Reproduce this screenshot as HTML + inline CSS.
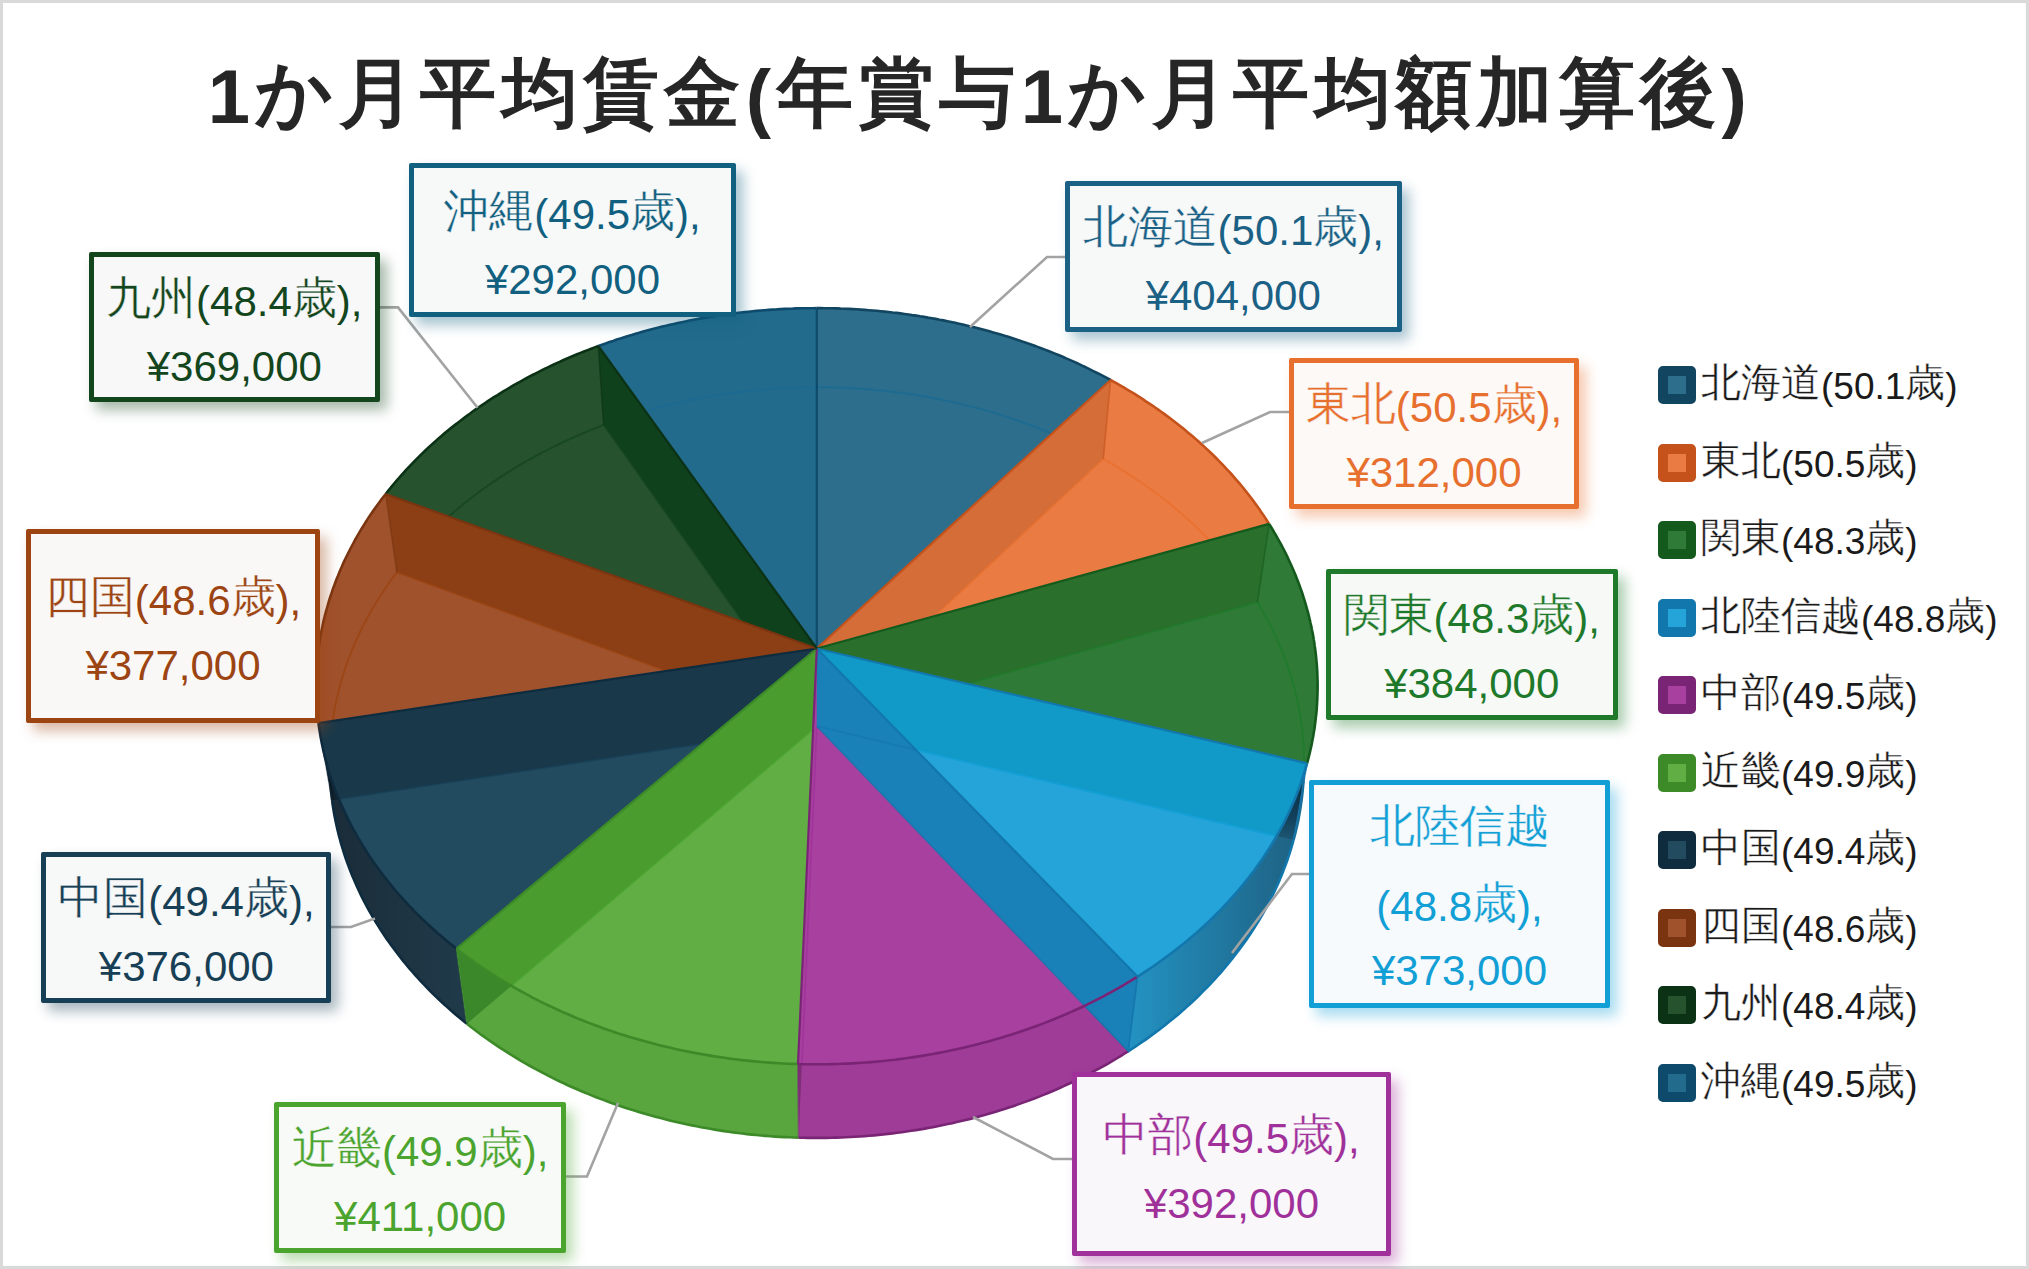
<!DOCTYPE html>
<html><head><meta charset="utf-8"><style>
html,body{margin:0;padding:0;}
body{width:2029px;height:1269px;background:#d9d9d9;position:relative;overflow:hidden;font-family:"Liberation Sans",sans-serif;}
#w{position:absolute;left:3px;top:3px;width:2023px;height:1263px;background:#fff;}
#title{position:absolute;left:0;top:52px;width:1960px;text-align:center;font-size:76px;font-weight:bold;color:#262626;line-height:90px;white-space:nowrap;letter-spacing:5.4px;}
#title .j{font-size:76px;position:relative;top:-4px;}
svg{position:absolute;left:0;top:0;}
.lb{position:absolute;box-sizing:border-box;border:5px solid;background:#f6f7f7;text-align:center;font-size:42px;white-space:nowrap;border-radius:2px;}
.ln{position:absolute;left:0;right:0;height:50px;line-height:50px;}
.lb .j{font-size:45px;position:relative;top:-3px;-webkit-text-stroke:0.4px #f8f8f8;}
.lg{position:absolute;left:1658px;height:38px;white-space:nowrap;}
.mk{position:absolute;left:0;top:0;width:38px;height:38px;box-sizing:border-box;border:10px solid;border-radius:5px;}
.lt{position:absolute;left:43px;top:-6px;font-size:37px;line-height:50px;color:#1a1a1a;}
.lt .j{font-size:40px;position:relative;top:-3px;-webkit-text-stroke:0.4px #fff;}
</style></head><body>
<div id="w"></div>
<div id="title">1<span class="j">か月平均賃金</span>(<span class="j">年賞与</span>1<span class="j">か月平均額加算後</span>)</div>
<svg width="2029" height="1269" viewBox="0 0 2029 1269">
<defs><clipPath id="ts0"><path d="M816.8,648.5 L816.8,308.1 L820.8,308.1 L824.8,308.2 L828.8,308.2 L832.8,308.3 L836.8,308.4 L840.8,308.6 L844.8,308.7 L848.8,308.9 L852.8,309.1 L856.8,309.3 L860.7,309.6 L864.7,309.9 L868.7,310.2 L872.7,310.5 L876.7,310.8 L880.6,311.2 L884.6,311.6 L888.6,312.0 L892.5,312.5 L896.5,312.9 L900.4,313.4 L904.4,314.0 L908.3,314.5 L912.2,315.1 L916.2,315.6 L920.1,316.3 L924.0,316.9 L927.9,317.6 L931.8,318.2 L935.7,318.9 L939.6,319.7 L943.5,320.4 L947.4,321.2 L951.2,322.0 L955.1,322.8 L958.9,323.7 L962.8,324.6 L966.6,325.4 L970.5,326.4 L974.3,327.3 L978.1,328.3 L981.9,329.3 L985.7,330.3 L989.5,331.3 L993.2,332.4 L997.0,333.5 L1000.7,334.6 L1004.5,335.7 L1008.2,336.8 L1011.9,338.0 L1015.6,339.2 L1019.3,340.4 L1023.0,341.7 L1026.7,342.9 L1030.3,344.2 L1034.0,345.5 L1037.6,346.9 L1041.2,348.2 L1044.9,349.6 L1048.4,351.0 L1052.0,352.4 L1055.6,353.9 L1059.1,355.3 L1062.7,356.8 L1066.2,358.4 L1069.7,359.9 L1073.2,361.4 L1076.7,363.0 L1080.2,364.6 L1083.6,366.3 L1087.0,367.9 L1090.4,369.6 L1093.8,371.3 L1097.2,373.0 L1100.6,374.7 L1103.9,376.4 L1107.3,378.2 L1110.6,380.0 Z"/></clipPath>
<clipPath id="ow0"><path d="M816.8,308.1 L820.8,308.1 L824.8,308.2 L828.8,308.2 L832.8,308.3 L836.8,308.4 L840.8,308.6 L844.8,308.7 L848.8,308.9 L852.8,309.1 L856.8,309.3 L860.7,309.6 L864.7,309.9 L868.7,310.2 L872.7,310.5 L876.7,310.8 L880.6,311.2 L884.6,311.6 L888.6,312.0 L892.5,312.5 L896.5,312.9 L900.4,313.4 L904.4,314.0 L908.3,314.5 L912.2,315.1 L916.2,315.6 L920.1,316.3 L924.0,316.9 L927.9,317.6 L931.8,318.2 L935.7,318.9 L939.6,319.7 L943.5,320.4 L947.4,321.2 L951.2,322.0 L955.1,322.8 L958.9,323.7 L962.8,324.6 L966.6,325.4 L970.5,326.4 L974.3,327.3 L978.1,328.3 L981.9,329.3 L985.7,330.3 L989.5,331.3 L993.2,332.4 L997.0,333.5 L1000.7,334.6 L1004.5,335.7 L1008.2,336.8 L1011.9,338.0 L1015.6,339.2 L1019.3,340.4 L1023.0,341.7 L1026.7,342.9 L1030.3,344.2 L1034.0,345.5 L1037.6,346.9 L1041.2,348.2 L1044.9,349.6 L1048.4,351.0 L1052.0,352.4 L1055.6,353.9 L1059.1,355.3 L1062.7,356.8 L1066.2,358.4 L1069.7,359.9 L1073.2,361.4 L1076.7,363.0 L1080.2,364.6 L1083.6,366.3 L1087.0,367.9 L1090.4,369.6 L1093.8,371.3 L1097.2,373.0 L1100.6,374.7 L1103.9,376.4 L1107.3,378.2 L1110.6,380.0 L1103.3,458.9 L1100.0,457.1 L1096.8,455.4 L1093.5,453.6 L1090.3,451.9 L1087.0,450.2 L1083.7,448.5 L1080.3,446.8 L1077.0,445.2 L1073.6,443.6 L1070.2,442.0 L1066.9,440.4 L1063.5,438.8 L1060.0,437.3 L1056.6,435.8 L1053.2,434.3 L1049.7,432.9 L1046.2,431.4 L1042.7,430.0 L1039.2,428.6 L1035.7,427.2 L1032.2,425.9 L1028.6,424.5 L1025.1,423.2 L1021.5,421.9 L1017.9,420.7 L1014.3,419.4 L1010.7,418.2 L1007.1,417.0 L1003.5,415.8 L999.9,414.7 L996.2,413.6 L992.6,412.5 L988.9,411.4 L985.2,410.3 L981.5,409.3 L977.8,408.3 L974.1,407.3 L970.4,406.3 L966.7,405.4 L962.9,404.5 L959.2,403.6 L955.5,402.7 L951.7,401.9 L947.9,401.1 L944.2,400.3 L940.4,399.5 L936.6,398.7 L932.8,398.0 L929.0,397.3 L925.2,396.6 L921.4,395.9 L917.6,395.3 L913.7,394.7 L909.9,394.1 L906.1,393.6 L902.2,393.0 L898.4,392.5 L894.5,392.0 L890.7,391.5 L886.8,391.1 L882.9,390.7 L879.1,390.3 L875.2,389.9 L871.3,389.6 L867.4,389.2 L863.6,388.9 L859.7,388.7 L855.8,388.4 L851.9,388.2 L848.0,388.0 L844.1,387.8 L840.2,387.6 L836.3,387.5 L832.4,387.4 L828.5,387.3 L824.6,387.3 L820.7,387.2 L816.8,387.2 Z"/></clipPath>
<clipPath id="ts1"><path d="M816.8,648.5 L1110.6,380.0 L1113.9,381.8 L1117.2,383.7 L1120.5,385.6 L1123.7,387.4 L1126.9,389.4 L1130.2,391.3 L1133.4,393.2 L1136.5,395.2 L1139.7,397.2 L1142.8,399.2 L1145.9,401.3 L1149.0,403.3 L1152.1,405.4 L1155.2,407.5 L1158.2,409.6 L1161.2,411.7 L1164.2,413.9 L1167.2,416.1 L1170.1,418.3 L1173.0,420.5 L1175.9,422.7 L1178.8,425.0 L1181.7,427.2 L1184.5,429.5 L1187.3,431.9 L1190.1,434.2 L1192.9,436.5 L1195.6,438.9 L1198.3,441.3 L1201.0,443.7 L1203.7,446.1 L1206.3,448.6 L1208.9,451.0 L1211.5,453.5 L1214.1,456.0 L1216.6,458.5 L1219.1,461.1 L1221.6,463.6 L1224.0,466.2 L1226.5,468.8 L1228.9,471.4 L1231.3,474.0 L1233.6,476.6 L1235.9,479.3 L1238.2,481.9 L1240.5,484.6 L1242.7,487.3 L1244.9,490.1 L1247.1,492.8 L1249.2,495.5 L1251.4,498.3 L1253.5,501.1 L1255.5,503.9 L1257.6,506.7 L1259.6,509.5 L1261.5,512.4 L1263.5,515.2 L1265.4,518.1 L1267.2,521.0 L1269.1,523.9 Z"/></clipPath>
<clipPath id="ow1"><path d="M1110.6,380.0 L1113.9,381.8 L1117.2,383.7 L1120.5,385.6 L1123.7,387.4 L1126.9,389.4 L1130.2,391.3 L1133.4,393.2 L1136.5,395.2 L1139.7,397.2 L1142.8,399.2 L1145.9,401.3 L1149.0,403.3 L1152.1,405.4 L1155.2,407.5 L1158.2,409.6 L1161.2,411.7 L1164.2,413.9 L1167.2,416.1 L1170.1,418.3 L1173.0,420.5 L1175.9,422.7 L1178.8,425.0 L1181.7,427.2 L1184.5,429.5 L1187.3,431.9 L1190.1,434.2 L1192.9,436.5 L1195.6,438.9 L1198.3,441.3 L1201.0,443.7 L1203.7,446.1 L1206.3,448.6 L1208.9,451.0 L1211.5,453.5 L1214.1,456.0 L1216.6,458.5 L1219.1,461.1 L1221.6,463.6 L1224.0,466.2 L1226.5,468.8 L1228.9,471.4 L1231.3,474.0 L1233.6,476.6 L1235.9,479.3 L1238.2,481.9 L1240.5,484.6 L1242.7,487.3 L1244.9,490.1 L1247.1,492.8 L1249.2,495.5 L1251.4,498.3 L1253.5,501.1 L1255.5,503.9 L1257.6,506.7 L1259.6,509.5 L1261.5,512.4 L1263.5,515.2 L1265.4,518.1 L1267.2,521.0 L1269.1,523.9 L1257.4,602.2 L1255.6,599.4 L1253.8,596.5 L1251.9,593.6 L1250.0,590.8 L1248.1,587.9 L1246.2,585.1 L1244.2,582.3 L1242.2,579.5 L1240.2,576.8 L1238.1,574.0 L1236.0,571.3 L1233.9,568.6 L1231.8,565.8 L1229.6,563.2 L1227.4,560.5 L1225.2,557.8 L1222.9,555.2 L1220.7,552.6 L1218.4,549.9 L1216.0,547.4 L1213.7,544.8 L1211.3,542.2 L1208.9,539.7 L1206.4,537.2 L1204.0,534.7 L1201.5,532.2 L1199.0,529.7 L1196.4,527.2 L1193.9,524.8 L1191.3,522.4 L1188.6,520.0 L1186.0,517.6 L1183.3,515.3 L1180.7,512.9 L1178.0,510.6 L1175.2,508.3 L1172.5,506.0 L1169.7,503.7 L1166.9,501.5 L1164.1,499.3 L1161.2,497.0 L1158.4,494.9 L1155.5,492.7 L1152.6,490.5 L1149.6,488.4 L1146.7,486.3 L1143.7,484.2 L1140.7,482.1 L1137.7,480.1 L1134.7,478.1 L1131.6,476.1 L1128.5,474.1 L1125.4,472.1 L1122.3,470.2 L1119.2,468.2 L1116.0,466.3 L1112.9,464.4 L1109.7,462.6 L1106.5,460.7 L1103.3,458.9 Z"/></clipPath>
<clipPath id="ts2"><path d="M816.8,648.5 L1269.1,523.9 L1270.9,526.8 L1272.7,529.7 L1274.4,532.7 L1276.2,535.6 L1277.8,538.6 L1279.5,541.6 L1281.1,544.5 L1282.7,547.5 L1284.3,550.6 L1285.8,553.6 L1287.3,556.6 L1288.7,559.7 L1290.1,562.7 L1291.5,565.8 L1292.9,568.9 L1294.2,572.0 L1295.5,575.1 L1296.7,578.2 L1298.0,581.4 L1299.1,584.5 L1300.3,587.7 L1301.4,590.8 L1302.5,594.0 L1303.5,597.2 L1304.5,600.4 L1305.5,603.6 L1306.4,606.8 L1307.3,610.0 L1308.2,613.2 L1309.0,616.5 L1309.8,619.7 L1310.5,623.0 L1311.3,626.2 L1311.9,629.5 L1312.6,632.8 L1313.2,636.0 L1313.7,639.3 L1314.3,642.6 L1314.7,645.9 L1315.2,649.2 L1315.6,652.5 L1316.0,655.8 L1316.3,659.2 L1316.6,662.5 L1316.9,665.8 L1317.1,669.2 L1317.3,672.5 L1317.4,675.9 L1317.5,679.2 L1317.6,682.6 L1317.6,685.9 L1317.6,689.3 L1317.5,692.6 L1317.4,696.0 L1317.3,699.4 L1317.1,702.7 L1316.9,706.1 L1316.7,709.5 L1316.4,712.8 L1316.0,716.2 L1315.6,719.6 L1315.2,723.0 L1314.8,726.3 L1314.3,729.7 L1313.7,733.1 L1313.2,736.5 L1312.5,739.8 L1311.9,743.2 L1311.2,746.6 L1310.4,749.9 L1309.7,753.3 L1308.8,756.7 L1308.0,760.0 L1307.1,763.4 Z"/></clipPath>
<clipPath id="ow2"><path d="M1269.1,523.9 L1270.9,526.8 L1272.7,529.7 L1274.4,532.7 L1276.2,535.6 L1277.8,538.6 L1279.5,541.6 L1281.1,544.5 L1282.7,547.5 L1284.3,550.6 L1285.8,553.6 L1287.3,556.6 L1288.7,559.7 L1290.1,562.7 L1291.5,565.8 L1292.9,568.9 L1294.2,572.0 L1295.5,575.1 L1296.7,578.2 L1298.0,581.4 L1299.1,584.5 L1300.3,587.7 L1301.4,590.8 L1302.5,594.0 L1303.5,597.2 L1304.5,600.4 L1305.5,603.6 L1306.4,606.8 L1307.3,610.0 L1308.2,613.2 L1309.0,616.5 L1309.8,619.7 L1310.5,623.0 L1311.3,626.2 L1311.9,629.5 L1312.6,632.8 L1313.2,636.0 L1313.7,639.3 L1314.3,642.6 L1314.7,645.9 L1315.2,649.2 L1315.6,652.5 L1316.0,655.8 L1316.3,659.2 L1316.6,662.5 L1316.9,665.8 L1317.1,669.2 L1317.3,672.5 L1317.4,675.9 L1317.5,679.2 L1317.6,682.6 L1317.6,685.9 L1317.6,689.3 L1317.5,692.6 L1317.4,696.0 L1317.3,699.4 L1317.1,702.7 L1316.9,706.1 L1316.7,709.5 L1316.4,712.8 L1316.0,716.2 L1315.6,719.6 L1315.2,723.0 L1314.8,726.3 L1314.3,729.7 L1313.7,733.1 L1313.2,736.5 L1312.5,739.8 L1311.9,743.2 L1311.2,746.6 L1310.4,749.9 L1309.7,753.3 L1308.8,756.7 L1308.0,760.0 L1307.1,763.4 L1293.5,840.1 L1294.4,836.8 L1295.3,833.5 L1296.1,830.1 L1296.9,826.8 L1297.6,823.5 L1298.3,820.1 L1299.0,816.8 L1299.6,813.4 L1300.1,810.1 L1300.7,806.7 L1301.2,803.4 L1301.6,800.1 L1302.0,796.7 L1302.4,793.4 L1302.8,790.0 L1303.1,786.7 L1303.3,783.3 L1303.5,780.0 L1303.7,776.6 L1303.9,773.3 L1304.0,769.9 L1304.0,766.6 L1304.1,763.3 L1304.0,759.9 L1304.0,756.6 L1303.9,753.3 L1303.8,750.0 L1303.6,746.7 L1303.4,743.3 L1303.2,740.0 L1302.9,736.7 L1302.6,733.4 L1302.2,730.1 L1301.8,726.8 L1301.4,723.6 L1301.0,720.3 L1300.5,717.0 L1299.9,713.7 L1299.3,710.5 L1298.7,707.2 L1298.1,704.0 L1297.4,700.7 L1296.7,697.5 L1295.9,694.3 L1295.1,691.1 L1294.3,687.9 L1293.5,684.7 L1292.6,681.5 L1291.6,678.3 L1290.7,675.1 L1289.7,672.0 L1288.6,668.8 L1287.5,665.7 L1286.4,662.5 L1285.3,659.4 L1284.1,656.3 L1282.9,653.2 L1281.7,650.1 L1280.4,647.0 L1279.1,644.0 L1277.8,640.9 L1276.4,637.8 L1275.0,634.8 L1273.5,631.8 L1272.1,628.8 L1270.6,625.8 L1269.0,622.8 L1267.4,619.8 L1265.8,616.8 L1264.2,613.9 L1262.6,611.0 L1260.9,608.0 L1259.1,605.1 L1257.4,602.2 Z"/></clipPath>
<clipPath id="ts3"><path d="M816.8,648.5 L1307.1,763.4 L1306.1,766.7 L1305.1,770.1 L1304.1,773.4 L1303.0,776.7 L1301.9,780.1 L1300.8,783.4 L1299.6,786.7 L1298.4,790.0 L1297.1,793.3 L1295.8,796.6 L1294.4,799.9 L1293.0,803.2 L1291.6,806.5 L1290.1,809.8 L1288.6,813.0 L1287.0,816.3 L1285.4,819.5 L1283.8,822.8 L1282.1,826.0 L1280.4,829.2 L1278.6,832.5 L1276.8,835.7 L1275.0,838.9 L1273.1,842.0 L1271.2,845.2 L1269.2,848.4 L1267.2,851.5 L1265.1,854.7 L1263.1,857.8 L1260.9,860.9 L1258.8,864.0 L1256.6,867.1 L1254.3,870.2 L1252.0,873.3 L1249.7,876.3 L1247.3,879.3 L1244.9,882.4 L1242.5,885.4 L1240.0,888.4 L1237.5,891.3 L1234.9,894.3 L1232.3,897.2 L1229.7,900.2 L1227.0,903.1 L1224.3,906.0 L1221.6,908.8 L1218.8,911.7 L1216.0,914.5 L1213.1,917.4 L1210.2,920.2 L1207.3,923.0 L1204.3,925.7 L1201.3,928.5 L1198.3,931.2 L1195.2,933.9 L1192.1,936.6 L1188.9,939.3 L1185.7,941.9 L1182.5,944.5 L1179.2,947.1 L1175.9,949.7 L1172.6,952.3 L1169.3,954.8 L1165.9,957.3 L1162.4,959.8 L1159.0,962.3 L1155.5,964.7 L1152.0,967.2 L1148.4,969.6 L1144.8,971.9 L1141.2,974.3 L1137.5,976.6 Z"/></clipPath>
<clipPath id="ow3"><path d="M1307.1,763.4 L1306.1,766.7 L1305.1,770.1 L1304.1,773.4 L1303.0,776.7 L1301.9,780.1 L1300.8,783.4 L1299.6,786.7 L1298.4,790.0 L1297.1,793.3 L1295.8,796.6 L1294.4,799.9 L1293.0,803.2 L1291.6,806.5 L1290.1,809.8 L1288.6,813.0 L1287.0,816.3 L1285.4,819.5 L1283.8,822.8 L1282.1,826.0 L1280.4,829.2 L1278.6,832.5 L1276.8,835.7 L1275.0,838.9 L1273.1,842.0 L1271.2,845.2 L1269.2,848.4 L1267.2,851.5 L1265.1,854.7 L1263.1,857.8 L1260.9,860.9 L1258.8,864.0 L1256.6,867.1 L1254.3,870.2 L1252.0,873.3 L1249.7,876.3 L1247.3,879.3 L1244.9,882.4 L1242.5,885.4 L1240.0,888.4 L1237.5,891.3 L1234.9,894.3 L1232.3,897.2 L1229.7,900.2 L1227.0,903.1 L1224.3,906.0 L1221.6,908.8 L1218.8,911.7 L1216.0,914.5 L1213.1,917.4 L1210.2,920.2 L1207.3,923.0 L1204.3,925.7 L1201.3,928.5 L1198.3,931.2 L1195.2,933.9 L1192.1,936.6 L1188.9,939.3 L1185.7,941.9 L1182.5,944.5 L1179.2,947.1 L1175.9,949.7 L1172.6,952.3 L1169.3,954.8 L1165.9,957.3 L1162.4,959.8 L1159.0,962.3 L1155.5,964.7 L1152.0,967.2 L1148.4,969.6 L1144.8,971.9 L1141.2,974.3 L1137.5,976.6 L1128.2,1051.3 L1131.8,1049.0 L1135.3,1046.7 L1138.8,1044.3 L1142.2,1041.9 L1145.7,1039.6 L1149.1,1037.1 L1152.4,1034.7 L1155.8,1032.2 L1159.1,1029.7 L1162.3,1027.2 L1165.6,1024.7 L1168.8,1022.1 L1172.0,1019.6 L1175.1,1017.0 L1178.2,1014.4 L1181.3,1011.7 L1184.3,1009.1 L1187.3,1006.4 L1190.3,1003.7 L1193.2,1001.0 L1196.1,998.2 L1198.9,995.5 L1201.8,992.7 L1204.5,989.9 L1207.3,987.1 L1210.0,984.3 L1212.7,981.4 L1215.3,978.5 L1217.9,975.7 L1220.5,972.8 L1223.0,969.9 L1225.5,966.9 L1228.0,964.0 L1230.4,961.0 L1232.8,958.0 L1235.1,955.0 L1237.4,952.0 L1239.7,949.0 L1241.9,946.0 L1244.1,942.9 L1246.3,939.9 L1248.4,936.8 L1250.5,933.7 L1252.5,930.6 L1254.5,927.5 L1256.5,924.4 L1258.4,921.3 L1260.3,918.1 L1262.1,915.0 L1263.9,911.8 L1265.7,908.6 L1267.4,905.4 L1269.1,902.2 L1270.7,899.0 L1272.3,895.8 L1273.9,892.6 L1275.4,889.4 L1276.9,886.1 L1278.4,882.9 L1279.8,879.6 L1281.1,876.4 L1282.5,873.1 L1283.7,869.8 L1285.0,866.6 L1286.2,863.3 L1287.4,860.0 L1288.5,856.7 L1289.6,853.4 L1290.6,850.1 L1291.6,846.8 L1292.6,843.5 L1293.5,840.1 Z"/></clipPath>
<clipPath id="ts4"><path d="M816.8,648.5 L1137.5,976.6 L1133.9,978.9 L1130.2,981.2 L1126.4,983.4 L1122.7,985.6 L1118.9,987.8 L1115.1,989.9 L1111.2,992.1 L1107.3,994.2 L1103.4,996.3 L1099.5,998.3 L1095.5,1000.3 L1091.5,1002.3 L1087.5,1004.3 L1083.5,1006.3 L1079.4,1008.2 L1075.3,1010.0 L1071.2,1011.9 L1067.0,1013.7 L1062.9,1015.5 L1058.7,1017.3 L1054.5,1019.0 L1050.2,1020.7 L1045.9,1022.4 L1041.6,1024.1 L1037.3,1025.7 L1033.0,1027.3 L1028.6,1028.8 L1024.3,1030.3 L1019.9,1031.8 L1015.5,1033.3 L1011.0,1034.7 L1006.6,1036.1 L1002.1,1037.5 L997.6,1038.8 L993.1,1040.1 L988.5,1041.4 L984.0,1042.6 L979.4,1043.8 L974.8,1045.0 L970.2,1046.1 L965.6,1047.2 L961.0,1048.3 L956.4,1049.3 L951.7,1050.3 L947.0,1051.3 L942.3,1052.2 L937.6,1053.1 L932.9,1054.0 L928.2,1054.8 L923.5,1055.6 L918.7,1056.4 L914.0,1057.1 L909.2,1057.8 L904.4,1058.5 L899.6,1059.1 L894.9,1059.7 L890.1,1060.2 L885.3,1060.8 L880.4,1061.2 L875.6,1061.7 L870.8,1062.1 L866.0,1062.5 L861.1,1062.8 L856.3,1063.1 L851.4,1063.4 L846.6,1063.6 L841.7,1063.8 L836.9,1064.0 L832.0,1064.1 L827.2,1064.2 L822.3,1064.3 L817.4,1064.3 L812.6,1064.3 L807.7,1064.2 L802.9,1064.2 L798.0,1064.0 Z"/></clipPath>
<clipPath id="ow4"><path d="M1137.5,976.6 L1133.9,978.9 L1130.2,981.2 L1126.4,983.4 L1122.7,985.6 L1118.9,987.8 L1115.1,989.9 L1111.2,992.1 L1107.3,994.2 L1103.4,996.3 L1099.5,998.3 L1095.5,1000.3 L1091.5,1002.3 L1087.5,1004.3 L1083.5,1006.3 L1079.4,1008.2 L1075.3,1010.0 L1071.2,1011.9 L1067.0,1013.7 L1062.9,1015.5 L1058.7,1017.3 L1054.5,1019.0 L1050.2,1020.7 L1045.9,1022.4 L1041.6,1024.1 L1037.3,1025.7 L1033.0,1027.3 L1028.6,1028.8 L1024.3,1030.3 L1019.9,1031.8 L1015.5,1033.3 L1011.0,1034.7 L1006.6,1036.1 L1002.1,1037.5 L997.6,1038.8 L993.1,1040.1 L988.5,1041.4 L984.0,1042.6 L979.4,1043.8 L974.8,1045.0 L970.2,1046.1 L965.6,1047.2 L961.0,1048.3 L956.4,1049.3 L951.7,1050.3 L947.0,1051.3 L942.3,1052.2 L937.6,1053.1 L932.9,1054.0 L928.2,1054.8 L923.5,1055.6 L918.7,1056.4 L914.0,1057.1 L909.2,1057.8 L904.4,1058.5 L899.6,1059.1 L894.9,1059.7 L890.1,1060.2 L885.3,1060.8 L880.4,1061.2 L875.6,1061.7 L870.8,1062.1 L866.0,1062.5 L861.1,1062.8 L856.3,1063.1 L851.4,1063.4 L846.6,1063.6 L841.7,1063.8 L836.9,1064.0 L832.0,1064.1 L827.2,1064.2 L822.3,1064.3 L817.4,1064.3 L812.6,1064.3 L807.7,1064.2 L802.9,1064.2 L798.0,1064.0 L798.6,1137.7 L803.3,1137.8 L808.0,1137.9 L812.7,1137.9 L817.4,1137.9 L822.1,1137.9 L826.9,1137.9 L831.6,1137.8 L836.3,1137.6 L841.0,1137.5 L845.7,1137.3 L850.4,1137.0 L855.1,1136.8 L859.8,1136.5 L864.5,1136.1 L869.2,1135.8 L873.9,1135.4 L878.6,1134.9 L883.2,1134.4 L887.9,1133.9 L892.5,1133.4 L897.2,1132.8 L901.8,1132.2 L906.5,1131.5 L911.1,1130.8 L915.7,1130.1 L920.3,1129.4 L924.9,1128.6 L929.5,1127.8 L934.1,1126.9 L938.6,1126.0 L943.2,1125.1 L947.7,1124.1 L952.2,1123.2 L956.7,1122.1 L961.2,1121.1 L965.7,1120.0 L970.2,1118.9 L974.6,1117.7 L979.1,1116.5 L983.5,1115.3 L987.9,1114.1 L992.3,1112.8 L996.6,1111.5 L1001.0,1110.1 L1005.3,1108.7 L1009.6,1107.3 L1013.9,1105.9 L1018.2,1104.4 L1022.4,1102.9 L1026.6,1101.4 L1030.9,1099.8 L1035.0,1098.2 L1039.2,1096.6 L1043.4,1094.9 L1047.5,1093.2 L1051.6,1091.5 L1055.7,1089.8 L1059.7,1088.0 L1063.7,1086.2 L1067.7,1084.3 L1071.7,1082.5 L1075.7,1080.6 L1079.6,1078.7 L1083.5,1076.7 L1087.4,1074.8 L1091.2,1072.8 L1095.1,1070.7 L1098.9,1068.7 L1102.6,1066.6 L1106.4,1064.5 L1110.1,1062.3 L1113.8,1060.2 L1117.4,1058.0 L1121.0,1055.8 L1124.6,1053.5 L1128.2,1051.3 Z"/></clipPath>
<clipPath id="ts5"><path d="M816.8,648.5 L798.0,1064.0 L793.2,1063.9 L788.3,1063.7 L783.5,1063.5 L778.7,1063.2 L773.8,1062.9 L769.0,1062.6 L764.2,1062.2 L759.4,1061.8 L754.6,1061.4 L749.8,1060.9 L745.0,1060.4 L740.2,1059.9 L735.5,1059.3 L730.7,1058.7 L725.9,1058.0 L721.2,1057.3 L716.4,1056.6 L711.7,1055.9 L707.0,1055.1 L702.3,1054.3 L697.6,1053.4 L692.9,1052.5 L688.2,1051.6 L683.6,1050.7 L678.9,1049.7 L674.3,1048.7 L669.7,1047.6 L665.1,1046.5 L660.5,1045.4 L655.9,1044.3 L651.4,1043.1 L646.8,1041.8 L642.3,1040.6 L637.8,1039.3 L633.3,1038.0 L628.9,1036.7 L624.4,1035.3 L620.0,1033.9 L615.6,1032.4 L611.2,1030.9 L606.8,1029.4 L602.5,1027.9 L598.1,1026.3 L593.8,1024.7 L589.6,1023.1 L585.3,1021.5 L581.1,1019.8 L576.8,1018.1 L572.7,1016.3 L568.5,1014.5 L564.3,1012.7 L560.2,1010.9 L556.1,1009.0 L552.1,1007.1 L548.0,1005.2 L544.0,1003.3 L540.0,1001.3 L536.1,999.3 L532.1,997.3 L528.2,995.2 L524.4,993.1 L520.5,991.0 L516.7,988.9 L512.9,986.7 L509.1,984.5 L505.4,982.3 L501.7,980.0 L498.0,977.8 L494.4,975.5 L490.8,973.2 L487.2,970.8 L483.7,968.5 L480.1,966.1 L476.7,963.7 L473.2,961.2 L469.8,958.8 L466.4,956.3 L463.1,953.8 L459.7,951.3 L456.5,948.7 Z"/></clipPath>
<clipPath id="ow5"><path d="M798.0,1064.0 L793.2,1063.9 L788.3,1063.7 L783.5,1063.5 L778.7,1063.2 L773.8,1062.9 L769.0,1062.6 L764.2,1062.2 L759.4,1061.8 L754.6,1061.4 L749.8,1060.9 L745.0,1060.4 L740.2,1059.9 L735.5,1059.3 L730.7,1058.7 L725.9,1058.0 L721.2,1057.3 L716.4,1056.6 L711.7,1055.9 L707.0,1055.1 L702.3,1054.3 L697.6,1053.4 L692.9,1052.5 L688.2,1051.6 L683.6,1050.7 L678.9,1049.7 L674.3,1048.7 L669.7,1047.6 L665.1,1046.5 L660.5,1045.4 L655.9,1044.3 L651.4,1043.1 L646.8,1041.8 L642.3,1040.6 L637.8,1039.3 L633.3,1038.0 L628.9,1036.7 L624.4,1035.3 L620.0,1033.9 L615.6,1032.4 L611.2,1030.9 L606.8,1029.4 L602.5,1027.9 L598.1,1026.3 L593.8,1024.7 L589.6,1023.1 L585.3,1021.5 L581.1,1019.8 L576.8,1018.1 L572.7,1016.3 L568.5,1014.5 L564.3,1012.7 L560.2,1010.9 L556.1,1009.0 L552.1,1007.1 L548.0,1005.2 L544.0,1003.3 L540.0,1001.3 L536.1,999.3 L532.1,997.3 L528.2,995.2 L524.4,993.1 L520.5,991.0 L516.7,988.9 L512.9,986.7 L509.1,984.5 L505.4,982.3 L501.7,980.0 L498.0,977.8 L494.4,975.5 L490.8,973.2 L487.2,970.8 L483.7,968.5 L480.1,966.1 L476.7,963.7 L473.2,961.2 L469.8,958.8 L466.4,956.3 L463.1,953.8 L459.7,951.3 L456.5,948.7 L466.9,1023.7 L470.0,1026.2 L473.3,1028.7 L476.5,1031.2 L479.8,1033.7 L483.2,1036.1 L486.5,1038.5 L489.9,1040.9 L493.3,1043.2 L496.8,1045.6 L500.2,1047.9 L503.8,1050.2 L507.3,1052.4 L510.9,1054.7 L514.5,1056.9 L518.1,1059.1 L521.8,1061.3 L525.4,1063.4 L529.1,1065.5 L532.9,1067.6 L536.7,1069.7 L540.5,1071.7 L544.3,1073.7 L548.1,1075.7 L552.0,1077.6 L555.9,1079.6 L559.8,1081.5 L563.8,1083.3 L567.7,1085.2 L571.7,1087.0 L575.8,1088.8 L579.8,1090.5 L583.9,1092.3 L588.0,1093.9 L592.1,1095.6 L596.2,1097.3 L600.4,1098.9 L604.6,1100.4 L608.8,1102.0 L613.0,1103.5 L617.2,1105.0 L621.5,1106.4 L625.8,1107.9 L630.1,1109.3 L634.4,1110.6 L638.7,1112.0 L643.1,1113.3 L647.5,1114.5 L651.9,1115.8 L656.3,1117.0 L660.7,1118.1 L665.1,1119.3 L669.6,1120.4 L674.0,1121.5 L678.5,1122.5 L683.0,1123.5 L687.5,1124.5 L692.0,1125.4 L696.6,1126.3 L701.1,1127.2 L705.7,1128.0 L710.2,1128.8 L714.8,1129.6 L719.4,1130.4 L724.0,1131.1 L728.6,1131.7 L733.2,1132.4 L737.9,1133.0 L742.5,1133.5 L747.1,1134.1 L751.8,1134.6 L756.4,1135.0 L761.1,1135.5 L765.8,1135.9 L770.4,1136.2 L775.1,1136.6 L779.8,1136.9 L784.5,1137.1 L789.2,1137.3 L793.9,1137.5 L798.6,1137.7 Z"/></clipPath>
<clipPath id="ts6"><path d="M816.8,648.5 L456.5,948.7 L453.2,946.1 L450.0,943.6 L446.8,940.9 L443.6,938.3 L440.5,935.6 L437.4,933.0 L434.4,930.3 L431.4,927.5 L428.4,924.8 L425.4,922.0 L422.5,919.3 L419.7,916.5 L416.8,913.7 L414.0,910.8 L411.3,908.0 L408.5,905.1 L405.9,902.2 L403.2,899.3 L400.6,896.4 L398.0,893.5 L395.5,890.5 L393.0,887.6 L390.6,884.6 L388.1,881.6 L385.8,878.6 L383.4,875.6 L381.1,872.5 L378.9,869.5 L376.6,866.4 L374.4,863.4 L372.3,860.3 L370.2,857.2 L368.1,854.1 L366.1,850.9 L364.1,847.8 L362.2,844.6 L360.3,841.5 L358.4,838.3 L356.6,835.1 L354.8,832.0 L353.0,828.8 L351.3,825.6 L349.7,822.3 L348.0,819.1 L346.5,815.9 L344.9,812.6 L343.4,809.4 L341.9,806.1 L340.5,802.9 L339.1,799.6 L337.8,796.3 L336.5,793.0 L335.2,789.7 L334.0,786.4 L332.8,783.1 L331.7,779.8 L330.6,776.5 L329.5,773.2 L328.5,769.9 L327.5,766.6 L326.6,763.2 L325.7,759.9 L324.8,756.6 L324.0,753.2 L323.2,749.9 L322.5,746.6 L321.8,743.2 L321.2,739.9 L320.5,736.5 L320.0,733.2 L319.4,729.8 L318.9,726.5 L318.5,723.1 Z"/></clipPath>
<clipPath id="ow6"><path d="M456.5,948.7 L453.2,946.1 L450.0,943.6 L446.8,940.9 L443.6,938.3 L440.5,935.6 L437.4,933.0 L434.4,930.3 L431.4,927.5 L428.4,924.8 L425.4,922.0 L422.5,919.3 L419.7,916.5 L416.8,913.7 L414.0,910.8 L411.3,908.0 L408.5,905.1 L405.9,902.2 L403.2,899.3 L400.6,896.4 L398.0,893.5 L395.5,890.5 L393.0,887.6 L390.6,884.6 L388.1,881.6 L385.8,878.6 L383.4,875.6 L381.1,872.5 L378.9,869.5 L376.6,866.4 L374.4,863.4 L372.3,860.3 L370.2,857.2 L368.1,854.1 L366.1,850.9 L364.1,847.8 L362.2,844.6 L360.3,841.5 L358.4,838.3 L356.6,835.1 L354.8,832.0 L353.0,828.8 L351.3,825.6 L349.7,822.3 L348.0,819.1 L346.5,815.9 L344.9,812.6 L343.4,809.4 L341.9,806.1 L340.5,802.9 L339.1,799.6 L337.8,796.3 L336.5,793.0 L335.2,789.7 L334.0,786.4 L332.8,783.1 L331.7,779.8 L330.6,776.5 L329.5,773.2 L328.5,769.9 L327.5,766.6 L326.6,763.2 L325.7,759.9 L324.8,756.6 L324.0,753.2 L323.2,749.9 L322.5,746.6 L321.8,743.2 L321.2,739.9 L320.5,736.5 L320.0,733.2 L319.4,729.8 L318.9,726.5 L318.5,723.1 L332.1,800.2 L332.5,803.5 L333.0,806.9 L333.6,810.2 L334.1,813.5 L334.7,816.8 L335.4,820.2 L336.1,823.5 L336.8,826.8 L337.6,830.1 L338.4,833.4 L339.2,836.7 L340.1,840.0 L341.0,843.3 L342.0,846.6 L343.0,849.9 L344.0,853.2 L345.1,856.5 L346.2,859.7 L347.4,863.0 L348.6,866.3 L349.8,869.5 L351.1,872.8 L352.4,876.1 L353.8,879.3 L355.2,882.5 L356.6,885.8 L358.1,889.0 L359.6,892.2 L361.1,895.4 L362.7,898.6 L364.4,901.8 L366.0,905.0 L367.7,908.1 L369.5,911.3 L371.3,914.4 L373.1,917.6 L375.0,920.7 L376.9,923.8 L378.8,926.9 L380.8,930.0 L382.8,933.1 L384.9,936.2 L386.9,939.2 L389.1,942.3 L391.2,945.3 L393.5,948.3 L395.7,951.3 L398.0,954.3 L400.3,957.3 L402.7,960.3 L405.1,963.2 L407.5,966.1 L410.0,969.1 L412.5,972.0 L415.0,974.8 L417.6,977.7 L420.2,980.6 L422.9,983.4 L425.5,986.2 L428.3,989.0 L431.0,991.8 L433.8,994.6 L436.7,997.3 L439.5,1000.0 L442.4,1002.8 L445.4,1005.4 L448.3,1008.1 L451.3,1010.8 L454.4,1013.4 L457.4,1016.0 L460.5,1018.6 L463.7,1021.2 L466.9,1023.7 Z"/></clipPath>
<clipPath id="ts7"><path d="M816.8,648.5 L318.5,723.1 L318.1,719.8 L317.7,716.4 L317.3,713.1 L317.1,709.7 L316.8,706.4 L316.6,703.0 L316.4,699.6 L316.3,696.3 L316.2,693.0 L316.1,689.6 L316.1,686.3 L316.1,682.9 L316.2,679.6 L316.3,676.3 L316.4,672.9 L316.6,669.6 L316.8,666.3 L317.0,663.0 L317.3,659.6 L317.7,656.3 L318.0,653.0 L318.4,649.7 L318.9,646.4 L319.3,643.2 L319.9,639.9 L320.4,636.6 L321.0,633.3 L321.6,630.1 L322.3,626.8 L323.0,623.6 L323.7,620.4 L324.5,617.1 L325.3,613.9 L326.2,610.7 L327.1,607.5 L328.0,604.3 L328.9,601.1 L329.9,597.9 L331.0,594.8 L332.0,591.6 L333.1,588.4 L334.3,585.3 L335.4,582.2 L336.6,579.1 L337.9,576.0 L339.1,572.9 L340.4,569.8 L341.8,566.7 L343.1,563.6 L344.5,560.6 L346.0,557.5 L347.5,554.5 L349.0,551.5 L350.5,548.5 L352.1,545.5 L353.7,542.5 L355.3,539.5 L357.0,536.6 L358.7,533.6 L360.4,530.7 L362.2,527.8 L364.0,524.9 L365.8,522.0 L367.6,519.1 L369.5,516.3 L371.4,513.4 L373.4,510.6 L375.4,507.8 L377.4,505.0 L379.4,502.2 L381.5,499.4 L383.5,496.7 L385.7,494.0 Z"/></clipPath>
<clipPath id="ow7"><path d="M318.5,723.1 L318.1,719.8 L317.7,716.4 L317.3,713.1 L317.1,709.7 L316.8,706.4 L316.6,703.0 L316.4,699.6 L316.3,696.3 L316.2,693.0 L316.1,689.6 L316.1,686.3 L316.1,682.9 L316.2,679.6 L316.3,676.3 L316.4,672.9 L316.6,669.6 L316.8,666.3 L317.0,663.0 L317.3,659.6 L317.7,656.3 L318.0,653.0 L318.4,649.7 L318.9,646.4 L319.3,643.2 L319.9,639.9 L320.4,636.6 L321.0,633.3 L321.6,630.1 L322.3,626.8 L323.0,623.6 L323.7,620.4 L324.5,617.1 L325.3,613.9 L326.2,610.7 L327.1,607.5 L328.0,604.3 L328.9,601.1 L329.9,597.9 L331.0,594.8 L332.0,591.6 L333.1,588.4 L334.3,585.3 L335.4,582.2 L336.6,579.1 L337.9,576.0 L339.1,572.9 L340.4,569.8 L341.8,566.7 L343.1,563.6 L344.5,560.6 L346.0,557.5 L347.5,554.5 L349.0,551.5 L350.5,548.5 L352.1,545.5 L353.7,542.5 L355.3,539.5 L357.0,536.6 L358.7,533.6 L360.4,530.7 L362.2,527.8 L364.0,524.9 L365.8,522.0 L367.6,519.1 L369.5,516.3 L371.4,513.4 L373.4,510.6 L375.4,507.8 L377.4,505.0 L379.4,502.2 L381.5,499.4 L383.5,496.7 L385.7,494.0 L396.8,572.4 L394.7,575.2 L392.7,577.9 L390.7,580.7 L388.7,583.4 L386.7,586.2 L384.8,589.0 L382.9,591.8 L381.1,594.7 L379.3,597.5 L377.5,600.4 L375.7,603.2 L374.0,606.1 L372.2,609.0 L370.6,611.9 L368.9,614.9 L367.3,617.8 L365.7,620.8 L364.2,623.7 L362.7,626.7 L361.2,629.7 L359.7,632.7 L358.3,635.7 L356.9,638.7 L355.5,641.8 L354.2,644.8 L352.9,647.9 L351.7,650.9 L350.4,654.0 L349.2,657.1 L348.1,660.2 L347.0,663.3 L345.9,666.4 L344.8,669.6 L343.8,672.7 L342.8,675.9 L341.8,679.0 L340.9,682.2 L340.0,685.4 L339.2,688.6 L338.4,691.8 L337.6,695.0 L336.9,698.2 L336.1,701.4 L335.5,704.6 L334.8,707.8 L334.2,711.1 L333.7,714.3 L333.1,717.6 L332.6,720.8 L332.2,724.1 L331.8,727.4 L331.4,730.6 L331.0,733.9 L330.7,737.2 L330.5,740.5 L330.2,743.8 L330.0,747.1 L329.9,750.4 L329.8,753.7 L329.7,757.0 L329.6,760.3 L329.6,763.6 L329.7,766.9 L329.7,770.3 L329.8,773.6 L330.0,776.9 L330.2,780.2 L330.4,783.6 L330.6,786.9 L330.9,790.2 L331.3,793.6 L331.7,796.9 L332.1,800.2 Z"/></clipPath>
<clipPath id="ts8"><path d="M816.8,648.5 L385.7,494.0 L387.8,491.2 L390.0,488.6 L392.2,485.9 L394.4,483.2 L396.6,480.6 L398.9,478.0 L401.2,475.4 L403.5,472.8 L405.9,470.2 L408.3,467.6 L410.7,465.1 L413.1,462.6 L415.5,460.1 L418.0,457.6 L420.5,455.1 L423.1,452.6 L425.6,450.2 L428.2,447.8 L430.8,445.4 L433.5,443.0 L436.1,440.6 L438.8,438.3 L441.5,436.0 L444.2,433.6 L447.0,431.3 L449.7,429.1 L452.5,426.8 L455.4,424.6 L458.2,422.4 L461.1,420.2 L463.9,418.0 L466.9,415.8 L469.8,413.7 L472.7,411.5 L475.7,409.4 L478.7,407.4 L481.7,405.3 L484.7,403.3 L487.8,401.2 L490.9,399.2 L493.9,397.2 L497.1,395.3 L500.2,393.3 L503.3,391.4 L506.5,389.5 L509.7,387.6 L512.9,385.7 L516.1,383.9 L519.4,382.1 L522.6,380.3 L525.9,378.5 L529.2,376.7 L532.5,375.0 L535.8,373.3 L539.2,371.6 L542.5,369.9 L545.9,368.3 L549.3,366.6 L552.7,365.0 L556.1,363.4 L559.6,361.9 L563.0,360.3 L566.5,358.8 L570.0,357.3 L573.5,355.8 L577.0,354.3 L580.5,352.9 L584.0,351.5 L587.6,350.1 L591.2,348.7 L594.7,347.4 L598.3,346.0 Z"/></clipPath>
<clipPath id="ow8"><path d="M385.7,494.0 L387.8,491.2 L390.0,488.6 L392.2,485.9 L394.4,483.2 L396.6,480.6 L398.9,478.0 L401.2,475.4 L403.5,472.8 L405.9,470.2 L408.3,467.6 L410.7,465.1 L413.1,462.6 L415.5,460.1 L418.0,457.6 L420.5,455.1 L423.1,452.6 L425.6,450.2 L428.2,447.8 L430.8,445.4 L433.5,443.0 L436.1,440.6 L438.8,438.3 L441.5,436.0 L444.2,433.6 L447.0,431.3 L449.7,429.1 L452.5,426.8 L455.4,424.6 L458.2,422.4 L461.1,420.2 L463.9,418.0 L466.9,415.8 L469.8,413.7 L472.7,411.5 L475.7,409.4 L478.7,407.4 L481.7,405.3 L484.7,403.3 L487.8,401.2 L490.9,399.2 L493.9,397.2 L497.1,395.3 L500.2,393.3 L503.3,391.4 L506.5,389.5 L509.7,387.6 L512.9,385.7 L516.1,383.9 L519.4,382.1 L522.6,380.3 L525.9,378.5 L529.2,376.7 L532.5,375.0 L535.8,373.3 L539.2,371.6 L542.5,369.9 L545.9,368.3 L549.3,366.6 L552.7,365.0 L556.1,363.4 L559.6,361.9 L563.0,360.3 L566.5,358.8 L570.0,357.3 L573.5,355.8 L577.0,354.3 L580.5,352.9 L584.0,351.5 L587.6,350.1 L591.2,348.7 L594.7,347.4 L598.3,346.0 L603.7,425.0 L600.2,426.4 L596.7,427.7 L593.3,429.1 L589.8,430.5 L586.3,431.9 L582.9,433.3 L579.5,434.8 L576.1,436.2 L572.7,437.7 L569.3,439.3 L565.9,440.8 L562.6,442.4 L559.3,444.0 L555.9,445.6 L552.6,447.2 L549.3,448.8 L546.1,450.5 L542.8,452.2 L539.6,453.9 L536.3,455.7 L533.1,457.4 L529.9,459.2 L526.8,461.0 L523.6,462.8 L520.5,464.6 L517.4,466.5 L514.3,468.4 L511.2,470.3 L508.1,472.2 L505.1,474.1 L502.0,476.1 L499.0,478.1 L496.0,480.1 L493.1,482.1 L490.1,484.1 L487.2,486.2 L484.3,488.3 L481.4,490.4 L478.5,492.5 L475.7,494.6 L472.8,496.8 L470.0,498.9 L467.2,501.1 L464.5,503.3 L461.7,505.6 L459.0,507.8 L456.3,510.1 L453.6,512.4 L451.0,514.7 L448.4,517.0 L445.8,519.3 L443.2,521.7 L440.6,524.1 L438.1,526.5 L435.6,528.9 L433.1,531.3 L430.6,533.8 L428.2,536.2 L425.8,538.7 L423.4,541.2 L421.0,543.7 L418.7,546.2 L416.4,548.8 L414.1,551.3 L411.8,553.9 L409.6,556.5 L407.4,559.1 L405.2,561.8 L403.0,564.4 L400.9,567.1 L398.8,569.7 L396.8,572.4 Z"/></clipPath>
<clipPath id="ts9"><path d="M816.8,648.5 L598.3,346.0 L602.0,344.7 L605.7,343.4 L609.4,342.1 L613.1,340.9 L616.8,339.6 L620.5,338.4 L624.2,337.2 L628.0,336.1 L631.8,334.9 L635.5,333.8 L639.3,332.7 L643.1,331.6 L646.9,330.6 L650.7,329.5 L654.6,328.5 L658.4,327.6 L662.2,326.6 L666.1,325.7 L669.9,324.8 L673.8,323.9 L677.7,323.0 L681.6,322.2 L685.5,321.4 L689.4,320.6 L693.3,319.8 L697.2,319.1 L701.1,318.4 L705.0,317.7 L709.0,317.0 L712.9,316.4 L716.9,315.7 L720.8,315.2 L724.8,314.6 L728.7,314.0 L732.7,313.5 L736.7,313.0 L740.7,312.5 L744.7,312.1 L748.6,311.7 L752.6,311.3 L756.6,310.9 L760.6,310.5 L764.6,310.2 L768.6,309.9 L772.6,309.6 L776.7,309.4 L780.7,309.1 L784.7,308.9 L788.7,308.7 L792.7,308.6 L796.7,308.4 L800.8,308.3 L804.8,308.2 L808.8,308.2 L812.8,308.2 L816.8,308.1 Z"/></clipPath>
<clipPath id="ow9"><path d="M598.3,346.0 L602.0,344.7 L605.7,343.4 L609.4,342.1 L613.1,340.9 L616.8,339.6 L620.5,338.4 L624.2,337.2 L628.0,336.1 L631.8,334.9 L635.5,333.8 L639.3,332.7 L643.1,331.6 L646.9,330.6 L650.7,329.5 L654.6,328.5 L658.4,327.6 L662.2,326.6 L666.1,325.7 L669.9,324.8 L673.8,323.9 L677.7,323.0 L681.6,322.2 L685.5,321.4 L689.4,320.6 L693.3,319.8 L697.2,319.1 L701.1,318.4 L705.0,317.7 L709.0,317.0 L712.9,316.4 L716.9,315.7 L720.8,315.2 L724.8,314.6 L728.7,314.0 L732.7,313.5 L736.7,313.0 L740.7,312.5 L744.7,312.1 L748.6,311.7 L752.6,311.3 L756.6,310.9 L760.6,310.5 L764.6,310.2 L768.6,309.9 L772.6,309.6 L776.7,309.4 L780.7,309.1 L784.7,308.9 L788.7,308.7 L792.7,308.6 L796.7,308.4 L800.8,308.3 L804.8,308.2 L808.8,308.2 L812.8,308.2 L816.8,308.1 L816.8,387.2 L812.9,387.2 L809.0,387.3 L805.1,387.3 L801.1,387.4 L797.2,387.5 L793.3,387.6 L789.4,387.8 L785.5,388.0 L781.5,388.2 L777.6,388.4 L773.7,388.7 L769.8,389.0 L765.9,389.3 L762.0,389.6 L758.1,389.9 L754.2,390.3 L750.3,390.7 L746.4,391.2 L742.5,391.6 L738.6,392.1 L734.8,392.6 L730.9,393.1 L727.0,393.6 L723.2,394.2 L719.3,394.8 L715.5,395.4 L711.6,396.1 L707.8,396.7 L703.9,397.4 L700.1,398.1 L696.3,398.9 L692.5,399.6 L688.7,400.4 L684.9,401.2 L681.1,402.1 L677.3,402.9 L673.5,403.8 L669.8,404.7 L666.0,405.6 L662.3,406.6 L658.5,407.6 L654.8,408.6 L651.1,409.6 L647.4,410.6 L643.7,411.7 L640.0,412.8 L636.3,413.9 L632.6,415.1 L629.0,416.2 L625.3,417.4 L621.7,418.6 L618.1,419.9 L614.5,421.1 L610.9,422.4 L607.3,423.7 L603.7,425.0 Z"/></clipPath>
<linearGradient id="w2g" gradientUnits="userSpaceOnUse" x1="0" y1="775" x2="0" y2="845"><stop offset="0" stop-color="#0b2a3a"/><stop offset="0.6" stop-color="#12405a"/><stop offset="1" stop-color="#1f5c7a"/></linearGradient>
<linearGradient id="g3" gradientUnits="userSpaceOnUse" x1="1130" y1="0" x2="1310" y2="0"><stop offset="0" stop-color="#2392c2"/><stop offset="1" stop-color="#1e5e7e"/></linearGradient>
<linearGradient id="g6" gradientUnits="userSpaceOnUse" x1="330" y1="0" x2="460" y2="0"><stop offset="0" stop-color="#1a2c38"/><stop offset="1" stop-color="#203a4a"/></linearGradient></defs>
<path d="M816.8,308.1 L820.8,308.1 L824.8,308.2 L828.8,308.2 L832.8,308.3 L836.8,308.4 L840.8,308.6 L844.8,308.7 L848.8,308.9 L852.8,309.1 L856.8,309.3 L860.7,309.6 L864.7,309.9 L868.7,310.2 L872.7,310.5 L876.7,310.8 L880.6,311.2 L884.6,311.6 L888.6,312.0 L892.5,312.5 L896.5,312.9 L900.4,313.4 L904.4,314.0 L908.3,314.5 L912.2,315.1 L916.2,315.6 L920.1,316.3 L924.0,316.9 L927.9,317.6 L931.8,318.2 L935.7,318.9 L939.6,319.7 L943.5,320.4 L947.4,321.2 L951.2,322.0 L955.1,322.8 L958.9,323.7 L962.8,324.6 L966.6,325.4 L970.5,326.4 L974.3,327.3 L978.1,328.3 L981.9,329.3 L985.7,330.3 L989.5,331.3 L993.2,332.4 L997.0,333.5 L1000.7,334.6 L1004.5,335.7 L1008.2,336.8 L1011.9,338.0 L1015.6,339.2 L1019.3,340.4 L1023.0,341.7 L1026.7,342.9 L1030.3,344.2 L1034.0,345.5 L1037.6,346.9 L1041.2,348.2 L1044.9,349.6 L1048.4,351.0 L1052.0,352.4 L1055.6,353.9 L1059.1,355.3 L1062.7,356.8 L1066.2,358.4 L1069.7,359.9 L1073.2,361.4 L1076.7,363.0 L1080.2,364.6 L1083.6,366.3 L1087.0,367.9 L1090.4,369.6 L1093.8,371.3 L1097.2,373.0 L1100.6,374.7 L1103.9,376.4 L1107.3,378.2 L1110.6,380.0 L1103.3,458.9 L1100.0,457.1 L1096.8,455.4 L1093.5,453.6 L1090.3,451.9 L1087.0,450.2 L1083.7,448.5 L1080.3,446.8 L1077.0,445.2 L1073.6,443.6 L1070.2,442.0 L1066.9,440.4 L1063.5,438.8 L1060.0,437.3 L1056.6,435.8 L1053.2,434.3 L1049.7,432.9 L1046.2,431.4 L1042.7,430.0 L1039.2,428.6 L1035.7,427.2 L1032.2,425.9 L1028.6,424.5 L1025.1,423.2 L1021.5,421.9 L1017.9,420.7 L1014.3,419.4 L1010.7,418.2 L1007.1,417.0 L1003.5,415.8 L999.9,414.7 L996.2,413.6 L992.6,412.5 L988.9,411.4 L985.2,410.3 L981.5,409.3 L977.8,408.3 L974.1,407.3 L970.4,406.3 L966.7,405.4 L962.9,404.5 L959.2,403.6 L955.5,402.7 L951.7,401.9 L947.9,401.1 L944.2,400.3 L940.4,399.5 L936.6,398.7 L932.8,398.0 L929.0,397.3 L925.2,396.6 L921.4,395.9 L917.6,395.3 L913.7,394.7 L909.9,394.1 L906.1,393.6 L902.2,393.0 L898.4,392.5 L894.5,392.0 L890.7,391.5 L886.8,391.1 L882.9,390.7 L879.1,390.3 L875.2,389.9 L871.3,389.6 L867.4,389.2 L863.6,388.9 L859.7,388.7 L855.8,388.4 L851.9,388.2 L848.0,388.0 L844.1,387.8 L840.2,387.6 L836.3,387.5 L832.4,387.4 L828.5,387.3 L824.6,387.3 L820.7,387.2 L816.8,387.2 Z" fill="#2a6a86"/>
<path d="M1110.6,380.0 L1113.9,381.8 L1117.2,383.7 L1120.5,385.6 L1123.7,387.4 L1126.9,389.4 L1130.2,391.3 L1133.4,393.2 L1136.5,395.2 L1139.7,397.2 L1142.8,399.2 L1145.9,401.3 L1149.0,403.3 L1152.1,405.4 L1155.2,407.5 L1158.2,409.6 L1161.2,411.7 L1164.2,413.9 L1167.2,416.1 L1170.1,418.3 L1173.0,420.5 L1175.9,422.7 L1178.8,425.0 L1181.7,427.2 L1184.5,429.5 L1187.3,431.9 L1190.1,434.2 L1192.9,436.5 L1195.6,438.9 L1198.3,441.3 L1201.0,443.7 L1203.7,446.1 L1206.3,448.6 L1208.9,451.0 L1211.5,453.5 L1214.1,456.0 L1216.6,458.5 L1219.1,461.1 L1221.6,463.6 L1224.0,466.2 L1226.5,468.8 L1228.9,471.4 L1231.3,474.0 L1233.6,476.6 L1235.9,479.3 L1238.2,481.9 L1240.5,484.6 L1242.7,487.3 L1244.9,490.1 L1247.1,492.8 L1249.2,495.5 L1251.4,498.3 L1253.5,501.1 L1255.5,503.9 L1257.6,506.7 L1259.6,509.5 L1261.5,512.4 L1263.5,515.2 L1265.4,518.1 L1267.2,521.0 L1269.1,523.9 L1257.4,602.2 L1255.6,599.4 L1253.8,596.5 L1251.9,593.6 L1250.0,590.8 L1248.1,587.9 L1246.2,585.1 L1244.2,582.3 L1242.2,579.5 L1240.2,576.8 L1238.1,574.0 L1236.0,571.3 L1233.9,568.6 L1231.8,565.8 L1229.6,563.2 L1227.4,560.5 L1225.2,557.8 L1222.9,555.2 L1220.7,552.6 L1218.4,549.9 L1216.0,547.4 L1213.7,544.8 L1211.3,542.2 L1208.9,539.7 L1206.4,537.2 L1204.0,534.7 L1201.5,532.2 L1199.0,529.7 L1196.4,527.2 L1193.9,524.8 L1191.3,522.4 L1188.6,520.0 L1186.0,517.6 L1183.3,515.3 L1180.7,512.9 L1178.0,510.6 L1175.2,508.3 L1172.5,506.0 L1169.7,503.7 L1166.9,501.5 L1164.1,499.3 L1161.2,497.0 L1158.4,494.9 L1155.5,492.7 L1152.6,490.5 L1149.6,488.4 L1146.7,486.3 L1143.7,484.2 L1140.7,482.1 L1137.7,480.1 L1134.7,478.1 L1131.6,476.1 L1128.5,474.1 L1125.4,472.1 L1122.3,470.2 L1119.2,468.2 L1116.0,466.3 L1112.9,464.4 L1109.7,462.6 L1106.5,460.7 L1103.3,458.9 Z" fill="#d8703c"/>
<path d="M1269.1,523.9 L1270.9,526.8 L1272.7,529.7 L1274.4,532.7 L1276.2,535.6 L1277.8,538.6 L1279.5,541.6 L1281.1,544.5 L1282.7,547.5 L1284.3,550.6 L1285.8,553.6 L1287.3,556.6 L1288.7,559.7 L1290.1,562.7 L1291.5,565.8 L1292.9,568.9 L1294.2,572.0 L1295.5,575.1 L1296.7,578.2 L1298.0,581.4 L1299.1,584.5 L1300.3,587.7 L1301.4,590.8 L1302.5,594.0 L1303.5,597.2 L1304.5,600.4 L1305.5,603.6 L1306.4,606.8 L1307.3,610.0 L1308.2,613.2 L1309.0,616.5 L1309.8,619.7 L1310.5,623.0 L1311.3,626.2 L1311.9,629.5 L1312.6,632.8 L1313.2,636.0 L1313.7,639.3 L1314.3,642.6 L1314.7,645.9 L1315.2,649.2 L1315.6,652.5 L1316.0,655.8 L1316.3,659.2 L1316.6,662.5 L1316.9,665.8 L1317.1,669.2 L1317.3,672.5 L1317.4,675.9 L1317.5,679.2 L1317.6,682.6 L1317.6,685.9 L1317.6,689.3 L1317.5,692.6 L1317.4,696.0 L1317.3,699.4 L1317.1,702.7 L1316.9,706.1 L1316.7,709.5 L1316.4,712.8 L1316.0,716.2 L1315.6,719.6 L1315.2,723.0 L1314.8,726.3 L1314.3,729.7 L1313.7,733.1 L1313.2,736.5 L1312.5,739.8 L1311.9,743.2 L1311.2,746.6 L1310.4,749.9 L1309.7,753.3 L1308.8,756.7 L1308.0,760.0 L1307.1,763.4 L1293.5,840.1 L1294.4,836.8 L1295.3,833.5 L1296.1,830.1 L1296.9,826.8 L1297.6,823.5 L1298.3,820.1 L1299.0,816.8 L1299.6,813.4 L1300.1,810.1 L1300.7,806.7 L1301.2,803.4 L1301.6,800.1 L1302.0,796.7 L1302.4,793.4 L1302.8,790.0 L1303.1,786.7 L1303.3,783.3 L1303.5,780.0 L1303.7,776.6 L1303.9,773.3 L1304.0,769.9 L1304.0,766.6 L1304.1,763.3 L1304.0,759.9 L1304.0,756.6 L1303.9,753.3 L1303.8,750.0 L1303.6,746.7 L1303.4,743.3 L1303.2,740.0 L1302.9,736.7 L1302.6,733.4 L1302.2,730.1 L1301.8,726.8 L1301.4,723.6 L1301.0,720.3 L1300.5,717.0 L1299.9,713.7 L1299.3,710.5 L1298.7,707.2 L1298.1,704.0 L1297.4,700.7 L1296.7,697.5 L1295.9,694.3 L1295.1,691.1 L1294.3,687.9 L1293.5,684.7 L1292.6,681.5 L1291.6,678.3 L1290.7,675.1 L1289.7,672.0 L1288.6,668.8 L1287.5,665.7 L1286.4,662.5 L1285.3,659.4 L1284.1,656.3 L1282.9,653.2 L1281.7,650.1 L1280.4,647.0 L1279.1,644.0 L1277.8,640.9 L1276.4,637.8 L1275.0,634.8 L1273.5,631.8 L1272.1,628.8 L1270.6,625.8 L1269.0,622.8 L1267.4,619.8 L1265.8,616.8 L1264.2,613.9 L1262.6,611.0 L1260.9,608.0 L1259.1,605.1 L1257.4,602.2 Z" fill="#2b7234"/>
<path d="M1307.1,763.4 L1306.1,766.7 L1305.1,770.1 L1304.1,773.4 L1303.0,776.7 L1301.9,780.1 L1300.8,783.4 L1299.6,786.7 L1298.4,790.0 L1297.1,793.3 L1295.8,796.6 L1294.4,799.9 L1293.0,803.2 L1291.6,806.5 L1290.1,809.8 L1288.6,813.0 L1287.0,816.3 L1285.4,819.5 L1283.8,822.8 L1282.1,826.0 L1280.4,829.2 L1278.6,832.5 L1276.8,835.7 L1275.0,838.9 L1273.1,842.0 L1271.2,845.2 L1269.2,848.4 L1267.2,851.5 L1265.1,854.7 L1263.1,857.8 L1260.9,860.9 L1258.8,864.0 L1256.6,867.1 L1254.3,870.2 L1252.0,873.3 L1249.7,876.3 L1247.3,879.3 L1244.9,882.4 L1242.5,885.4 L1240.0,888.4 L1237.5,891.3 L1234.9,894.3 L1232.3,897.2 L1229.7,900.2 L1227.0,903.1 L1224.3,906.0 L1221.6,908.8 L1218.8,911.7 L1216.0,914.5 L1213.1,917.4 L1210.2,920.2 L1207.3,923.0 L1204.3,925.7 L1201.3,928.5 L1198.3,931.2 L1195.2,933.9 L1192.1,936.6 L1188.9,939.3 L1185.7,941.9 L1182.5,944.5 L1179.2,947.1 L1175.9,949.7 L1172.6,952.3 L1169.3,954.8 L1165.9,957.3 L1162.4,959.8 L1159.0,962.3 L1155.5,964.7 L1152.0,967.2 L1148.4,969.6 L1144.8,971.9 L1141.2,974.3 L1137.5,976.6 L1128.2,1051.3 L1131.8,1049.0 L1135.3,1046.7 L1138.8,1044.3 L1142.2,1041.9 L1145.7,1039.6 L1149.1,1037.1 L1152.4,1034.7 L1155.8,1032.2 L1159.1,1029.7 L1162.3,1027.2 L1165.6,1024.7 L1168.8,1022.1 L1172.0,1019.6 L1175.1,1017.0 L1178.2,1014.4 L1181.3,1011.7 L1184.3,1009.1 L1187.3,1006.4 L1190.3,1003.7 L1193.2,1001.0 L1196.1,998.2 L1198.9,995.5 L1201.8,992.7 L1204.5,989.9 L1207.3,987.1 L1210.0,984.3 L1212.7,981.4 L1215.3,978.5 L1217.9,975.7 L1220.5,972.8 L1223.0,969.9 L1225.5,966.9 L1228.0,964.0 L1230.4,961.0 L1232.8,958.0 L1235.1,955.0 L1237.4,952.0 L1239.7,949.0 L1241.9,946.0 L1244.1,942.9 L1246.3,939.9 L1248.4,936.8 L1250.5,933.7 L1252.5,930.6 L1254.5,927.5 L1256.5,924.4 L1258.4,921.3 L1260.3,918.1 L1262.1,915.0 L1263.9,911.8 L1265.7,908.6 L1267.4,905.4 L1269.1,902.2 L1270.7,899.0 L1272.3,895.8 L1273.9,892.6 L1275.4,889.4 L1276.9,886.1 L1278.4,882.9 L1279.8,879.6 L1281.1,876.4 L1282.5,873.1 L1283.7,869.8 L1285.0,866.6 L1286.2,863.3 L1287.4,860.0 L1288.5,856.7 L1289.6,853.4 L1290.6,850.1 L1291.6,846.8 L1292.6,843.5 L1293.5,840.1 Z" fill="url(#g3)"/>
<path d="M1137.5,976.6 L1133.9,978.9 L1130.2,981.2 L1126.4,983.4 L1122.7,985.6 L1118.9,987.8 L1115.1,989.9 L1111.2,992.1 L1107.3,994.2 L1103.4,996.3 L1099.5,998.3 L1095.5,1000.3 L1091.5,1002.3 L1087.5,1004.3 L1083.5,1006.3 L1079.4,1008.2 L1075.3,1010.0 L1071.2,1011.9 L1067.0,1013.7 L1062.9,1015.5 L1058.7,1017.3 L1054.5,1019.0 L1050.2,1020.7 L1045.9,1022.4 L1041.6,1024.1 L1037.3,1025.7 L1033.0,1027.3 L1028.6,1028.8 L1024.3,1030.3 L1019.9,1031.8 L1015.5,1033.3 L1011.0,1034.7 L1006.6,1036.1 L1002.1,1037.5 L997.6,1038.8 L993.1,1040.1 L988.5,1041.4 L984.0,1042.6 L979.4,1043.8 L974.8,1045.0 L970.2,1046.1 L965.6,1047.2 L961.0,1048.3 L956.4,1049.3 L951.7,1050.3 L947.0,1051.3 L942.3,1052.2 L937.6,1053.1 L932.9,1054.0 L928.2,1054.8 L923.5,1055.6 L918.7,1056.4 L914.0,1057.1 L909.2,1057.8 L904.4,1058.5 L899.6,1059.1 L894.9,1059.7 L890.1,1060.2 L885.3,1060.8 L880.4,1061.2 L875.6,1061.7 L870.8,1062.1 L866.0,1062.5 L861.1,1062.8 L856.3,1063.1 L851.4,1063.4 L846.6,1063.6 L841.7,1063.8 L836.9,1064.0 L832.0,1064.1 L827.2,1064.2 L822.3,1064.3 L817.4,1064.3 L812.6,1064.3 L807.7,1064.2 L802.9,1064.2 L798.0,1064.0 L798.6,1137.7 L803.3,1137.8 L808.0,1137.9 L812.7,1137.9 L817.4,1137.9 L822.1,1137.9 L826.9,1137.9 L831.6,1137.8 L836.3,1137.6 L841.0,1137.5 L845.7,1137.3 L850.4,1137.0 L855.1,1136.8 L859.8,1136.5 L864.5,1136.1 L869.2,1135.8 L873.9,1135.4 L878.6,1134.9 L883.2,1134.4 L887.9,1133.9 L892.5,1133.4 L897.2,1132.8 L901.8,1132.2 L906.5,1131.5 L911.1,1130.8 L915.7,1130.1 L920.3,1129.4 L924.9,1128.6 L929.5,1127.8 L934.1,1126.9 L938.6,1126.0 L943.2,1125.1 L947.7,1124.1 L952.2,1123.2 L956.7,1122.1 L961.2,1121.1 L965.7,1120.0 L970.2,1118.9 L974.6,1117.7 L979.1,1116.5 L983.5,1115.3 L987.9,1114.1 L992.3,1112.8 L996.6,1111.5 L1001.0,1110.1 L1005.3,1108.7 L1009.6,1107.3 L1013.9,1105.9 L1018.2,1104.4 L1022.4,1102.9 L1026.6,1101.4 L1030.9,1099.8 L1035.0,1098.2 L1039.2,1096.6 L1043.4,1094.9 L1047.5,1093.2 L1051.6,1091.5 L1055.7,1089.8 L1059.7,1088.0 L1063.7,1086.2 L1067.7,1084.3 L1071.7,1082.5 L1075.7,1080.6 L1079.6,1078.7 L1083.5,1076.7 L1087.4,1074.8 L1091.2,1072.8 L1095.1,1070.7 L1098.9,1068.7 L1102.6,1066.6 L1106.4,1064.5 L1110.1,1062.3 L1113.8,1060.2 L1117.4,1058.0 L1121.0,1055.8 L1124.6,1053.5 L1128.2,1051.3 Z" fill="#9f3c97"/>
<path d="M798.0,1064.0 L793.2,1063.9 L788.3,1063.7 L783.5,1063.5 L778.7,1063.2 L773.8,1062.9 L769.0,1062.6 L764.2,1062.2 L759.4,1061.8 L754.6,1061.4 L749.8,1060.9 L745.0,1060.4 L740.2,1059.9 L735.5,1059.3 L730.7,1058.7 L725.9,1058.0 L721.2,1057.3 L716.4,1056.6 L711.7,1055.9 L707.0,1055.1 L702.3,1054.3 L697.6,1053.4 L692.9,1052.5 L688.2,1051.6 L683.6,1050.7 L678.9,1049.7 L674.3,1048.7 L669.7,1047.6 L665.1,1046.5 L660.5,1045.4 L655.9,1044.3 L651.4,1043.1 L646.8,1041.8 L642.3,1040.6 L637.8,1039.3 L633.3,1038.0 L628.9,1036.7 L624.4,1035.3 L620.0,1033.9 L615.6,1032.4 L611.2,1030.9 L606.8,1029.4 L602.5,1027.9 L598.1,1026.3 L593.8,1024.7 L589.6,1023.1 L585.3,1021.5 L581.1,1019.8 L576.8,1018.1 L572.7,1016.3 L568.5,1014.5 L564.3,1012.7 L560.2,1010.9 L556.1,1009.0 L552.1,1007.1 L548.0,1005.2 L544.0,1003.3 L540.0,1001.3 L536.1,999.3 L532.1,997.3 L528.2,995.2 L524.4,993.1 L520.5,991.0 L516.7,988.9 L512.9,986.7 L509.1,984.5 L505.4,982.3 L501.7,980.0 L498.0,977.8 L494.4,975.5 L490.8,973.2 L487.2,970.8 L483.7,968.5 L480.1,966.1 L476.7,963.7 L473.2,961.2 L469.8,958.8 L466.4,956.3 L463.1,953.8 L459.7,951.3 L456.5,948.7 L466.9,1023.7 L470.0,1026.2 L473.3,1028.7 L476.5,1031.2 L479.8,1033.7 L483.2,1036.1 L486.5,1038.5 L489.9,1040.9 L493.3,1043.2 L496.8,1045.6 L500.2,1047.9 L503.8,1050.2 L507.3,1052.4 L510.9,1054.7 L514.5,1056.9 L518.1,1059.1 L521.8,1061.3 L525.4,1063.4 L529.1,1065.5 L532.9,1067.6 L536.7,1069.7 L540.5,1071.7 L544.3,1073.7 L548.1,1075.7 L552.0,1077.6 L555.9,1079.6 L559.8,1081.5 L563.8,1083.3 L567.7,1085.2 L571.7,1087.0 L575.8,1088.8 L579.8,1090.5 L583.9,1092.3 L588.0,1093.9 L592.1,1095.6 L596.2,1097.3 L600.4,1098.9 L604.6,1100.4 L608.8,1102.0 L613.0,1103.5 L617.2,1105.0 L621.5,1106.4 L625.8,1107.9 L630.1,1109.3 L634.4,1110.6 L638.7,1112.0 L643.1,1113.3 L647.5,1114.5 L651.9,1115.8 L656.3,1117.0 L660.7,1118.1 L665.1,1119.3 L669.6,1120.4 L674.0,1121.5 L678.5,1122.5 L683.0,1123.5 L687.5,1124.5 L692.0,1125.4 L696.6,1126.3 L701.1,1127.2 L705.7,1128.0 L710.2,1128.8 L714.8,1129.6 L719.4,1130.4 L724.0,1131.1 L728.6,1131.7 L733.2,1132.4 L737.9,1133.0 L742.5,1133.5 L747.1,1134.1 L751.8,1134.6 L756.4,1135.0 L761.1,1135.5 L765.8,1135.9 L770.4,1136.2 L775.1,1136.6 L779.8,1136.9 L784.5,1137.1 L789.2,1137.3 L793.9,1137.5 L798.6,1137.7 Z" fill="#59a53e"/>
<path d="M456.5,948.7 L453.2,946.1 L450.0,943.6 L446.8,940.9 L443.6,938.3 L440.5,935.6 L437.4,933.0 L434.4,930.3 L431.4,927.5 L428.4,924.8 L425.4,922.0 L422.5,919.3 L419.7,916.5 L416.8,913.7 L414.0,910.8 L411.3,908.0 L408.5,905.1 L405.9,902.2 L403.2,899.3 L400.6,896.4 L398.0,893.5 L395.5,890.5 L393.0,887.6 L390.6,884.6 L388.1,881.6 L385.8,878.6 L383.4,875.6 L381.1,872.5 L378.9,869.5 L376.6,866.4 L374.4,863.4 L372.3,860.3 L370.2,857.2 L368.1,854.1 L366.1,850.9 L364.1,847.8 L362.2,844.6 L360.3,841.5 L358.4,838.3 L356.6,835.1 L354.8,832.0 L353.0,828.8 L351.3,825.6 L349.7,822.3 L348.0,819.1 L346.5,815.9 L344.9,812.6 L343.4,809.4 L341.9,806.1 L340.5,802.9 L339.1,799.6 L337.8,796.3 L336.5,793.0 L335.2,789.7 L334.0,786.4 L332.8,783.1 L331.7,779.8 L330.6,776.5 L329.5,773.2 L328.5,769.9 L327.5,766.6 L326.6,763.2 L325.7,759.9 L324.8,756.6 L324.0,753.2 L323.2,749.9 L322.5,746.6 L321.8,743.2 L321.2,739.9 L320.5,736.5 L320.0,733.2 L319.4,729.8 L318.9,726.5 L318.5,723.1 L332.1,800.2 L332.5,803.5 L333.0,806.9 L333.6,810.2 L334.1,813.5 L334.7,816.8 L335.4,820.2 L336.1,823.5 L336.8,826.8 L337.6,830.1 L338.4,833.4 L339.2,836.7 L340.1,840.0 L341.0,843.3 L342.0,846.6 L343.0,849.9 L344.0,853.2 L345.1,856.5 L346.2,859.7 L347.4,863.0 L348.6,866.3 L349.8,869.5 L351.1,872.8 L352.4,876.1 L353.8,879.3 L355.2,882.5 L356.6,885.8 L358.1,889.0 L359.6,892.2 L361.1,895.4 L362.7,898.6 L364.4,901.8 L366.0,905.0 L367.7,908.1 L369.5,911.3 L371.3,914.4 L373.1,917.6 L375.0,920.7 L376.9,923.8 L378.8,926.9 L380.8,930.0 L382.8,933.1 L384.9,936.2 L386.9,939.2 L389.1,942.3 L391.2,945.3 L393.5,948.3 L395.7,951.3 L398.0,954.3 L400.3,957.3 L402.7,960.3 L405.1,963.2 L407.5,966.1 L410.0,969.1 L412.5,972.0 L415.0,974.8 L417.6,977.7 L420.2,980.6 L422.9,983.4 L425.5,986.2 L428.3,989.0 L431.0,991.8 L433.8,994.6 L436.7,997.3 L439.5,1000.0 L442.4,1002.8 L445.4,1005.4 L448.3,1008.1 L451.3,1010.8 L454.4,1013.4 L457.4,1016.0 L460.5,1018.6 L463.7,1021.2 L466.9,1023.7 Z" fill="url(#g6)"/>
<path d="M318.5,723.1 L318.1,719.8 L317.7,716.4 L317.3,713.1 L317.1,709.7 L316.8,706.4 L316.6,703.0 L316.4,699.6 L316.3,696.3 L316.2,693.0 L316.1,689.6 L316.1,686.3 L316.1,682.9 L316.2,679.6 L316.3,676.3 L316.4,672.9 L316.6,669.6 L316.8,666.3 L317.0,663.0 L317.3,659.6 L317.7,656.3 L318.0,653.0 L318.4,649.7 L318.9,646.4 L319.3,643.2 L319.9,639.9 L320.4,636.6 L321.0,633.3 L321.6,630.1 L322.3,626.8 L323.0,623.6 L323.7,620.4 L324.5,617.1 L325.3,613.9 L326.2,610.7 L327.1,607.5 L328.0,604.3 L328.9,601.1 L329.9,597.9 L331.0,594.8 L332.0,591.6 L333.1,588.4 L334.3,585.3 L335.4,582.2 L336.6,579.1 L337.9,576.0 L339.1,572.9 L340.4,569.8 L341.8,566.7 L343.1,563.6 L344.5,560.6 L346.0,557.5 L347.5,554.5 L349.0,551.5 L350.5,548.5 L352.1,545.5 L353.7,542.5 L355.3,539.5 L357.0,536.6 L358.7,533.6 L360.4,530.7 L362.2,527.8 L364.0,524.9 L365.8,522.0 L367.6,519.1 L369.5,516.3 L371.4,513.4 L373.4,510.6 L375.4,507.8 L377.4,505.0 L379.4,502.2 L381.5,499.4 L383.5,496.7 L385.7,494.0 L396.8,572.4 L394.7,575.2 L392.7,577.9 L390.7,580.7 L388.7,583.4 L386.7,586.2 L384.8,589.0 L382.9,591.8 L381.1,594.7 L379.3,597.5 L377.5,600.4 L375.7,603.2 L374.0,606.1 L372.2,609.0 L370.6,611.9 L368.9,614.9 L367.3,617.8 L365.7,620.8 L364.2,623.7 L362.7,626.7 L361.2,629.7 L359.7,632.7 L358.3,635.7 L356.9,638.7 L355.5,641.8 L354.2,644.8 L352.9,647.9 L351.7,650.9 L350.4,654.0 L349.2,657.1 L348.1,660.2 L347.0,663.3 L345.9,666.4 L344.8,669.6 L343.8,672.7 L342.8,675.9 L341.8,679.0 L340.9,682.2 L340.0,685.4 L339.2,688.6 L338.4,691.8 L337.6,695.0 L336.9,698.2 L336.1,701.4 L335.5,704.6 L334.8,707.8 L334.2,711.1 L333.7,714.3 L333.1,717.6 L332.6,720.8 L332.2,724.1 L331.8,727.4 L331.4,730.6 L331.0,733.9 L330.7,737.2 L330.5,740.5 L330.2,743.8 L330.0,747.1 L329.9,750.4 L329.8,753.7 L329.7,757.0 L329.6,760.3 L329.6,763.6 L329.7,766.9 L329.7,770.3 L329.8,773.6 L330.0,776.9 L330.2,780.2 L330.4,783.6 L330.6,786.9 L330.9,790.2 L331.3,793.6 L331.7,796.9 L332.1,800.2 Z" fill="#94492a"/>
<path d="M385.7,494.0 L387.8,491.2 L390.0,488.6 L392.2,485.9 L394.4,483.2 L396.6,480.6 L398.9,478.0 L401.2,475.4 L403.5,472.8 L405.9,470.2 L408.3,467.6 L410.7,465.1 L413.1,462.6 L415.5,460.1 L418.0,457.6 L420.5,455.1 L423.1,452.6 L425.6,450.2 L428.2,447.8 L430.8,445.4 L433.5,443.0 L436.1,440.6 L438.8,438.3 L441.5,436.0 L444.2,433.6 L447.0,431.3 L449.7,429.1 L452.5,426.8 L455.4,424.6 L458.2,422.4 L461.1,420.2 L463.9,418.0 L466.9,415.8 L469.8,413.7 L472.7,411.5 L475.7,409.4 L478.7,407.4 L481.7,405.3 L484.7,403.3 L487.8,401.2 L490.9,399.2 L493.9,397.2 L497.1,395.3 L500.2,393.3 L503.3,391.4 L506.5,389.5 L509.7,387.6 L512.9,385.7 L516.1,383.9 L519.4,382.1 L522.6,380.3 L525.9,378.5 L529.2,376.7 L532.5,375.0 L535.8,373.3 L539.2,371.6 L542.5,369.9 L545.9,368.3 L549.3,366.6 L552.7,365.0 L556.1,363.4 L559.6,361.9 L563.0,360.3 L566.5,358.8 L570.0,357.3 L573.5,355.8 L577.0,354.3 L580.5,352.9 L584.0,351.5 L587.6,350.1 L591.2,348.7 L594.7,347.4 L598.3,346.0 L603.7,425.0 L600.2,426.4 L596.7,427.7 L593.3,429.1 L589.8,430.5 L586.3,431.9 L582.9,433.3 L579.5,434.8 L576.1,436.2 L572.7,437.7 L569.3,439.3 L565.9,440.8 L562.6,442.4 L559.3,444.0 L555.9,445.6 L552.6,447.2 L549.3,448.8 L546.1,450.5 L542.8,452.2 L539.6,453.9 L536.3,455.7 L533.1,457.4 L529.9,459.2 L526.8,461.0 L523.6,462.8 L520.5,464.6 L517.4,466.5 L514.3,468.4 L511.2,470.3 L508.1,472.2 L505.1,474.1 L502.0,476.1 L499.0,478.1 L496.0,480.1 L493.1,482.1 L490.1,484.1 L487.2,486.2 L484.3,488.3 L481.4,490.4 L478.5,492.5 L475.7,494.6 L472.8,496.8 L470.0,498.9 L467.2,501.1 L464.5,503.3 L461.7,505.6 L459.0,507.8 L456.3,510.1 L453.6,512.4 L451.0,514.7 L448.4,517.0 L445.8,519.3 L443.2,521.7 L440.6,524.1 L438.1,526.5 L435.6,528.9 L433.1,531.3 L430.6,533.8 L428.2,536.2 L425.8,538.7 L423.4,541.2 L421.0,543.7 L418.7,546.2 L416.4,548.8 L414.1,551.3 L411.8,553.9 L409.6,556.5 L407.4,559.1 L405.2,561.8 L403.0,564.4 L400.9,567.1 L398.8,569.7 L396.8,572.4 Z" fill="#214a28"/>
<path d="M598.3,346.0 L602.0,344.7 L605.7,343.4 L609.4,342.1 L613.1,340.9 L616.8,339.6 L620.5,338.4 L624.2,337.2 L628.0,336.1 L631.8,334.9 L635.5,333.8 L639.3,332.7 L643.1,331.6 L646.9,330.6 L650.7,329.5 L654.6,328.5 L658.4,327.6 L662.2,326.6 L666.1,325.7 L669.9,324.8 L673.8,323.9 L677.7,323.0 L681.6,322.2 L685.5,321.4 L689.4,320.6 L693.3,319.8 L697.2,319.1 L701.1,318.4 L705.0,317.7 L709.0,317.0 L712.9,316.4 L716.9,315.7 L720.8,315.2 L724.8,314.6 L728.7,314.0 L732.7,313.5 L736.7,313.0 L740.7,312.5 L744.7,312.1 L748.6,311.7 L752.6,311.3 L756.6,310.9 L760.6,310.5 L764.6,310.2 L768.6,309.9 L772.6,309.6 L776.7,309.4 L780.7,309.1 L784.7,308.9 L788.7,308.7 L792.7,308.6 L796.7,308.4 L800.8,308.3 L804.8,308.2 L808.8,308.2 L812.8,308.2 L816.8,308.1 L816.8,387.2 L812.9,387.2 L809.0,387.3 L805.1,387.3 L801.1,387.4 L797.2,387.5 L793.3,387.6 L789.4,387.8 L785.5,388.0 L781.5,388.2 L777.6,388.4 L773.7,388.7 L769.8,389.0 L765.9,389.3 L762.0,389.6 L758.1,389.9 L754.2,390.3 L750.3,390.7 L746.4,391.2 L742.5,391.6 L738.6,392.1 L734.8,392.6 L730.9,393.1 L727.0,393.6 L723.2,394.2 L719.3,394.8 L715.5,395.4 L711.6,396.1 L707.8,396.7 L703.9,397.4 L700.1,398.1 L696.3,398.9 L692.5,399.6 L688.7,400.4 L684.9,401.2 L681.1,402.1 L677.3,402.9 L673.5,403.8 L669.8,404.7 L666.0,405.6 L662.3,406.6 L658.5,407.6 L654.8,408.6 L651.1,409.6 L647.4,410.6 L643.7,411.7 L640.0,412.8 L636.3,413.9 L632.6,415.1 L629.0,416.2 L625.3,417.4 L621.7,418.6 L618.1,419.9 L614.5,421.1 L610.9,422.4 L607.3,423.7 L603.7,425.0 Z" fill="#216585"/>
<path d="M318.5,723.1 L318.1,719.7 L317.7,716.3 L317.3,712.8 L317.0,709.4 L316.8,706.0 L316.6,702.6 L316.4,699.1 L316.2,695.7 L316.1,692.3 L316.1,688.9 L316.1,685.5 L316.1,682.0 L316.2,678.6 L316.3,675.2 L316.4,671.8 L316.6,668.4 L316.9,665.0 L317.1,661.6 L330.6,739.2 L330.3,742.6 L330.1,745.9 L329.9,749.3 L329.8,752.7 L329.7,756.1 L329.6,759.4 L329.6,762.8 L329.6,766.2 L329.7,769.6 L329.8,773.0 L330.0,776.4 L330.1,779.8 L330.4,783.2 L330.6,786.6 L330.9,790.0 L331.3,793.4 L331.7,796.8 L332.1,800.2 Z" fill="#121e25"/>
<path clip-path="url(#ow1)" d="M816.8,648.5 L1110.6,380.0 L1103.3,458.9 L816.8,726.2 Z" fill="#b85a2c"/>
<path clip-path="url(#ow2)" d="M816.8,648.5 L1269.1,523.9 L1257.4,602.2 L816.8,726.2 Z" fill="#1f5523"/>
<path clip-path="url(#ow3)" d="M816.8,648.5 L1307.1,763.4 L1293.5,840.1 L816.8,726.2 Z" fill="url(#w2g)"/>
<path clip-path="url(#ow4)" d="M816.8,648.5 L1137.5,976.6 L1128.2,1051.3 L816.8,726.2 Z" fill="#0c3348"/>
<path clip-path="url(#ow4)" d="M816.8,648.5 L798.0,1064.0 L798.6,1137.7 L816.8,726.2 Z" fill="#7e2e77"/>
<path clip-path="url(#ow5)" d="M816.8,648.5 L456.5,948.7 L466.9,1023.7 L816.8,726.2 Z" fill="#3a882a"/>
<path clip-path="url(#ow6)" d="M816.8,648.5 L318.5,723.1 L332.1,800.2 L816.8,726.2 Z" fill="#10222e"/>
<path clip-path="url(#ow7)" d="M816.8,648.5 L385.7,494.0 L396.8,572.4 L816.8,726.2 Z" fill="#7a3412"/>
<path clip-path="url(#ow8)" d="M816.8,648.5 L598.3,346.0 L603.7,425.0 L816.8,726.2 Z" fill="#0b2e14"/>
<path d="M1293.5,840.1 L1292.6,843.5 L1291.6,846.8 L1290.6,850.1 L1289.6,853.4 L1288.5,856.7 L1287.4,860.0 L1286.2,863.3 L1285.0,866.6 L1283.7,869.8 L1282.5,873.1 L1281.1,876.4 L1279.8,879.6 L1278.4,882.9 L1276.9,886.1 L1275.4,889.4 L1273.9,892.6 L1272.3,895.8 L1270.7,899.0 L1269.1,902.2 L1267.4,905.4 L1265.7,908.6 L1263.9,911.8 L1262.1,915.0 L1260.3,918.1 L1258.4,921.3 L1256.5,924.4 L1254.5,927.5 L1252.5,930.6 L1250.5,933.7 L1248.4,936.8 L1246.3,939.9 L1244.1,942.9 L1241.9,946.0 L1239.7,949.0 L1237.4,952.0 L1235.1,955.0 L1232.8,958.0 L1230.4,961.0 L1228.0,964.0 L1225.5,966.9 L1223.0,969.9 L1220.5,972.8 L1217.9,975.7 L1215.3,978.5 L1212.7,981.4 L1210.0,984.3 L1207.3,987.1 L1204.5,989.9 L1201.8,992.7 L1198.9,995.5 L1196.1,998.2 L1193.2,1001.0 L1190.3,1003.7 L1187.3,1006.4 L1184.3,1009.1 L1181.3,1011.7 L1178.2,1014.4 L1175.1,1017.0 L1172.0,1019.6 L1168.8,1022.1 L1165.6,1024.7 L1162.3,1027.2 L1159.1,1029.7 L1155.8,1032.2 L1152.4,1034.7 L1149.1,1037.1 L1145.7,1039.6 L1142.2,1041.9 L1138.8,1044.3 L1135.3,1046.7 L1131.8,1049.0 L1128.2,1051.3" fill="none" stroke="#1277ad" stroke-width="2.6"/>
<path d="M1128.2,1051.3 L1124.6,1053.5 L1121.0,1055.8 L1117.4,1058.0 L1113.8,1060.2 L1110.1,1062.3 L1106.4,1064.5 L1102.6,1066.6 L1098.9,1068.7 L1095.1,1070.7 L1091.2,1072.8 L1087.4,1074.8 L1083.5,1076.7 L1079.6,1078.7 L1075.7,1080.6 L1071.7,1082.5 L1067.7,1084.3 L1063.7,1086.2 L1059.7,1088.0 L1055.7,1089.8 L1051.6,1091.5 L1047.5,1093.2 L1043.4,1094.9 L1039.2,1096.6 L1035.0,1098.2 L1030.9,1099.8 L1026.6,1101.4 L1022.4,1102.9 L1018.2,1104.4 L1013.9,1105.9 L1009.6,1107.3 L1005.3,1108.7 L1001.0,1110.1 L996.6,1111.5 L992.3,1112.8 L987.9,1114.1 L983.5,1115.3 L979.1,1116.5 L974.6,1117.7 L970.2,1118.9 L965.7,1120.0 L961.2,1121.1 L956.7,1122.1 L952.2,1123.2 L947.7,1124.1 L943.2,1125.1 L938.6,1126.0 L934.1,1126.9 L929.5,1127.8 L924.9,1128.6 L920.3,1129.4 L915.7,1130.1 L911.1,1130.8 L906.5,1131.5 L901.8,1132.2 L897.2,1132.8 L892.5,1133.4 L887.9,1133.9 L883.2,1134.4 L878.6,1134.9 L873.9,1135.4 L869.2,1135.8 L864.5,1136.1 L859.8,1136.5 L855.1,1136.8 L850.4,1137.0 L845.7,1137.3 L841.0,1137.5 L836.3,1137.6 L831.6,1137.8 L826.9,1137.9 L822.1,1137.9 L817.4,1137.9 L812.7,1137.9 L808.0,1137.9 L803.3,1137.8 L798.6,1137.7" fill="none" stroke="#7a2475" stroke-width="2.6"/>
<path d="M798.6,1137.7 L793.9,1137.5 L789.2,1137.3 L784.5,1137.1 L779.8,1136.9 L775.1,1136.6 L770.4,1136.2 L765.8,1135.9 L761.1,1135.5 L756.4,1135.0 L751.8,1134.6 L747.1,1134.1 L742.5,1133.5 L737.9,1133.0 L733.2,1132.4 L728.6,1131.7 L724.0,1131.1 L719.4,1130.4 L714.8,1129.6 L710.2,1128.8 L705.7,1128.0 L701.1,1127.2 L696.6,1126.3 L692.0,1125.4 L687.5,1124.5 L683.0,1123.5 L678.5,1122.5 L674.0,1121.5 L669.6,1120.4 L665.1,1119.3 L660.7,1118.1 L656.3,1117.0 L651.9,1115.8 L647.5,1114.5 L643.1,1113.3 L638.7,1112.0 L634.4,1110.6 L630.1,1109.3 L625.8,1107.9 L621.5,1106.4 L617.2,1105.0 L613.0,1103.5 L608.8,1102.0 L604.6,1100.4 L600.4,1098.9 L596.2,1097.3 L592.1,1095.6 L588.0,1093.9 L583.9,1092.3 L579.8,1090.5 L575.8,1088.8 L571.7,1087.0 L567.7,1085.2 L563.8,1083.3 L559.8,1081.5 L555.9,1079.6 L552.0,1077.6 L548.1,1075.7 L544.3,1073.7 L540.5,1071.7 L536.7,1069.7 L532.9,1067.6 L529.1,1065.5 L525.4,1063.4 L521.8,1061.3 L518.1,1059.1 L514.5,1056.9 L510.9,1054.7 L507.3,1052.4 L503.8,1050.2 L500.2,1047.9 L496.8,1045.6 L493.3,1043.2 L489.9,1040.9 L486.5,1038.5 L483.2,1036.1 L479.8,1033.7 L476.5,1031.2 L473.3,1028.7 L470.0,1026.2 L466.9,1023.7" fill="none" stroke="#3c8a28" stroke-width="2.6"/>
<path d="M466.9,1023.7 L463.7,1021.2 L460.5,1018.6 L457.4,1016.0 L454.4,1013.4 L451.3,1010.8 L448.3,1008.1 L445.4,1005.4 L442.4,1002.8 L439.5,1000.0 L436.7,997.3 L433.8,994.6 L431.0,991.8 L428.3,989.0 L425.5,986.2 L422.9,983.4 L420.2,980.6 L417.6,977.7 L415.0,974.8 L412.5,972.0 L410.0,969.1 L407.5,966.1 L405.1,963.2 L402.7,960.3 L400.3,957.3 L398.0,954.3 L395.7,951.3 L393.5,948.3 L391.2,945.3 L389.1,942.3 L386.9,939.2 L384.9,936.2 L382.8,933.1 L380.8,930.0 L378.8,926.9 L376.9,923.8 L375.0,920.7 L373.1,917.6 L371.3,914.4 L369.5,911.3 L367.7,908.1 L366.0,905.0 L364.4,901.8 L362.7,898.6 L361.1,895.4 L359.6,892.2 L358.1,889.0 L356.6,885.8 L355.2,882.5 L353.8,879.3 L352.4,876.1 L351.1,872.8 L349.8,869.5 L348.6,866.3 L347.4,863.0 L346.2,859.7 L345.1,856.5 L344.0,853.2 L343.0,849.9 L342.0,846.6 L341.0,843.3 L340.1,840.0 L339.2,836.7 L338.4,833.4 L337.6,830.1 L336.8,826.8 L336.1,823.5 L335.4,820.2 L334.7,816.8 L334.1,813.5 L333.6,810.2 L333.0,806.9 L332.5,803.5 L332.1,800.2" fill="none" stroke="#0f2c3f" stroke-width="2.6"/>
<path d="M1304.0,758.8 L1304.1,762.2 L1304.0,765.6 L1304.0,769.0 L1303.9,772.4 L1303.8,775.8 L1303.6,779.1 L1303.4,782.5 L1303.1,785.9 L1302.8,789.3 L1302.5,792.7 L1302.1,796.1 L1301.7,799.5 L1301.2,802.9 L1300.7,806.3 L1300.2,809.7 L1299.6,813.1 L1299.0,816.5 L1298.4,819.9 L1297.7,823.2 L1296.9,826.6 L1296.1,830.0 L1295.3,833.4 L1294.4,836.8 L1293.5,840.1" fill="none" stroke="#1a6f9a" stroke-width="2.6"/>
<path d="M332.1,800.2 L331.7,796.8 L331.3,793.3 L330.9,789.9 L330.6,786.4 L330.3,783.0 L330.1,779.5 L329.9,776.1 L329.8,772.6 L329.7,769.2 L329.6,765.7 L329.6,762.3 L329.6,758.8" fill="none" stroke="#0d1a22" stroke-width="2.6"/>
<path d="M816.8,648.5 L816.8,308.1 L820.8,308.1 L824.8,308.2 L828.8,308.2 L832.8,308.3 L836.8,308.4 L840.8,308.6 L844.8,308.7 L848.8,308.9 L852.8,309.1 L856.8,309.3 L860.7,309.6 L864.7,309.9 L868.7,310.2 L872.7,310.5 L876.7,310.8 L880.6,311.2 L884.6,311.6 L888.6,312.0 L892.5,312.5 L896.5,312.9 L900.4,313.4 L904.4,314.0 L908.3,314.5 L912.2,315.1 L916.2,315.6 L920.1,316.3 L924.0,316.9 L927.9,317.6 L931.8,318.2 L935.7,318.9 L939.6,319.7 L943.5,320.4 L947.4,321.2 L951.2,322.0 L955.1,322.8 L958.9,323.7 L962.8,324.6 L966.6,325.4 L970.5,326.4 L974.3,327.3 L978.1,328.3 L981.9,329.3 L985.7,330.3 L989.5,331.3 L993.2,332.4 L997.0,333.5 L1000.7,334.6 L1004.5,335.7 L1008.2,336.8 L1011.9,338.0 L1015.6,339.2 L1019.3,340.4 L1023.0,341.7 L1026.7,342.9 L1030.3,344.2 L1034.0,345.5 L1037.6,346.9 L1041.2,348.2 L1044.9,349.6 L1048.4,351.0 L1052.0,352.4 L1055.6,353.9 L1059.1,355.3 L1062.7,356.8 L1066.2,358.4 L1069.7,359.9 L1073.2,361.4 L1076.7,363.0 L1080.2,364.6 L1083.6,366.3 L1087.0,367.9 L1090.4,369.6 L1093.8,371.3 L1097.2,373.0 L1100.6,374.7 L1103.9,376.4 L1107.3,378.2 L1110.6,380.0 Z" fill="#2c6e8c"/>
<path clip-path="url(#ts0)" d="M816.8,387.2 L820.7,387.2 L824.6,387.3 L828.4,387.3 L832.3,387.4 L836.1,387.5 L840.0,387.6 L843.8,387.8 L847.7,388.0 L851.5,388.2 L855.4,388.4 L859.2,388.6 L863.1,388.9 L866.9,389.2 L870.7,389.5 L874.6,389.9 L878.4,390.2 L882.2,390.6 L886.1,391.0 L889.9,391.5 L893.7,391.9 L897.5,392.4 L901.3,392.9 L905.1,393.4 L908.9,394.0 L912.7,394.5 L916.5,395.1 L920.3,395.8 L924.1,396.4 L927.8,397.1 L931.6,397.8 L935.4,398.5 L939.1,399.2 L942.8,400.0 L946.6,400.8 L950.3,401.6 L954.0,402.4 L957.7,403.2 L961.5,404.1 L965.2,405.0 L968.8,405.9 L972.5,406.9 L976.2,407.9 L979.9,408.8 L983.5,409.9 L987.2,410.9 L990.8,411.9 L994.4,413.0 L998.0,414.1 L1001.6,415.3 L1005.2,416.4 L1008.8,417.6 L1012.4,418.8 L1015.9,420.0 L1019.5,421.2 L1023.0,422.5 L1026.5,423.8 L1030.1,425.1 L1033.6,426.4 L1037.0,427.7 L1040.5,429.1 L1044.0,430.5 L1047.4,431.9 L1050.9,433.3 L1054.3,434.8 L1057.7,436.3 L1061.1,437.8 L1064.5,439.3 L1067.8,440.8 L1071.2,442.4 L1074.5,444.0 L1077.8,445.6 L1081.1,447.2 L1084.4,448.9 L1087.7,450.6 L1091.0,452.2 L1094.2,454.0 L1097.4,455.7 L1100.6,457.5 L1103.8,459.2 L1107.0,461.0 L1110.1,462.8 L1113.3,464.7 L1116.4,466.5 L1119.5,468.4 L1122.6,470.3 L1125.7,472.2 L1128.7,474.2 L1131.7,476.1 L1134.7,478.1 L1137.7,480.1 L1140.7,482.1 L1143.6,484.2 L1146.6,486.2 L1149.5,488.3 L1152.4,490.4 L1155.2,492.5 L1158.1,494.7 L1160.9,496.8 L1163.7,499.0 L1166.5,501.2 L1169.3,503.4 L1172.0,505.6 L1174.7,507.9 L1177.4,510.1 L1180.1,512.4 L1182.8,514.7 L1185.4,517.1 L1188.0,519.4 L1190.6,521.8 L1193.1,524.1 L1195.7,526.5 L1198.2,528.9 L1200.7,531.4 L1203.1,533.8 L1205.6,536.3 L1208.0,538.8 L1210.4,541.3 L1212.7,543.8 L1215.1,546.3 L1217.4,548.8 L1219.7,551.4 L1221.9,554.0 L1224.1,556.6 L1226.4,559.2 L1228.5,561.8 L1230.7,564.5 L1232.8,567.1 L1234.9,569.8 L1237.0,572.5 L1239.0,575.2 L1241.0,577.9 L1243.0,580.7 L1245.0,583.4 L1246.9,586.2 L1248.8,589.0 L1250.7,591.8 L1252.5,594.6 L1254.3,597.4 L1256.1,600.2 L1257.9,603.1 L1259.6,605.9 L1261.3,608.8 L1263.0,611.7 L1264.6,614.6 L1266.2,617.5 L1267.8,620.4 L1269.3,623.4 L1270.8,626.3 L1272.3,629.3 L1273.8,632.3 L1275.2,635.3 L1276.6,638.3 L1277.9,641.3 L1279.2,644.3 L1280.5,647.3 L1281.8,650.4 L1283.0,653.4 L1284.2,656.5 L1285.4,659.6 L1286.5,662.7 L1287.6,665.8 L1288.6,668.9 L1289.7,672.0 L1290.6,675.1 L1291.6,678.2 L1292.5,681.4 L1293.4,684.5 L1294.3,687.7 L1295.1,690.9 L1295.9,694.0 L1296.6,697.2 L1297.3,700.4 L1298.0,703.6 L1298.7,706.8 L1299.3,710.0 L1299.8,713.2 L1300.4,716.5 L1300.9,719.7 L1301.3,722.9 L1301.8,726.2 L1302.2,729.4 L1302.5,732.7 L1302.8,735.9 L1303.1,739.2 L1303.4,742.5 L1303.6,745.7 L1303.7,749.0 L1303.9,752.3 L1304.0,755.6 L1304.0,758.8 L1304.1,762.1 L1304.0,765.4 L1304.0,768.7 L1303.9,772.0 L1303.8,775.3 L1303.6,778.6 L1303.4,781.9 L1303.2,785.2 L1302.9,788.5 L1302.6,791.8 L1302.2,795.1 L1301.8,798.5 L1301.4,801.8 L1300.9,805.1 L1300.4,808.4 L1299.9,811.7 L1299.3,815.0 L1298.7,818.3 L1298.0,821.6 L1297.3,824.9 L1296.6,828.2 L1295.8,831.5 L1295.0,834.8 L1294.1,838.1 L1293.2,841.3 L1292.3,844.6 L1291.3,847.9 L1290.3,851.2 L1289.2,854.4 L1288.2,857.7 L1287.0,861.0 L1285.9,864.2 L1284.7,867.5 L1283.4,870.7 L1282.1,873.9 L1280.8,877.2 L1279.4,880.4 L1278.0,883.6 L1276.6,886.8 L1275.1,890.0 L1273.6,893.2 L1272.0,896.4 L1270.4,899.6 L1268.8,902.7 L1267.1,905.9 L1265.4,909.1 L1263.7,912.2 L1261.9,915.3 L1260.1,918.4 L1258.2,921.6 L1256.3,924.7 L1254.4,927.7 L1252.4,930.8 L1250.4,933.9 L1248.3,936.9 L1246.2,940.0 L1244.1,943.0 L1241.9,946.0 L1239.7,949.0 L1237.5,952.0 L1235.2,955.0 L1232.9,957.9 L1230.5,960.9 L1228.1,963.8 L1225.7,966.7 L1223.2,969.6 L1220.7,972.5 L1218.2,975.4 L1215.6,978.2 L1213.0,981.1 L1210.4,983.9 L1207.7,986.7 L1205.0,989.5 L1202.2,992.2 L1199.4,995.0 L1196.6,997.7 L1193.8,1000.4 L1190.9,1003.1 L1187.9,1005.8 L1185.0,1008.5 L1182.0,1011.1 L1179.0,1013.7 L1175.9,1016.3 L1172.8,1018.9 L1169.7,1021.4 L1166.5,1024.0 L1163.3,1026.5 L1160.1,1029.0 L1156.9,1031.4 L1153.6,1033.9 L1150.2,1036.3 L1146.9,1038.7 L1143.5,1041.1 L1140.1,1043.4 L1136.7,1045.8 L1133.2,1048.1 L1129.7,1050.3 L1126.1,1052.6 L1122.6,1054.8 L1119.0,1057.0 L1115.4,1059.2 L1111.7,1061.4 L1108.0,1063.5 L1104.3,1065.6 L1100.6,1067.7 L1096.8,1069.8 L1093.1,1071.8 L1089.2,1073.8 L1085.4,1075.8 L1081.5,1077.7 L1077.6,1079.6 L1073.7,1081.5 L1069.8,1083.4 L1065.8,1085.2 L1061.8,1087.0 L1057.8,1088.8 L1053.8,1090.6 L1049.7,1092.3 L1045.6,1094.0 L1041.5,1095.6 L1037.4,1097.3 L1033.3,1098.9 L1029.1,1100.5 L1024.9,1102.0 L1020.7,1103.5 L1016.4,1105.0 L1012.2,1106.4 L1007.9,1107.9 L1003.6,1109.3 L999.3,1110.6 L995.0,1111.9 L990.7,1113.2 L986.3,1114.5 L981.9,1115.7 L977.5,1116.9 L973.1,1118.1 L968.7,1119.2 L964.2,1120.3 L959.8,1121.4 L955.3,1122.5 L950.8,1123.5 L946.3,1124.4 L941.8,1125.4 L937.3,1126.3 L932.8,1127.2 L928.2,1128.0 L923.7,1128.8 L919.1,1129.6 L914.5,1130.3 L909.9,1131.0 L905.3,1131.7 L900.7,1132.3 L896.1,1132.9 L891.5,1133.5 L886.9,1134.0 L882.2,1134.5 L877.6,1135.0 L872.9,1135.4 L868.3,1135.8 L863.6,1136.2 L859.0,1136.5 L854.3,1136.8 L849.6,1137.1 L844.9,1137.3 L840.3,1137.5 L835.6,1137.7 L830.9,1137.8 L826.2,1137.9 L821.5,1137.9 L816.8,1137.9 L812.2,1137.9 L807.5,1137.9 L802.8,1137.8 L798.1,1137.7 L793.4,1137.5 L788.7,1137.3 L784.1,1137.1 L779.4,1136.8 L774.7,1136.5 L770.1,1136.2 L765.4,1135.8 L760.7,1135.4 L756.1,1135.0 L751.4,1134.5 L746.8,1134.0 L742.2,1133.5 L737.6,1132.9 L732.9,1132.3 L728.3,1131.7 L723.7,1131.0 L719.2,1130.3 L714.6,1129.6 L710.0,1128.8 L705.5,1128.0 L700.9,1127.2 L696.4,1126.3 L691.9,1125.4 L687.3,1124.4 L682.8,1123.5 L678.4,1122.5 L673.9,1121.4 L669.4,1120.3 L665.0,1119.2 L660.6,1118.1 L656.2,1116.9 L651.8,1115.7 L647.4,1114.5 L643.0,1113.2 L638.7,1111.9 L634.4,1110.6 L630.0,1109.3 L625.8,1107.9 L621.5,1106.4 L617.2,1105.0 L613.0,1103.5 L608.8,1102.0 L604.6,1100.5 L600.4,1098.9 L596.3,1097.3 L592.2,1095.6 L588.0,1094.0 L584.0,1092.3 L579.9,1090.6 L575.9,1088.8 L571.9,1087.0 L567.9,1085.2 L563.9,1083.4 L560.0,1081.5 L556.0,1079.6 L552.1,1077.7 L548.3,1075.8 L544.4,1073.8 L540.6,1071.8 L536.8,1069.8 L533.1,1067.7 L529.3,1065.6 L525.6,1063.5 L522.0,1061.4 L518.3,1059.2 L514.7,1057.0 L511.1,1054.8 L507.5,1052.6 L504.0,1050.3 L500.5,1048.1 L497.0,1045.8 L493.6,1043.4 L490.2,1041.1 L486.8,1038.7 L483.4,1036.3 L480.1,1033.9 L476.8,1031.4 L473.6,1029.0 L470.4,1026.5 L467.2,1024.0 L464.0,1021.4 L460.9,1018.9 L457.8,1016.3 L454.7,1013.7 L451.7,1011.1 L448.7,1008.5 L445.7,1005.8 L442.8,1003.1 L439.9,1000.4 L437.1,997.7 L434.3,995.0 L431.5,992.2 L428.7,989.5 L426.0,986.7 L423.3,983.9 L420.7,981.1 L418.1,978.2 L415.5,975.4 L413.0,972.5 L410.5,969.6 L408.0,966.7 L405.6,963.8 L403.2,960.9 L400.8,957.9 L398.5,955.0 L396.2,952.0 L394.0,949.0 L391.8,946.0 L389.6,943.0 L387.5,940.0 L385.4,936.9 L383.3,933.9 L381.3,930.8 L379.3,927.7 L377.4,924.7 L375.5,921.6 L373.6,918.4 L371.8,915.3 L370.0,912.2 L368.3,909.1 L366.5,905.9 L364.9,902.7 L363.2,899.6 L361.6,896.4 L360.1,893.2 L358.6,890.0 L357.1,886.8 L355.7,883.6 L354.2,880.4 L352.9,877.2 L351.6,873.9 L350.3,870.7 L349.0,867.5 L347.8,864.2 L346.7,861.0 L345.5,857.7 L344.4,854.4 L343.4,851.2 L342.4,847.9 L341.4,844.6 L340.5,841.3 L339.6,838.1 L338.7,834.8 L337.9,831.5 L337.1,828.2 L336.4,824.9 L335.7,821.6 L335.0,818.3 L334.4,815.0 L333.8,811.7 L333.3,808.4 L332.8,805.1 L332.3,801.8 L331.9,798.5 L331.5,795.1 L331.1,791.8 L330.8,788.5 L330.5,785.2 L330.3,781.9 L330.1,778.6 L329.9,775.3 L329.8,772.0 L329.7,768.7 L329.6,765.4 L329.6,762.1 L329.6,758.8 L329.7,755.6 L329.8,752.3 L329.9,749.0 L330.1,745.7 L330.3,742.5 L330.6,739.2 L330.9,735.9 L331.2,732.7 L331.5,729.4 L331.9,726.2 L332.3,722.9 L332.8,719.7 L333.3,716.5 L333.9,713.2 L334.4,710.0 L335.0,706.8 L335.7,703.6 L336.4,700.4 L337.1,697.2 L337.8,694.0 L338.6,690.9 L339.4,687.7 L340.3,684.5 L341.2,681.4 L342.1,678.2 L343.0,675.1 L344.0,672.0 L345.0,668.9 L346.1,665.8 L347.2,662.7 L348.3,659.6 L349.5,656.5 L350.7,653.4 L351.9,650.4 L353.2,647.3 L354.4,644.3 L355.8,641.3 L357.1,638.3 L358.5,635.3 L359.9,632.3 L361.4,629.3 L362.8,626.3 L364.4,623.4 L365.9,620.4 L367.5,617.5 L369.1,614.6 L370.7,611.7 L372.4,608.8 L374.1,605.9 L375.8,603.1 L377.6,600.2 L379.3,597.4 L381.2,594.6 L383.0,591.8 L384.9,589.0 L386.8,586.2 L388.7,583.4 L390.7,580.7 L392.6,577.9 L394.7,575.2 L396.7,572.5 L398.8,569.8 L400.9,567.1 L403.0,564.5 L405.2,561.8 L407.3,559.2 L409.5,556.6 L411.8,554.0 L414.0,551.4 L416.3,548.8 L418.6,546.3 L421.0,543.8 L423.3,541.3 L425.7,538.8 L428.1,536.3 L430.6,533.8 L433.0,531.4 L435.5,528.9 L438.0,526.5 L440.6,524.1 L443.1,521.8 L445.7,519.4 L448.3,517.1 L450.9,514.7 L453.6,512.4 L456.3,510.1 L458.9,507.9 L461.7,505.6 L464.4,503.4 L467.2,501.2 L470.0,499.0 L472.8,496.8 L475.6,494.7 L478.4,492.5 L481.3,490.4 L484.2,488.3 L487.1,486.2 L490.0,484.2 L493.0,482.1 L496.0,480.1 L498.9,478.1 L502.0,476.1 L505.0,474.2 L508.0,472.2 L511.1,470.3 L514.2,468.4 L517.3,466.5 L520.4,464.7 L523.5,462.8 L526.7,461.0 L529.9,459.2 L533.1,457.5 L536.3,455.7 L539.5,454.0 L542.7,452.2 L546.0,450.6 L549.3,448.9 L552.6,447.2 L555.9,445.6 L559.2,444.0 L562.5,442.4 L565.9,440.8 L569.2,439.3 L572.6,437.8 L576.0,436.3 L579.4,434.8 L582.8,433.3 L586.3,431.9 L589.7,430.5 L593.2,429.1 L596.6,427.7 L600.1,426.4 L603.6,425.1 L607.1,423.8 L610.7,422.5 L614.2,421.2 L617.8,420.0 L621.3,418.8 L624.9,417.6 L628.5,416.4 L632.1,415.3 L635.7,414.1 L639.3,413.0 L642.9,411.9 L646.5,410.9 L650.2,409.9 L653.8,408.8 L657.5,407.9 L661.2,406.9 L664.8,405.9 L668.5,405.0 L672.2,404.1 L675.9,403.2 L679.6,402.4 L683.4,401.6 L687.1,400.8 L690.8,400.0 L694.6,399.2 L698.3,398.5 L702.1,397.8 L705.9,397.1 L709.6,396.4 L713.4,395.8 L717.2,395.1 L721.0,394.5 L724.8,394.0 L728.6,393.4 L732.4,392.9 L736.2,392.4 L740.0,391.9 L743.8,391.5 L747.6,391.0 L751.4,390.6 L755.3,390.2 L759.1,389.9 L762.9,389.5 L766.8,389.2 L770.6,388.9 L774.5,388.6 L778.3,388.4 L782.2,388.2 L786.0,388.0 L789.9,387.8 L793.7,387.6 L797.6,387.5 L801.4,387.4 L805.3,387.3 L809.1,387.3 L813.0,387.2 L816.8,387.2" fill="none" stroke="#1b6a92" stroke-width="2" stroke-opacity="0.8"/>
<path d="M816.8,648.5 L1110.6,380.0 L1113.9,381.8 L1117.2,383.7 L1120.5,385.6 L1123.7,387.4 L1126.9,389.4 L1130.2,391.3 L1133.4,393.2 L1136.5,395.2 L1139.7,397.2 L1142.8,399.2 L1145.9,401.3 L1149.0,403.3 L1152.1,405.4 L1155.2,407.5 L1158.2,409.6 L1161.2,411.7 L1164.2,413.9 L1167.2,416.1 L1170.1,418.3 L1173.0,420.5 L1175.9,422.7 L1178.8,425.0 L1181.7,427.2 L1184.5,429.5 L1187.3,431.9 L1190.1,434.2 L1192.9,436.5 L1195.6,438.9 L1198.3,441.3 L1201.0,443.7 L1203.7,446.1 L1206.3,448.6 L1208.9,451.0 L1211.5,453.5 L1214.1,456.0 L1216.6,458.5 L1219.1,461.1 L1221.6,463.6 L1224.0,466.2 L1226.5,468.8 L1228.9,471.4 L1231.3,474.0 L1233.6,476.6 L1235.9,479.3 L1238.2,481.9 L1240.5,484.6 L1242.7,487.3 L1244.9,490.1 L1247.1,492.8 L1249.2,495.5 L1251.4,498.3 L1253.5,501.1 L1255.5,503.9 L1257.6,506.7 L1259.6,509.5 L1261.5,512.4 L1263.5,515.2 L1265.4,518.1 L1267.2,521.0 L1269.1,523.9 Z" fill="#e97b43"/>
<path clip-path="url(#ts1)" d="M816.8,387.2 L820.7,387.2 L824.6,387.3 L828.4,387.3 L832.3,387.4 L836.1,387.5 L840.0,387.6 L843.8,387.8 L847.7,388.0 L851.5,388.2 L855.4,388.4 L859.2,388.6 L863.1,388.9 L866.9,389.2 L870.7,389.5 L874.6,389.9 L878.4,390.2 L882.2,390.6 L886.1,391.0 L889.9,391.5 L893.7,391.9 L897.5,392.4 L901.3,392.9 L905.1,393.4 L908.9,394.0 L912.7,394.5 L916.5,395.1 L920.3,395.8 L924.1,396.4 L927.8,397.1 L931.6,397.8 L935.4,398.5 L939.1,399.2 L942.8,400.0 L946.6,400.8 L950.3,401.6 L954.0,402.4 L957.7,403.2 L961.5,404.1 L965.2,405.0 L968.8,405.9 L972.5,406.9 L976.2,407.9 L979.9,408.8 L983.5,409.9 L987.2,410.9 L990.8,411.9 L994.4,413.0 L998.0,414.1 L1001.6,415.3 L1005.2,416.4 L1008.8,417.6 L1012.4,418.8 L1015.9,420.0 L1019.5,421.2 L1023.0,422.5 L1026.5,423.8 L1030.1,425.1 L1033.6,426.4 L1037.0,427.7 L1040.5,429.1 L1044.0,430.5 L1047.4,431.9 L1050.9,433.3 L1054.3,434.8 L1057.7,436.3 L1061.1,437.8 L1064.5,439.3 L1067.8,440.8 L1071.2,442.4 L1074.5,444.0 L1077.8,445.6 L1081.1,447.2 L1084.4,448.9 L1087.7,450.6 L1091.0,452.2 L1094.2,454.0 L1097.4,455.7 L1100.6,457.5 L1103.8,459.2 L1107.0,461.0 L1110.1,462.8 L1113.3,464.7 L1116.4,466.5 L1119.5,468.4 L1122.6,470.3 L1125.7,472.2 L1128.7,474.2 L1131.7,476.1 L1134.7,478.1 L1137.7,480.1 L1140.7,482.1 L1143.6,484.2 L1146.6,486.2 L1149.5,488.3 L1152.4,490.4 L1155.2,492.5 L1158.1,494.7 L1160.9,496.8 L1163.7,499.0 L1166.5,501.2 L1169.3,503.4 L1172.0,505.6 L1174.7,507.9 L1177.4,510.1 L1180.1,512.4 L1182.8,514.7 L1185.4,517.1 L1188.0,519.4 L1190.6,521.8 L1193.1,524.1 L1195.7,526.5 L1198.2,528.9 L1200.7,531.4 L1203.1,533.8 L1205.6,536.3 L1208.0,538.8 L1210.4,541.3 L1212.7,543.8 L1215.1,546.3 L1217.4,548.8 L1219.7,551.4 L1221.9,554.0 L1224.1,556.6 L1226.4,559.2 L1228.5,561.8 L1230.7,564.5 L1232.8,567.1 L1234.9,569.8 L1237.0,572.5 L1239.0,575.2 L1241.0,577.9 L1243.0,580.7 L1245.0,583.4 L1246.9,586.2 L1248.8,589.0 L1250.7,591.8 L1252.5,594.6 L1254.3,597.4 L1256.1,600.2 L1257.9,603.1 L1259.6,605.9 L1261.3,608.8 L1263.0,611.7 L1264.6,614.6 L1266.2,617.5 L1267.8,620.4 L1269.3,623.4 L1270.8,626.3 L1272.3,629.3 L1273.8,632.3 L1275.2,635.3 L1276.6,638.3 L1277.9,641.3 L1279.2,644.3 L1280.5,647.3 L1281.8,650.4 L1283.0,653.4 L1284.2,656.5 L1285.4,659.6 L1286.5,662.7 L1287.6,665.8 L1288.6,668.9 L1289.7,672.0 L1290.6,675.1 L1291.6,678.2 L1292.5,681.4 L1293.4,684.5 L1294.3,687.7 L1295.1,690.9 L1295.9,694.0 L1296.6,697.2 L1297.3,700.4 L1298.0,703.6 L1298.7,706.8 L1299.3,710.0 L1299.8,713.2 L1300.4,716.5 L1300.9,719.7 L1301.3,722.9 L1301.8,726.2 L1302.2,729.4 L1302.5,732.7 L1302.8,735.9 L1303.1,739.2 L1303.4,742.5 L1303.6,745.7 L1303.7,749.0 L1303.9,752.3 L1304.0,755.6 L1304.0,758.8 L1304.1,762.1 L1304.0,765.4 L1304.0,768.7 L1303.9,772.0 L1303.8,775.3 L1303.6,778.6 L1303.4,781.9 L1303.2,785.2 L1302.9,788.5 L1302.6,791.8 L1302.2,795.1 L1301.8,798.5 L1301.4,801.8 L1300.9,805.1 L1300.4,808.4 L1299.9,811.7 L1299.3,815.0 L1298.7,818.3 L1298.0,821.6 L1297.3,824.9 L1296.6,828.2 L1295.8,831.5 L1295.0,834.8 L1294.1,838.1 L1293.2,841.3 L1292.3,844.6 L1291.3,847.9 L1290.3,851.2 L1289.2,854.4 L1288.2,857.7 L1287.0,861.0 L1285.9,864.2 L1284.7,867.5 L1283.4,870.7 L1282.1,873.9 L1280.8,877.2 L1279.4,880.4 L1278.0,883.6 L1276.6,886.8 L1275.1,890.0 L1273.6,893.2 L1272.0,896.4 L1270.4,899.6 L1268.8,902.7 L1267.1,905.9 L1265.4,909.1 L1263.7,912.2 L1261.9,915.3 L1260.1,918.4 L1258.2,921.6 L1256.3,924.7 L1254.4,927.7 L1252.4,930.8 L1250.4,933.9 L1248.3,936.9 L1246.2,940.0 L1244.1,943.0 L1241.9,946.0 L1239.7,949.0 L1237.5,952.0 L1235.2,955.0 L1232.9,957.9 L1230.5,960.9 L1228.1,963.8 L1225.7,966.7 L1223.2,969.6 L1220.7,972.5 L1218.2,975.4 L1215.6,978.2 L1213.0,981.1 L1210.4,983.9 L1207.7,986.7 L1205.0,989.5 L1202.2,992.2 L1199.4,995.0 L1196.6,997.7 L1193.8,1000.4 L1190.9,1003.1 L1187.9,1005.8 L1185.0,1008.5 L1182.0,1011.1 L1179.0,1013.7 L1175.9,1016.3 L1172.8,1018.9 L1169.7,1021.4 L1166.5,1024.0 L1163.3,1026.5 L1160.1,1029.0 L1156.9,1031.4 L1153.6,1033.9 L1150.2,1036.3 L1146.9,1038.7 L1143.5,1041.1 L1140.1,1043.4 L1136.7,1045.8 L1133.2,1048.1 L1129.7,1050.3 L1126.1,1052.6 L1122.6,1054.8 L1119.0,1057.0 L1115.4,1059.2 L1111.7,1061.4 L1108.0,1063.5 L1104.3,1065.6 L1100.6,1067.7 L1096.8,1069.8 L1093.1,1071.8 L1089.2,1073.8 L1085.4,1075.8 L1081.5,1077.7 L1077.6,1079.6 L1073.7,1081.5 L1069.8,1083.4 L1065.8,1085.2 L1061.8,1087.0 L1057.8,1088.8 L1053.8,1090.6 L1049.7,1092.3 L1045.6,1094.0 L1041.5,1095.6 L1037.4,1097.3 L1033.3,1098.9 L1029.1,1100.5 L1024.9,1102.0 L1020.7,1103.5 L1016.4,1105.0 L1012.2,1106.4 L1007.9,1107.9 L1003.6,1109.3 L999.3,1110.6 L995.0,1111.9 L990.7,1113.2 L986.3,1114.5 L981.9,1115.7 L977.5,1116.9 L973.1,1118.1 L968.7,1119.2 L964.2,1120.3 L959.8,1121.4 L955.3,1122.5 L950.8,1123.5 L946.3,1124.4 L941.8,1125.4 L937.3,1126.3 L932.8,1127.2 L928.2,1128.0 L923.7,1128.8 L919.1,1129.6 L914.5,1130.3 L909.9,1131.0 L905.3,1131.7 L900.7,1132.3 L896.1,1132.9 L891.5,1133.5 L886.9,1134.0 L882.2,1134.5 L877.6,1135.0 L872.9,1135.4 L868.3,1135.8 L863.6,1136.2 L859.0,1136.5 L854.3,1136.8 L849.6,1137.1 L844.9,1137.3 L840.3,1137.5 L835.6,1137.7 L830.9,1137.8 L826.2,1137.9 L821.5,1137.9 L816.8,1137.9 L812.2,1137.9 L807.5,1137.9 L802.8,1137.8 L798.1,1137.7 L793.4,1137.5 L788.7,1137.3 L784.1,1137.1 L779.4,1136.8 L774.7,1136.5 L770.1,1136.2 L765.4,1135.8 L760.7,1135.4 L756.1,1135.0 L751.4,1134.5 L746.8,1134.0 L742.2,1133.5 L737.6,1132.9 L732.9,1132.3 L728.3,1131.7 L723.7,1131.0 L719.2,1130.3 L714.6,1129.6 L710.0,1128.8 L705.5,1128.0 L700.9,1127.2 L696.4,1126.3 L691.9,1125.4 L687.3,1124.4 L682.8,1123.5 L678.4,1122.5 L673.9,1121.4 L669.4,1120.3 L665.0,1119.2 L660.6,1118.1 L656.2,1116.9 L651.8,1115.7 L647.4,1114.5 L643.0,1113.2 L638.7,1111.9 L634.4,1110.6 L630.0,1109.3 L625.8,1107.9 L621.5,1106.4 L617.2,1105.0 L613.0,1103.5 L608.8,1102.0 L604.6,1100.5 L600.4,1098.9 L596.3,1097.3 L592.2,1095.6 L588.0,1094.0 L584.0,1092.3 L579.9,1090.6 L575.9,1088.8 L571.9,1087.0 L567.9,1085.2 L563.9,1083.4 L560.0,1081.5 L556.0,1079.6 L552.1,1077.7 L548.3,1075.8 L544.4,1073.8 L540.6,1071.8 L536.8,1069.8 L533.1,1067.7 L529.3,1065.6 L525.6,1063.5 L522.0,1061.4 L518.3,1059.2 L514.7,1057.0 L511.1,1054.8 L507.5,1052.6 L504.0,1050.3 L500.5,1048.1 L497.0,1045.8 L493.6,1043.4 L490.2,1041.1 L486.8,1038.7 L483.4,1036.3 L480.1,1033.9 L476.8,1031.4 L473.6,1029.0 L470.4,1026.5 L467.2,1024.0 L464.0,1021.4 L460.9,1018.9 L457.8,1016.3 L454.7,1013.7 L451.7,1011.1 L448.7,1008.5 L445.7,1005.8 L442.8,1003.1 L439.9,1000.4 L437.1,997.7 L434.3,995.0 L431.5,992.2 L428.7,989.5 L426.0,986.7 L423.3,983.9 L420.7,981.1 L418.1,978.2 L415.5,975.4 L413.0,972.5 L410.5,969.6 L408.0,966.7 L405.6,963.8 L403.2,960.9 L400.8,957.9 L398.5,955.0 L396.2,952.0 L394.0,949.0 L391.8,946.0 L389.6,943.0 L387.5,940.0 L385.4,936.9 L383.3,933.9 L381.3,930.8 L379.3,927.7 L377.4,924.7 L375.5,921.6 L373.6,918.4 L371.8,915.3 L370.0,912.2 L368.3,909.1 L366.5,905.9 L364.9,902.7 L363.2,899.6 L361.6,896.4 L360.1,893.2 L358.6,890.0 L357.1,886.8 L355.7,883.6 L354.2,880.4 L352.9,877.2 L351.6,873.9 L350.3,870.7 L349.0,867.5 L347.8,864.2 L346.7,861.0 L345.5,857.7 L344.4,854.4 L343.4,851.2 L342.4,847.9 L341.4,844.6 L340.5,841.3 L339.6,838.1 L338.7,834.8 L337.9,831.5 L337.1,828.2 L336.4,824.9 L335.7,821.6 L335.0,818.3 L334.4,815.0 L333.8,811.7 L333.3,808.4 L332.8,805.1 L332.3,801.8 L331.9,798.5 L331.5,795.1 L331.1,791.8 L330.8,788.5 L330.5,785.2 L330.3,781.9 L330.1,778.6 L329.9,775.3 L329.8,772.0 L329.7,768.7 L329.6,765.4 L329.6,762.1 L329.6,758.8 L329.7,755.6 L329.8,752.3 L329.9,749.0 L330.1,745.7 L330.3,742.5 L330.6,739.2 L330.9,735.9 L331.2,732.7 L331.5,729.4 L331.9,726.2 L332.3,722.9 L332.8,719.7 L333.3,716.5 L333.9,713.2 L334.4,710.0 L335.0,706.8 L335.7,703.6 L336.4,700.4 L337.1,697.2 L337.8,694.0 L338.6,690.9 L339.4,687.7 L340.3,684.5 L341.2,681.4 L342.1,678.2 L343.0,675.1 L344.0,672.0 L345.0,668.9 L346.1,665.8 L347.2,662.7 L348.3,659.6 L349.5,656.5 L350.7,653.4 L351.9,650.4 L353.2,647.3 L354.4,644.3 L355.8,641.3 L357.1,638.3 L358.5,635.3 L359.9,632.3 L361.4,629.3 L362.8,626.3 L364.4,623.4 L365.9,620.4 L367.5,617.5 L369.1,614.6 L370.7,611.7 L372.4,608.8 L374.1,605.9 L375.8,603.1 L377.6,600.2 L379.3,597.4 L381.2,594.6 L383.0,591.8 L384.9,589.0 L386.8,586.2 L388.7,583.4 L390.7,580.7 L392.6,577.9 L394.7,575.2 L396.7,572.5 L398.8,569.8 L400.9,567.1 L403.0,564.5 L405.2,561.8 L407.3,559.2 L409.5,556.6 L411.8,554.0 L414.0,551.4 L416.3,548.8 L418.6,546.3 L421.0,543.8 L423.3,541.3 L425.7,538.8 L428.1,536.3 L430.6,533.8 L433.0,531.4 L435.5,528.9 L438.0,526.5 L440.6,524.1 L443.1,521.8 L445.7,519.4 L448.3,517.1 L450.9,514.7 L453.6,512.4 L456.3,510.1 L458.9,507.9 L461.7,505.6 L464.4,503.4 L467.2,501.2 L470.0,499.0 L472.8,496.8 L475.6,494.7 L478.4,492.5 L481.3,490.4 L484.2,488.3 L487.1,486.2 L490.0,484.2 L493.0,482.1 L496.0,480.1 L498.9,478.1 L502.0,476.1 L505.0,474.2 L508.0,472.2 L511.1,470.3 L514.2,468.4 L517.3,466.5 L520.4,464.7 L523.5,462.8 L526.7,461.0 L529.9,459.2 L533.1,457.5 L536.3,455.7 L539.5,454.0 L542.7,452.2 L546.0,450.6 L549.3,448.9 L552.6,447.2 L555.9,445.6 L559.2,444.0 L562.5,442.4 L565.9,440.8 L569.2,439.3 L572.6,437.8 L576.0,436.3 L579.4,434.8 L582.8,433.3 L586.3,431.9 L589.7,430.5 L593.2,429.1 L596.6,427.7 L600.1,426.4 L603.6,425.1 L607.1,423.8 L610.7,422.5 L614.2,421.2 L617.8,420.0 L621.3,418.8 L624.9,417.6 L628.5,416.4 L632.1,415.3 L635.7,414.1 L639.3,413.0 L642.9,411.9 L646.5,410.9 L650.2,409.9 L653.8,408.8 L657.5,407.9 L661.2,406.9 L664.8,405.9 L668.5,405.0 L672.2,404.1 L675.9,403.2 L679.6,402.4 L683.4,401.6 L687.1,400.8 L690.8,400.0 L694.6,399.2 L698.3,398.5 L702.1,397.8 L705.9,397.1 L709.6,396.4 L713.4,395.8 L717.2,395.1 L721.0,394.5 L724.8,394.0 L728.6,393.4 L732.4,392.9 L736.2,392.4 L740.0,391.9 L743.8,391.5 L747.6,391.0 L751.4,390.6 L755.3,390.2 L759.1,389.9 L762.9,389.5 L766.8,389.2 L770.6,388.9 L774.5,388.6 L778.3,388.4 L782.2,388.2 L786.0,388.0 L789.9,387.8 L793.7,387.6 L797.6,387.5 L801.4,387.4 L805.3,387.3 L809.1,387.3 L813.0,387.2 L816.8,387.2" fill="none" stroke="#e8702e" stroke-width="2" stroke-opacity="0.8"/>
<path d="M816.8,648.5 L1269.1,523.9 L1270.9,526.8 L1272.7,529.7 L1274.4,532.7 L1276.2,535.6 L1277.8,538.6 L1279.5,541.6 L1281.1,544.5 L1282.7,547.5 L1284.3,550.6 L1285.8,553.6 L1287.3,556.6 L1288.7,559.7 L1290.1,562.7 L1291.5,565.8 L1292.9,568.9 L1294.2,572.0 L1295.5,575.1 L1296.7,578.2 L1298.0,581.4 L1299.1,584.5 L1300.3,587.7 L1301.4,590.8 L1302.5,594.0 L1303.5,597.2 L1304.5,600.4 L1305.5,603.6 L1306.4,606.8 L1307.3,610.0 L1308.2,613.2 L1309.0,616.5 L1309.8,619.7 L1310.5,623.0 L1311.3,626.2 L1311.9,629.5 L1312.6,632.8 L1313.2,636.0 L1313.7,639.3 L1314.3,642.6 L1314.7,645.9 L1315.2,649.2 L1315.6,652.5 L1316.0,655.8 L1316.3,659.2 L1316.6,662.5 L1316.9,665.8 L1317.1,669.2 L1317.3,672.5 L1317.4,675.9 L1317.5,679.2 L1317.6,682.6 L1317.6,685.9 L1317.6,689.3 L1317.5,692.6 L1317.4,696.0 L1317.3,699.4 L1317.1,702.7 L1316.9,706.1 L1316.7,709.5 L1316.4,712.8 L1316.0,716.2 L1315.6,719.6 L1315.2,723.0 L1314.8,726.3 L1314.3,729.7 L1313.7,733.1 L1313.2,736.5 L1312.5,739.8 L1311.9,743.2 L1311.2,746.6 L1310.4,749.9 L1309.7,753.3 L1308.8,756.7 L1308.0,760.0 L1307.1,763.4 Z" fill="#2f7a37"/>
<path clip-path="url(#ts2)" d="M816.8,387.2 L820.7,387.2 L824.6,387.3 L828.4,387.3 L832.3,387.4 L836.1,387.5 L840.0,387.6 L843.8,387.8 L847.7,388.0 L851.5,388.2 L855.4,388.4 L859.2,388.6 L863.1,388.9 L866.9,389.2 L870.7,389.5 L874.6,389.9 L878.4,390.2 L882.2,390.6 L886.1,391.0 L889.9,391.5 L893.7,391.9 L897.5,392.4 L901.3,392.9 L905.1,393.4 L908.9,394.0 L912.7,394.5 L916.5,395.1 L920.3,395.8 L924.1,396.4 L927.8,397.1 L931.6,397.8 L935.4,398.5 L939.1,399.2 L942.8,400.0 L946.6,400.8 L950.3,401.6 L954.0,402.4 L957.7,403.2 L961.5,404.1 L965.2,405.0 L968.8,405.9 L972.5,406.9 L976.2,407.9 L979.9,408.8 L983.5,409.9 L987.2,410.9 L990.8,411.9 L994.4,413.0 L998.0,414.1 L1001.6,415.3 L1005.2,416.4 L1008.8,417.6 L1012.4,418.8 L1015.9,420.0 L1019.5,421.2 L1023.0,422.5 L1026.5,423.8 L1030.1,425.1 L1033.6,426.4 L1037.0,427.7 L1040.5,429.1 L1044.0,430.5 L1047.4,431.9 L1050.9,433.3 L1054.3,434.8 L1057.7,436.3 L1061.1,437.8 L1064.5,439.3 L1067.8,440.8 L1071.2,442.4 L1074.5,444.0 L1077.8,445.6 L1081.1,447.2 L1084.4,448.9 L1087.7,450.6 L1091.0,452.2 L1094.2,454.0 L1097.4,455.7 L1100.6,457.5 L1103.8,459.2 L1107.0,461.0 L1110.1,462.8 L1113.3,464.7 L1116.4,466.5 L1119.5,468.4 L1122.6,470.3 L1125.7,472.2 L1128.7,474.2 L1131.7,476.1 L1134.7,478.1 L1137.7,480.1 L1140.7,482.1 L1143.6,484.2 L1146.6,486.2 L1149.5,488.3 L1152.4,490.4 L1155.2,492.5 L1158.1,494.7 L1160.9,496.8 L1163.7,499.0 L1166.5,501.2 L1169.3,503.4 L1172.0,505.6 L1174.7,507.9 L1177.4,510.1 L1180.1,512.4 L1182.8,514.7 L1185.4,517.1 L1188.0,519.4 L1190.6,521.8 L1193.1,524.1 L1195.7,526.5 L1198.2,528.9 L1200.7,531.4 L1203.1,533.8 L1205.6,536.3 L1208.0,538.8 L1210.4,541.3 L1212.7,543.8 L1215.1,546.3 L1217.4,548.8 L1219.7,551.4 L1221.9,554.0 L1224.1,556.6 L1226.4,559.2 L1228.5,561.8 L1230.7,564.5 L1232.8,567.1 L1234.9,569.8 L1237.0,572.5 L1239.0,575.2 L1241.0,577.9 L1243.0,580.7 L1245.0,583.4 L1246.9,586.2 L1248.8,589.0 L1250.7,591.8 L1252.5,594.6 L1254.3,597.4 L1256.1,600.2 L1257.9,603.1 L1259.6,605.9 L1261.3,608.8 L1263.0,611.7 L1264.6,614.6 L1266.2,617.5 L1267.8,620.4 L1269.3,623.4 L1270.8,626.3 L1272.3,629.3 L1273.8,632.3 L1275.2,635.3 L1276.6,638.3 L1277.9,641.3 L1279.2,644.3 L1280.5,647.3 L1281.8,650.4 L1283.0,653.4 L1284.2,656.5 L1285.4,659.6 L1286.5,662.7 L1287.6,665.8 L1288.6,668.9 L1289.7,672.0 L1290.6,675.1 L1291.6,678.2 L1292.5,681.4 L1293.4,684.5 L1294.3,687.7 L1295.1,690.9 L1295.9,694.0 L1296.6,697.2 L1297.3,700.4 L1298.0,703.6 L1298.7,706.8 L1299.3,710.0 L1299.8,713.2 L1300.4,716.5 L1300.9,719.7 L1301.3,722.9 L1301.8,726.2 L1302.2,729.4 L1302.5,732.7 L1302.8,735.9 L1303.1,739.2 L1303.4,742.5 L1303.6,745.7 L1303.7,749.0 L1303.9,752.3 L1304.0,755.6 L1304.0,758.8 L1304.1,762.1 L1304.0,765.4 L1304.0,768.7 L1303.9,772.0 L1303.8,775.3 L1303.6,778.6 L1303.4,781.9 L1303.2,785.2 L1302.9,788.5 L1302.6,791.8 L1302.2,795.1 L1301.8,798.5 L1301.4,801.8 L1300.9,805.1 L1300.4,808.4 L1299.9,811.7 L1299.3,815.0 L1298.7,818.3 L1298.0,821.6 L1297.3,824.9 L1296.6,828.2 L1295.8,831.5 L1295.0,834.8 L1294.1,838.1 L1293.2,841.3 L1292.3,844.6 L1291.3,847.9 L1290.3,851.2 L1289.2,854.4 L1288.2,857.7 L1287.0,861.0 L1285.9,864.2 L1284.7,867.5 L1283.4,870.7 L1282.1,873.9 L1280.8,877.2 L1279.4,880.4 L1278.0,883.6 L1276.6,886.8 L1275.1,890.0 L1273.6,893.2 L1272.0,896.4 L1270.4,899.6 L1268.8,902.7 L1267.1,905.9 L1265.4,909.1 L1263.7,912.2 L1261.9,915.3 L1260.1,918.4 L1258.2,921.6 L1256.3,924.7 L1254.4,927.7 L1252.4,930.8 L1250.4,933.9 L1248.3,936.9 L1246.2,940.0 L1244.1,943.0 L1241.9,946.0 L1239.7,949.0 L1237.5,952.0 L1235.2,955.0 L1232.9,957.9 L1230.5,960.9 L1228.1,963.8 L1225.7,966.7 L1223.2,969.6 L1220.7,972.5 L1218.2,975.4 L1215.6,978.2 L1213.0,981.1 L1210.4,983.9 L1207.7,986.7 L1205.0,989.5 L1202.2,992.2 L1199.4,995.0 L1196.6,997.7 L1193.8,1000.4 L1190.9,1003.1 L1187.9,1005.8 L1185.0,1008.5 L1182.0,1011.1 L1179.0,1013.7 L1175.9,1016.3 L1172.8,1018.9 L1169.7,1021.4 L1166.5,1024.0 L1163.3,1026.5 L1160.1,1029.0 L1156.9,1031.4 L1153.6,1033.9 L1150.2,1036.3 L1146.9,1038.7 L1143.5,1041.1 L1140.1,1043.4 L1136.7,1045.8 L1133.2,1048.1 L1129.7,1050.3 L1126.1,1052.6 L1122.6,1054.8 L1119.0,1057.0 L1115.4,1059.2 L1111.7,1061.4 L1108.0,1063.5 L1104.3,1065.6 L1100.6,1067.7 L1096.8,1069.8 L1093.1,1071.8 L1089.2,1073.8 L1085.4,1075.8 L1081.5,1077.7 L1077.6,1079.6 L1073.7,1081.5 L1069.8,1083.4 L1065.8,1085.2 L1061.8,1087.0 L1057.8,1088.8 L1053.8,1090.6 L1049.7,1092.3 L1045.6,1094.0 L1041.5,1095.6 L1037.4,1097.3 L1033.3,1098.9 L1029.1,1100.5 L1024.9,1102.0 L1020.7,1103.5 L1016.4,1105.0 L1012.2,1106.4 L1007.9,1107.9 L1003.6,1109.3 L999.3,1110.6 L995.0,1111.9 L990.7,1113.2 L986.3,1114.5 L981.9,1115.7 L977.5,1116.9 L973.1,1118.1 L968.7,1119.2 L964.2,1120.3 L959.8,1121.4 L955.3,1122.5 L950.8,1123.5 L946.3,1124.4 L941.8,1125.4 L937.3,1126.3 L932.8,1127.2 L928.2,1128.0 L923.7,1128.8 L919.1,1129.6 L914.5,1130.3 L909.9,1131.0 L905.3,1131.7 L900.7,1132.3 L896.1,1132.9 L891.5,1133.5 L886.9,1134.0 L882.2,1134.5 L877.6,1135.0 L872.9,1135.4 L868.3,1135.8 L863.6,1136.2 L859.0,1136.5 L854.3,1136.8 L849.6,1137.1 L844.9,1137.3 L840.3,1137.5 L835.6,1137.7 L830.9,1137.8 L826.2,1137.9 L821.5,1137.9 L816.8,1137.9 L812.2,1137.9 L807.5,1137.9 L802.8,1137.8 L798.1,1137.7 L793.4,1137.5 L788.7,1137.3 L784.1,1137.1 L779.4,1136.8 L774.7,1136.5 L770.1,1136.2 L765.4,1135.8 L760.7,1135.4 L756.1,1135.0 L751.4,1134.5 L746.8,1134.0 L742.2,1133.5 L737.6,1132.9 L732.9,1132.3 L728.3,1131.7 L723.7,1131.0 L719.2,1130.3 L714.6,1129.6 L710.0,1128.8 L705.5,1128.0 L700.9,1127.2 L696.4,1126.3 L691.9,1125.4 L687.3,1124.4 L682.8,1123.5 L678.4,1122.5 L673.9,1121.4 L669.4,1120.3 L665.0,1119.2 L660.6,1118.1 L656.2,1116.9 L651.8,1115.7 L647.4,1114.5 L643.0,1113.2 L638.7,1111.9 L634.4,1110.6 L630.0,1109.3 L625.8,1107.9 L621.5,1106.4 L617.2,1105.0 L613.0,1103.5 L608.8,1102.0 L604.6,1100.5 L600.4,1098.9 L596.3,1097.3 L592.2,1095.6 L588.0,1094.0 L584.0,1092.3 L579.9,1090.6 L575.9,1088.8 L571.9,1087.0 L567.9,1085.2 L563.9,1083.4 L560.0,1081.5 L556.0,1079.6 L552.1,1077.7 L548.3,1075.8 L544.4,1073.8 L540.6,1071.8 L536.8,1069.8 L533.1,1067.7 L529.3,1065.6 L525.6,1063.5 L522.0,1061.4 L518.3,1059.2 L514.7,1057.0 L511.1,1054.8 L507.5,1052.6 L504.0,1050.3 L500.5,1048.1 L497.0,1045.8 L493.6,1043.4 L490.2,1041.1 L486.8,1038.7 L483.4,1036.3 L480.1,1033.9 L476.8,1031.4 L473.6,1029.0 L470.4,1026.5 L467.2,1024.0 L464.0,1021.4 L460.9,1018.9 L457.8,1016.3 L454.7,1013.7 L451.7,1011.1 L448.7,1008.5 L445.7,1005.8 L442.8,1003.1 L439.9,1000.4 L437.1,997.7 L434.3,995.0 L431.5,992.2 L428.7,989.5 L426.0,986.7 L423.3,983.9 L420.7,981.1 L418.1,978.2 L415.5,975.4 L413.0,972.5 L410.5,969.6 L408.0,966.7 L405.6,963.8 L403.2,960.9 L400.8,957.9 L398.5,955.0 L396.2,952.0 L394.0,949.0 L391.8,946.0 L389.6,943.0 L387.5,940.0 L385.4,936.9 L383.3,933.9 L381.3,930.8 L379.3,927.7 L377.4,924.7 L375.5,921.6 L373.6,918.4 L371.8,915.3 L370.0,912.2 L368.3,909.1 L366.5,905.9 L364.9,902.7 L363.2,899.6 L361.6,896.4 L360.1,893.2 L358.6,890.0 L357.1,886.8 L355.7,883.6 L354.2,880.4 L352.9,877.2 L351.6,873.9 L350.3,870.7 L349.0,867.5 L347.8,864.2 L346.7,861.0 L345.5,857.7 L344.4,854.4 L343.4,851.2 L342.4,847.9 L341.4,844.6 L340.5,841.3 L339.6,838.1 L338.7,834.8 L337.9,831.5 L337.1,828.2 L336.4,824.9 L335.7,821.6 L335.0,818.3 L334.4,815.0 L333.8,811.7 L333.3,808.4 L332.8,805.1 L332.3,801.8 L331.9,798.5 L331.5,795.1 L331.1,791.8 L330.8,788.5 L330.5,785.2 L330.3,781.9 L330.1,778.6 L329.9,775.3 L329.8,772.0 L329.7,768.7 L329.6,765.4 L329.6,762.1 L329.6,758.8 L329.7,755.6 L329.8,752.3 L329.9,749.0 L330.1,745.7 L330.3,742.5 L330.6,739.2 L330.9,735.9 L331.2,732.7 L331.5,729.4 L331.9,726.2 L332.3,722.9 L332.8,719.7 L333.3,716.5 L333.9,713.2 L334.4,710.0 L335.0,706.8 L335.7,703.6 L336.4,700.4 L337.1,697.2 L337.8,694.0 L338.6,690.9 L339.4,687.7 L340.3,684.5 L341.2,681.4 L342.1,678.2 L343.0,675.1 L344.0,672.0 L345.0,668.9 L346.1,665.8 L347.2,662.7 L348.3,659.6 L349.5,656.5 L350.7,653.4 L351.9,650.4 L353.2,647.3 L354.4,644.3 L355.8,641.3 L357.1,638.3 L358.5,635.3 L359.9,632.3 L361.4,629.3 L362.8,626.3 L364.4,623.4 L365.9,620.4 L367.5,617.5 L369.1,614.6 L370.7,611.7 L372.4,608.8 L374.1,605.9 L375.8,603.1 L377.6,600.2 L379.3,597.4 L381.2,594.6 L383.0,591.8 L384.9,589.0 L386.8,586.2 L388.7,583.4 L390.7,580.7 L392.6,577.9 L394.7,575.2 L396.7,572.5 L398.8,569.8 L400.9,567.1 L403.0,564.5 L405.2,561.8 L407.3,559.2 L409.5,556.6 L411.8,554.0 L414.0,551.4 L416.3,548.8 L418.6,546.3 L421.0,543.8 L423.3,541.3 L425.7,538.8 L428.1,536.3 L430.6,533.8 L433.0,531.4 L435.5,528.9 L438.0,526.5 L440.6,524.1 L443.1,521.8 L445.7,519.4 L448.3,517.1 L450.9,514.7 L453.6,512.4 L456.3,510.1 L458.9,507.9 L461.7,505.6 L464.4,503.4 L467.2,501.2 L470.0,499.0 L472.8,496.8 L475.6,494.7 L478.4,492.5 L481.3,490.4 L484.2,488.3 L487.1,486.2 L490.0,484.2 L493.0,482.1 L496.0,480.1 L498.9,478.1 L502.0,476.1 L505.0,474.2 L508.0,472.2 L511.1,470.3 L514.2,468.4 L517.3,466.5 L520.4,464.7 L523.5,462.8 L526.7,461.0 L529.9,459.2 L533.1,457.5 L536.3,455.7 L539.5,454.0 L542.7,452.2 L546.0,450.6 L549.3,448.9 L552.6,447.2 L555.9,445.6 L559.2,444.0 L562.5,442.4 L565.9,440.8 L569.2,439.3 L572.6,437.8 L576.0,436.3 L579.4,434.8 L582.8,433.3 L586.3,431.9 L589.7,430.5 L593.2,429.1 L596.6,427.7 L600.1,426.4 L603.6,425.1 L607.1,423.8 L610.7,422.5 L614.2,421.2 L617.8,420.0 L621.3,418.8 L624.9,417.6 L628.5,416.4 L632.1,415.3 L635.7,414.1 L639.3,413.0 L642.9,411.9 L646.5,410.9 L650.2,409.9 L653.8,408.8 L657.5,407.9 L661.2,406.9 L664.8,405.9 L668.5,405.0 L672.2,404.1 L675.9,403.2 L679.6,402.4 L683.4,401.6 L687.1,400.8 L690.8,400.0 L694.6,399.2 L698.3,398.5 L702.1,397.8 L705.9,397.1 L709.6,396.4 L713.4,395.8 L717.2,395.1 L721.0,394.5 L724.8,394.0 L728.6,393.4 L732.4,392.9 L736.2,392.4 L740.0,391.9 L743.8,391.5 L747.6,391.0 L751.4,390.6 L755.3,390.2 L759.1,389.9 L762.9,389.5 L766.8,389.2 L770.6,388.9 L774.5,388.6 L778.3,388.4 L782.2,388.2 L786.0,388.0 L789.9,387.8 L793.7,387.6 L797.6,387.5 L801.4,387.4 L805.3,387.3 L809.1,387.3 L813.0,387.2 L816.8,387.2" fill="none" stroke="#1e7a2a" stroke-width="2" stroke-opacity="0.8"/>
<path d="M816.8,648.5 L1307.1,763.4 L1306.1,766.7 L1305.1,770.1 L1304.1,773.4 L1303.0,776.7 L1301.9,780.1 L1300.8,783.4 L1299.6,786.7 L1298.4,790.0 L1297.1,793.3 L1295.8,796.6 L1294.4,799.9 L1293.0,803.2 L1291.6,806.5 L1290.1,809.8 L1288.6,813.0 L1287.0,816.3 L1285.4,819.5 L1283.8,822.8 L1282.1,826.0 L1280.4,829.2 L1278.6,832.5 L1276.8,835.7 L1275.0,838.9 L1273.1,842.0 L1271.2,845.2 L1269.2,848.4 L1267.2,851.5 L1265.1,854.7 L1263.1,857.8 L1260.9,860.9 L1258.8,864.0 L1256.6,867.1 L1254.3,870.2 L1252.0,873.3 L1249.7,876.3 L1247.3,879.3 L1244.9,882.4 L1242.5,885.4 L1240.0,888.4 L1237.5,891.3 L1234.9,894.3 L1232.3,897.2 L1229.7,900.2 L1227.0,903.1 L1224.3,906.0 L1221.6,908.8 L1218.8,911.7 L1216.0,914.5 L1213.1,917.4 L1210.2,920.2 L1207.3,923.0 L1204.3,925.7 L1201.3,928.5 L1198.3,931.2 L1195.2,933.9 L1192.1,936.6 L1188.9,939.3 L1185.7,941.9 L1182.5,944.5 L1179.2,947.1 L1175.9,949.7 L1172.6,952.3 L1169.3,954.8 L1165.9,957.3 L1162.4,959.8 L1159.0,962.3 L1155.5,964.7 L1152.0,967.2 L1148.4,969.6 L1144.8,971.9 L1141.2,974.3 L1137.5,976.6 Z" fill="#24a4d8"/>
<path clip-path="url(#ts3)" d="M816.8,387.2 L820.7,387.2 L824.6,387.3 L828.4,387.3 L832.3,387.4 L836.1,387.5 L840.0,387.6 L843.8,387.8 L847.7,388.0 L851.5,388.2 L855.4,388.4 L859.2,388.6 L863.1,388.9 L866.9,389.2 L870.7,389.5 L874.6,389.9 L878.4,390.2 L882.2,390.6 L886.1,391.0 L889.9,391.5 L893.7,391.9 L897.5,392.4 L901.3,392.9 L905.1,393.4 L908.9,394.0 L912.7,394.5 L916.5,395.1 L920.3,395.8 L924.1,396.4 L927.8,397.1 L931.6,397.8 L935.4,398.5 L939.1,399.2 L942.8,400.0 L946.6,400.8 L950.3,401.6 L954.0,402.4 L957.7,403.2 L961.5,404.1 L965.2,405.0 L968.8,405.9 L972.5,406.9 L976.2,407.9 L979.9,408.8 L983.5,409.9 L987.2,410.9 L990.8,411.9 L994.4,413.0 L998.0,414.1 L1001.6,415.3 L1005.2,416.4 L1008.8,417.6 L1012.4,418.8 L1015.9,420.0 L1019.5,421.2 L1023.0,422.5 L1026.5,423.8 L1030.1,425.1 L1033.6,426.4 L1037.0,427.7 L1040.5,429.1 L1044.0,430.5 L1047.4,431.9 L1050.9,433.3 L1054.3,434.8 L1057.7,436.3 L1061.1,437.8 L1064.5,439.3 L1067.8,440.8 L1071.2,442.4 L1074.5,444.0 L1077.8,445.6 L1081.1,447.2 L1084.4,448.9 L1087.7,450.6 L1091.0,452.2 L1094.2,454.0 L1097.4,455.7 L1100.6,457.5 L1103.8,459.2 L1107.0,461.0 L1110.1,462.8 L1113.3,464.7 L1116.4,466.5 L1119.5,468.4 L1122.6,470.3 L1125.7,472.2 L1128.7,474.2 L1131.7,476.1 L1134.7,478.1 L1137.7,480.1 L1140.7,482.1 L1143.6,484.2 L1146.6,486.2 L1149.5,488.3 L1152.4,490.4 L1155.2,492.5 L1158.1,494.7 L1160.9,496.8 L1163.7,499.0 L1166.5,501.2 L1169.3,503.4 L1172.0,505.6 L1174.7,507.9 L1177.4,510.1 L1180.1,512.4 L1182.8,514.7 L1185.4,517.1 L1188.0,519.4 L1190.6,521.8 L1193.1,524.1 L1195.7,526.5 L1198.2,528.9 L1200.7,531.4 L1203.1,533.8 L1205.6,536.3 L1208.0,538.8 L1210.4,541.3 L1212.7,543.8 L1215.1,546.3 L1217.4,548.8 L1219.7,551.4 L1221.9,554.0 L1224.1,556.6 L1226.4,559.2 L1228.5,561.8 L1230.7,564.5 L1232.8,567.1 L1234.9,569.8 L1237.0,572.5 L1239.0,575.2 L1241.0,577.9 L1243.0,580.7 L1245.0,583.4 L1246.9,586.2 L1248.8,589.0 L1250.7,591.8 L1252.5,594.6 L1254.3,597.4 L1256.1,600.2 L1257.9,603.1 L1259.6,605.9 L1261.3,608.8 L1263.0,611.7 L1264.6,614.6 L1266.2,617.5 L1267.8,620.4 L1269.3,623.4 L1270.8,626.3 L1272.3,629.3 L1273.8,632.3 L1275.2,635.3 L1276.6,638.3 L1277.9,641.3 L1279.2,644.3 L1280.5,647.3 L1281.8,650.4 L1283.0,653.4 L1284.2,656.5 L1285.4,659.6 L1286.5,662.7 L1287.6,665.8 L1288.6,668.9 L1289.7,672.0 L1290.6,675.1 L1291.6,678.2 L1292.5,681.4 L1293.4,684.5 L1294.3,687.7 L1295.1,690.9 L1295.9,694.0 L1296.6,697.2 L1297.3,700.4 L1298.0,703.6 L1298.7,706.8 L1299.3,710.0 L1299.8,713.2 L1300.4,716.5 L1300.9,719.7 L1301.3,722.9 L1301.8,726.2 L1302.2,729.4 L1302.5,732.7 L1302.8,735.9 L1303.1,739.2 L1303.4,742.5 L1303.6,745.7 L1303.7,749.0 L1303.9,752.3 L1304.0,755.6 L1304.0,758.8 L1304.1,762.1 L1304.0,765.4 L1304.0,768.7 L1303.9,772.0 L1303.8,775.3 L1303.6,778.6 L1303.4,781.9 L1303.2,785.2 L1302.9,788.5 L1302.6,791.8 L1302.2,795.1 L1301.8,798.5 L1301.4,801.8 L1300.9,805.1 L1300.4,808.4 L1299.9,811.7 L1299.3,815.0 L1298.7,818.3 L1298.0,821.6 L1297.3,824.9 L1296.6,828.2 L1295.8,831.5 L1295.0,834.8 L1294.1,838.1 L1293.2,841.3 L1292.3,844.6 L1291.3,847.9 L1290.3,851.2 L1289.2,854.4 L1288.2,857.7 L1287.0,861.0 L1285.9,864.2 L1284.7,867.5 L1283.4,870.7 L1282.1,873.9 L1280.8,877.2 L1279.4,880.4 L1278.0,883.6 L1276.6,886.8 L1275.1,890.0 L1273.6,893.2 L1272.0,896.4 L1270.4,899.6 L1268.8,902.7 L1267.1,905.9 L1265.4,909.1 L1263.7,912.2 L1261.9,915.3 L1260.1,918.4 L1258.2,921.6 L1256.3,924.7 L1254.4,927.7 L1252.4,930.8 L1250.4,933.9 L1248.3,936.9 L1246.2,940.0 L1244.1,943.0 L1241.9,946.0 L1239.7,949.0 L1237.5,952.0 L1235.2,955.0 L1232.9,957.9 L1230.5,960.9 L1228.1,963.8 L1225.7,966.7 L1223.2,969.6 L1220.7,972.5 L1218.2,975.4 L1215.6,978.2 L1213.0,981.1 L1210.4,983.9 L1207.7,986.7 L1205.0,989.5 L1202.2,992.2 L1199.4,995.0 L1196.6,997.7 L1193.8,1000.4 L1190.9,1003.1 L1187.9,1005.8 L1185.0,1008.5 L1182.0,1011.1 L1179.0,1013.7 L1175.9,1016.3 L1172.8,1018.9 L1169.7,1021.4 L1166.5,1024.0 L1163.3,1026.5 L1160.1,1029.0 L1156.9,1031.4 L1153.6,1033.9 L1150.2,1036.3 L1146.9,1038.7 L1143.5,1041.1 L1140.1,1043.4 L1136.7,1045.8 L1133.2,1048.1 L1129.7,1050.3 L1126.1,1052.6 L1122.6,1054.8 L1119.0,1057.0 L1115.4,1059.2 L1111.7,1061.4 L1108.0,1063.5 L1104.3,1065.6 L1100.6,1067.7 L1096.8,1069.8 L1093.1,1071.8 L1089.2,1073.8 L1085.4,1075.8 L1081.5,1077.7 L1077.6,1079.6 L1073.7,1081.5 L1069.8,1083.4 L1065.8,1085.2 L1061.8,1087.0 L1057.8,1088.8 L1053.8,1090.6 L1049.7,1092.3 L1045.6,1094.0 L1041.5,1095.6 L1037.4,1097.3 L1033.3,1098.9 L1029.1,1100.5 L1024.9,1102.0 L1020.7,1103.5 L1016.4,1105.0 L1012.2,1106.4 L1007.9,1107.9 L1003.6,1109.3 L999.3,1110.6 L995.0,1111.9 L990.7,1113.2 L986.3,1114.5 L981.9,1115.7 L977.5,1116.9 L973.1,1118.1 L968.7,1119.2 L964.2,1120.3 L959.8,1121.4 L955.3,1122.5 L950.8,1123.5 L946.3,1124.4 L941.8,1125.4 L937.3,1126.3 L932.8,1127.2 L928.2,1128.0 L923.7,1128.8 L919.1,1129.6 L914.5,1130.3 L909.9,1131.0 L905.3,1131.7 L900.7,1132.3 L896.1,1132.9 L891.5,1133.5 L886.9,1134.0 L882.2,1134.5 L877.6,1135.0 L872.9,1135.4 L868.3,1135.8 L863.6,1136.2 L859.0,1136.5 L854.3,1136.8 L849.6,1137.1 L844.9,1137.3 L840.3,1137.5 L835.6,1137.7 L830.9,1137.8 L826.2,1137.9 L821.5,1137.9 L816.8,1137.9 L812.2,1137.9 L807.5,1137.9 L802.8,1137.8 L798.1,1137.7 L793.4,1137.5 L788.7,1137.3 L784.1,1137.1 L779.4,1136.8 L774.7,1136.5 L770.1,1136.2 L765.4,1135.8 L760.7,1135.4 L756.1,1135.0 L751.4,1134.5 L746.8,1134.0 L742.2,1133.5 L737.6,1132.9 L732.9,1132.3 L728.3,1131.7 L723.7,1131.0 L719.2,1130.3 L714.6,1129.6 L710.0,1128.8 L705.5,1128.0 L700.9,1127.2 L696.4,1126.3 L691.9,1125.4 L687.3,1124.4 L682.8,1123.5 L678.4,1122.5 L673.9,1121.4 L669.4,1120.3 L665.0,1119.2 L660.6,1118.1 L656.2,1116.9 L651.8,1115.7 L647.4,1114.5 L643.0,1113.2 L638.7,1111.9 L634.4,1110.6 L630.0,1109.3 L625.8,1107.9 L621.5,1106.4 L617.2,1105.0 L613.0,1103.5 L608.8,1102.0 L604.6,1100.5 L600.4,1098.9 L596.3,1097.3 L592.2,1095.6 L588.0,1094.0 L584.0,1092.3 L579.9,1090.6 L575.9,1088.8 L571.9,1087.0 L567.9,1085.2 L563.9,1083.4 L560.0,1081.5 L556.0,1079.6 L552.1,1077.7 L548.3,1075.8 L544.4,1073.8 L540.6,1071.8 L536.8,1069.8 L533.1,1067.7 L529.3,1065.6 L525.6,1063.5 L522.0,1061.4 L518.3,1059.2 L514.7,1057.0 L511.1,1054.8 L507.5,1052.6 L504.0,1050.3 L500.5,1048.1 L497.0,1045.8 L493.6,1043.4 L490.2,1041.1 L486.8,1038.7 L483.4,1036.3 L480.1,1033.9 L476.8,1031.4 L473.6,1029.0 L470.4,1026.5 L467.2,1024.0 L464.0,1021.4 L460.9,1018.9 L457.8,1016.3 L454.7,1013.7 L451.7,1011.1 L448.7,1008.5 L445.7,1005.8 L442.8,1003.1 L439.9,1000.4 L437.1,997.7 L434.3,995.0 L431.5,992.2 L428.7,989.5 L426.0,986.7 L423.3,983.9 L420.7,981.1 L418.1,978.2 L415.5,975.4 L413.0,972.5 L410.5,969.6 L408.0,966.7 L405.6,963.8 L403.2,960.9 L400.8,957.9 L398.5,955.0 L396.2,952.0 L394.0,949.0 L391.8,946.0 L389.6,943.0 L387.5,940.0 L385.4,936.9 L383.3,933.9 L381.3,930.8 L379.3,927.7 L377.4,924.7 L375.5,921.6 L373.6,918.4 L371.8,915.3 L370.0,912.2 L368.3,909.1 L366.5,905.9 L364.9,902.7 L363.2,899.6 L361.6,896.4 L360.1,893.2 L358.6,890.0 L357.1,886.8 L355.7,883.6 L354.2,880.4 L352.9,877.2 L351.6,873.9 L350.3,870.7 L349.0,867.5 L347.8,864.2 L346.7,861.0 L345.5,857.7 L344.4,854.4 L343.4,851.2 L342.4,847.9 L341.4,844.6 L340.5,841.3 L339.6,838.1 L338.7,834.8 L337.9,831.5 L337.1,828.2 L336.4,824.9 L335.7,821.6 L335.0,818.3 L334.4,815.0 L333.8,811.7 L333.3,808.4 L332.8,805.1 L332.3,801.8 L331.9,798.5 L331.5,795.1 L331.1,791.8 L330.8,788.5 L330.5,785.2 L330.3,781.9 L330.1,778.6 L329.9,775.3 L329.8,772.0 L329.7,768.7 L329.6,765.4 L329.6,762.1 L329.6,758.8 L329.7,755.6 L329.8,752.3 L329.9,749.0 L330.1,745.7 L330.3,742.5 L330.6,739.2 L330.9,735.9 L331.2,732.7 L331.5,729.4 L331.9,726.2 L332.3,722.9 L332.8,719.7 L333.3,716.5 L333.9,713.2 L334.4,710.0 L335.0,706.8 L335.7,703.6 L336.4,700.4 L337.1,697.2 L337.8,694.0 L338.6,690.9 L339.4,687.7 L340.3,684.5 L341.2,681.4 L342.1,678.2 L343.0,675.1 L344.0,672.0 L345.0,668.9 L346.1,665.8 L347.2,662.7 L348.3,659.6 L349.5,656.5 L350.7,653.4 L351.9,650.4 L353.2,647.3 L354.4,644.3 L355.8,641.3 L357.1,638.3 L358.5,635.3 L359.9,632.3 L361.4,629.3 L362.8,626.3 L364.4,623.4 L365.9,620.4 L367.5,617.5 L369.1,614.6 L370.7,611.7 L372.4,608.8 L374.1,605.9 L375.8,603.1 L377.6,600.2 L379.3,597.4 L381.2,594.6 L383.0,591.8 L384.9,589.0 L386.8,586.2 L388.7,583.4 L390.7,580.7 L392.6,577.9 L394.7,575.2 L396.7,572.5 L398.8,569.8 L400.9,567.1 L403.0,564.5 L405.2,561.8 L407.3,559.2 L409.5,556.6 L411.8,554.0 L414.0,551.4 L416.3,548.8 L418.6,546.3 L421.0,543.8 L423.3,541.3 L425.7,538.8 L428.1,536.3 L430.6,533.8 L433.0,531.4 L435.5,528.9 L438.0,526.5 L440.6,524.1 L443.1,521.8 L445.7,519.4 L448.3,517.1 L450.9,514.7 L453.6,512.4 L456.3,510.1 L458.9,507.9 L461.7,505.6 L464.4,503.4 L467.2,501.2 L470.0,499.0 L472.8,496.8 L475.6,494.7 L478.4,492.5 L481.3,490.4 L484.2,488.3 L487.1,486.2 L490.0,484.2 L493.0,482.1 L496.0,480.1 L498.9,478.1 L502.0,476.1 L505.0,474.2 L508.0,472.2 L511.1,470.3 L514.2,468.4 L517.3,466.5 L520.4,464.7 L523.5,462.8 L526.7,461.0 L529.9,459.2 L533.1,457.5 L536.3,455.7 L539.5,454.0 L542.7,452.2 L546.0,450.6 L549.3,448.9 L552.6,447.2 L555.9,445.6 L559.2,444.0 L562.5,442.4 L565.9,440.8 L569.2,439.3 L572.6,437.8 L576.0,436.3 L579.4,434.8 L582.8,433.3 L586.3,431.9 L589.7,430.5 L593.2,429.1 L596.6,427.7 L600.1,426.4 L603.6,425.1 L607.1,423.8 L610.7,422.5 L614.2,421.2 L617.8,420.0 L621.3,418.8 L624.9,417.6 L628.5,416.4 L632.1,415.3 L635.7,414.1 L639.3,413.0 L642.9,411.9 L646.5,410.9 L650.2,409.9 L653.8,408.8 L657.5,407.9 L661.2,406.9 L664.8,405.9 L668.5,405.0 L672.2,404.1 L675.9,403.2 L679.6,402.4 L683.4,401.6 L687.1,400.8 L690.8,400.0 L694.6,399.2 L698.3,398.5 L702.1,397.8 L705.9,397.1 L709.6,396.4 L713.4,395.8 L717.2,395.1 L721.0,394.5 L724.8,394.0 L728.6,393.4 L732.4,392.9 L736.2,392.4 L740.0,391.9 L743.8,391.5 L747.6,391.0 L751.4,390.6 L755.3,390.2 L759.1,389.9 L762.9,389.5 L766.8,389.2 L770.6,388.9 L774.5,388.6 L778.3,388.4 L782.2,388.2 L786.0,388.0 L789.9,387.8 L793.7,387.6 L797.6,387.5 L801.4,387.4 L805.3,387.3 L809.1,387.3 L813.0,387.2 L816.8,387.2" fill="none" stroke="#129fd6" stroke-width="2" stroke-opacity="0.8"/>
<path d="M816.8,648.5 L1137.5,976.6 L1133.9,978.9 L1130.2,981.2 L1126.4,983.4 L1122.7,985.6 L1118.9,987.8 L1115.1,989.9 L1111.2,992.1 L1107.3,994.2 L1103.4,996.3 L1099.5,998.3 L1095.5,1000.3 L1091.5,1002.3 L1087.5,1004.3 L1083.5,1006.3 L1079.4,1008.2 L1075.3,1010.0 L1071.2,1011.9 L1067.0,1013.7 L1062.9,1015.5 L1058.7,1017.3 L1054.5,1019.0 L1050.2,1020.7 L1045.9,1022.4 L1041.6,1024.1 L1037.3,1025.7 L1033.0,1027.3 L1028.6,1028.8 L1024.3,1030.3 L1019.9,1031.8 L1015.5,1033.3 L1011.0,1034.7 L1006.6,1036.1 L1002.1,1037.5 L997.6,1038.8 L993.1,1040.1 L988.5,1041.4 L984.0,1042.6 L979.4,1043.8 L974.8,1045.0 L970.2,1046.1 L965.6,1047.2 L961.0,1048.3 L956.4,1049.3 L951.7,1050.3 L947.0,1051.3 L942.3,1052.2 L937.6,1053.1 L932.9,1054.0 L928.2,1054.8 L923.5,1055.6 L918.7,1056.4 L914.0,1057.1 L909.2,1057.8 L904.4,1058.5 L899.6,1059.1 L894.9,1059.7 L890.1,1060.2 L885.3,1060.8 L880.4,1061.2 L875.6,1061.7 L870.8,1062.1 L866.0,1062.5 L861.1,1062.8 L856.3,1063.1 L851.4,1063.4 L846.6,1063.6 L841.7,1063.8 L836.9,1064.0 L832.0,1064.1 L827.2,1064.2 L822.3,1064.3 L817.4,1064.3 L812.6,1064.3 L807.7,1064.2 L802.9,1064.2 L798.0,1064.0 Z" fill="#a8409f"/>
<path clip-path="url(#ts4)" d="M816.8,387.2 L820.7,387.2 L824.6,387.3 L828.4,387.3 L832.3,387.4 L836.1,387.5 L840.0,387.6 L843.8,387.8 L847.7,388.0 L851.5,388.2 L855.4,388.4 L859.2,388.6 L863.1,388.9 L866.9,389.2 L870.7,389.5 L874.6,389.9 L878.4,390.2 L882.2,390.6 L886.1,391.0 L889.9,391.5 L893.7,391.9 L897.5,392.4 L901.3,392.9 L905.1,393.4 L908.9,394.0 L912.7,394.5 L916.5,395.1 L920.3,395.8 L924.1,396.4 L927.8,397.1 L931.6,397.8 L935.4,398.5 L939.1,399.2 L942.8,400.0 L946.6,400.8 L950.3,401.6 L954.0,402.4 L957.7,403.2 L961.5,404.1 L965.2,405.0 L968.8,405.9 L972.5,406.9 L976.2,407.9 L979.9,408.8 L983.5,409.9 L987.2,410.9 L990.8,411.9 L994.4,413.0 L998.0,414.1 L1001.6,415.3 L1005.2,416.4 L1008.8,417.6 L1012.4,418.8 L1015.9,420.0 L1019.5,421.2 L1023.0,422.5 L1026.5,423.8 L1030.1,425.1 L1033.6,426.4 L1037.0,427.7 L1040.5,429.1 L1044.0,430.5 L1047.4,431.9 L1050.9,433.3 L1054.3,434.8 L1057.7,436.3 L1061.1,437.8 L1064.5,439.3 L1067.8,440.8 L1071.2,442.4 L1074.5,444.0 L1077.8,445.6 L1081.1,447.2 L1084.4,448.9 L1087.7,450.6 L1091.0,452.2 L1094.2,454.0 L1097.4,455.7 L1100.6,457.5 L1103.8,459.2 L1107.0,461.0 L1110.1,462.8 L1113.3,464.7 L1116.4,466.5 L1119.5,468.4 L1122.6,470.3 L1125.7,472.2 L1128.7,474.2 L1131.7,476.1 L1134.7,478.1 L1137.7,480.1 L1140.7,482.1 L1143.6,484.2 L1146.6,486.2 L1149.5,488.3 L1152.4,490.4 L1155.2,492.5 L1158.1,494.7 L1160.9,496.8 L1163.7,499.0 L1166.5,501.2 L1169.3,503.4 L1172.0,505.6 L1174.7,507.9 L1177.4,510.1 L1180.1,512.4 L1182.8,514.7 L1185.4,517.1 L1188.0,519.4 L1190.6,521.8 L1193.1,524.1 L1195.7,526.5 L1198.2,528.9 L1200.7,531.4 L1203.1,533.8 L1205.6,536.3 L1208.0,538.8 L1210.4,541.3 L1212.7,543.8 L1215.1,546.3 L1217.4,548.8 L1219.7,551.4 L1221.9,554.0 L1224.1,556.6 L1226.4,559.2 L1228.5,561.8 L1230.7,564.5 L1232.8,567.1 L1234.9,569.8 L1237.0,572.5 L1239.0,575.2 L1241.0,577.9 L1243.0,580.7 L1245.0,583.4 L1246.9,586.2 L1248.8,589.0 L1250.7,591.8 L1252.5,594.6 L1254.3,597.4 L1256.1,600.2 L1257.9,603.1 L1259.6,605.9 L1261.3,608.8 L1263.0,611.7 L1264.6,614.6 L1266.2,617.5 L1267.8,620.4 L1269.3,623.4 L1270.8,626.3 L1272.3,629.3 L1273.8,632.3 L1275.2,635.3 L1276.6,638.3 L1277.9,641.3 L1279.2,644.3 L1280.5,647.3 L1281.8,650.4 L1283.0,653.4 L1284.2,656.5 L1285.4,659.6 L1286.5,662.7 L1287.6,665.8 L1288.6,668.9 L1289.7,672.0 L1290.6,675.1 L1291.6,678.2 L1292.5,681.4 L1293.4,684.5 L1294.3,687.7 L1295.1,690.9 L1295.9,694.0 L1296.6,697.2 L1297.3,700.4 L1298.0,703.6 L1298.7,706.8 L1299.3,710.0 L1299.8,713.2 L1300.4,716.5 L1300.9,719.7 L1301.3,722.9 L1301.8,726.2 L1302.2,729.4 L1302.5,732.7 L1302.8,735.9 L1303.1,739.2 L1303.4,742.5 L1303.6,745.7 L1303.7,749.0 L1303.9,752.3 L1304.0,755.6 L1304.0,758.8 L1304.1,762.1 L1304.0,765.4 L1304.0,768.7 L1303.9,772.0 L1303.8,775.3 L1303.6,778.6 L1303.4,781.9 L1303.2,785.2 L1302.9,788.5 L1302.6,791.8 L1302.2,795.1 L1301.8,798.5 L1301.4,801.8 L1300.9,805.1 L1300.4,808.4 L1299.9,811.7 L1299.3,815.0 L1298.7,818.3 L1298.0,821.6 L1297.3,824.9 L1296.6,828.2 L1295.8,831.5 L1295.0,834.8 L1294.1,838.1 L1293.2,841.3 L1292.3,844.6 L1291.3,847.9 L1290.3,851.2 L1289.2,854.4 L1288.2,857.7 L1287.0,861.0 L1285.9,864.2 L1284.7,867.5 L1283.4,870.7 L1282.1,873.9 L1280.8,877.2 L1279.4,880.4 L1278.0,883.6 L1276.6,886.8 L1275.1,890.0 L1273.6,893.2 L1272.0,896.4 L1270.4,899.6 L1268.8,902.7 L1267.1,905.9 L1265.4,909.1 L1263.7,912.2 L1261.9,915.3 L1260.1,918.4 L1258.2,921.6 L1256.3,924.7 L1254.4,927.7 L1252.4,930.8 L1250.4,933.9 L1248.3,936.9 L1246.2,940.0 L1244.1,943.0 L1241.9,946.0 L1239.7,949.0 L1237.5,952.0 L1235.2,955.0 L1232.9,957.9 L1230.5,960.9 L1228.1,963.8 L1225.7,966.7 L1223.2,969.6 L1220.7,972.5 L1218.2,975.4 L1215.6,978.2 L1213.0,981.1 L1210.4,983.9 L1207.7,986.7 L1205.0,989.5 L1202.2,992.2 L1199.4,995.0 L1196.6,997.7 L1193.8,1000.4 L1190.9,1003.1 L1187.9,1005.8 L1185.0,1008.5 L1182.0,1011.1 L1179.0,1013.7 L1175.9,1016.3 L1172.8,1018.9 L1169.7,1021.4 L1166.5,1024.0 L1163.3,1026.5 L1160.1,1029.0 L1156.9,1031.4 L1153.6,1033.9 L1150.2,1036.3 L1146.9,1038.7 L1143.5,1041.1 L1140.1,1043.4 L1136.7,1045.8 L1133.2,1048.1 L1129.7,1050.3 L1126.1,1052.6 L1122.6,1054.8 L1119.0,1057.0 L1115.4,1059.2 L1111.7,1061.4 L1108.0,1063.5 L1104.3,1065.6 L1100.6,1067.7 L1096.8,1069.8 L1093.1,1071.8 L1089.2,1073.8 L1085.4,1075.8 L1081.5,1077.7 L1077.6,1079.6 L1073.7,1081.5 L1069.8,1083.4 L1065.8,1085.2 L1061.8,1087.0 L1057.8,1088.8 L1053.8,1090.6 L1049.7,1092.3 L1045.6,1094.0 L1041.5,1095.6 L1037.4,1097.3 L1033.3,1098.9 L1029.1,1100.5 L1024.9,1102.0 L1020.7,1103.5 L1016.4,1105.0 L1012.2,1106.4 L1007.9,1107.9 L1003.6,1109.3 L999.3,1110.6 L995.0,1111.9 L990.7,1113.2 L986.3,1114.5 L981.9,1115.7 L977.5,1116.9 L973.1,1118.1 L968.7,1119.2 L964.2,1120.3 L959.8,1121.4 L955.3,1122.5 L950.8,1123.5 L946.3,1124.4 L941.8,1125.4 L937.3,1126.3 L932.8,1127.2 L928.2,1128.0 L923.7,1128.8 L919.1,1129.6 L914.5,1130.3 L909.9,1131.0 L905.3,1131.7 L900.7,1132.3 L896.1,1132.9 L891.5,1133.5 L886.9,1134.0 L882.2,1134.5 L877.6,1135.0 L872.9,1135.4 L868.3,1135.8 L863.6,1136.2 L859.0,1136.5 L854.3,1136.8 L849.6,1137.1 L844.9,1137.3 L840.3,1137.5 L835.6,1137.7 L830.9,1137.8 L826.2,1137.9 L821.5,1137.9 L816.8,1137.9 L812.2,1137.9 L807.5,1137.9 L802.8,1137.8 L798.1,1137.7 L793.4,1137.5 L788.7,1137.3 L784.1,1137.1 L779.4,1136.8 L774.7,1136.5 L770.1,1136.2 L765.4,1135.8 L760.7,1135.4 L756.1,1135.0 L751.4,1134.5 L746.8,1134.0 L742.2,1133.5 L737.6,1132.9 L732.9,1132.3 L728.3,1131.7 L723.7,1131.0 L719.2,1130.3 L714.6,1129.6 L710.0,1128.8 L705.5,1128.0 L700.9,1127.2 L696.4,1126.3 L691.9,1125.4 L687.3,1124.4 L682.8,1123.5 L678.4,1122.5 L673.9,1121.4 L669.4,1120.3 L665.0,1119.2 L660.6,1118.1 L656.2,1116.9 L651.8,1115.7 L647.4,1114.5 L643.0,1113.2 L638.7,1111.9 L634.4,1110.6 L630.0,1109.3 L625.8,1107.9 L621.5,1106.4 L617.2,1105.0 L613.0,1103.5 L608.8,1102.0 L604.6,1100.5 L600.4,1098.9 L596.3,1097.3 L592.2,1095.6 L588.0,1094.0 L584.0,1092.3 L579.9,1090.6 L575.9,1088.8 L571.9,1087.0 L567.9,1085.2 L563.9,1083.4 L560.0,1081.5 L556.0,1079.6 L552.1,1077.7 L548.3,1075.8 L544.4,1073.8 L540.6,1071.8 L536.8,1069.8 L533.1,1067.7 L529.3,1065.6 L525.6,1063.5 L522.0,1061.4 L518.3,1059.2 L514.7,1057.0 L511.1,1054.8 L507.5,1052.6 L504.0,1050.3 L500.5,1048.1 L497.0,1045.8 L493.6,1043.4 L490.2,1041.1 L486.8,1038.7 L483.4,1036.3 L480.1,1033.9 L476.8,1031.4 L473.6,1029.0 L470.4,1026.5 L467.2,1024.0 L464.0,1021.4 L460.9,1018.9 L457.8,1016.3 L454.7,1013.7 L451.7,1011.1 L448.7,1008.5 L445.7,1005.8 L442.8,1003.1 L439.9,1000.4 L437.1,997.7 L434.3,995.0 L431.5,992.2 L428.7,989.5 L426.0,986.7 L423.3,983.9 L420.7,981.1 L418.1,978.2 L415.5,975.4 L413.0,972.5 L410.5,969.6 L408.0,966.7 L405.6,963.8 L403.2,960.9 L400.8,957.9 L398.5,955.0 L396.2,952.0 L394.0,949.0 L391.8,946.0 L389.6,943.0 L387.5,940.0 L385.4,936.9 L383.3,933.9 L381.3,930.8 L379.3,927.7 L377.4,924.7 L375.5,921.6 L373.6,918.4 L371.8,915.3 L370.0,912.2 L368.3,909.1 L366.5,905.9 L364.9,902.7 L363.2,899.6 L361.6,896.4 L360.1,893.2 L358.6,890.0 L357.1,886.8 L355.7,883.6 L354.2,880.4 L352.9,877.2 L351.6,873.9 L350.3,870.7 L349.0,867.5 L347.8,864.2 L346.7,861.0 L345.5,857.7 L344.4,854.4 L343.4,851.2 L342.4,847.9 L341.4,844.6 L340.5,841.3 L339.6,838.1 L338.7,834.8 L337.9,831.5 L337.1,828.2 L336.4,824.9 L335.7,821.6 L335.0,818.3 L334.4,815.0 L333.8,811.7 L333.3,808.4 L332.8,805.1 L332.3,801.8 L331.9,798.5 L331.5,795.1 L331.1,791.8 L330.8,788.5 L330.5,785.2 L330.3,781.9 L330.1,778.6 L329.9,775.3 L329.8,772.0 L329.7,768.7 L329.6,765.4 L329.6,762.1 L329.6,758.8 L329.7,755.6 L329.8,752.3 L329.9,749.0 L330.1,745.7 L330.3,742.5 L330.6,739.2 L330.9,735.9 L331.2,732.7 L331.5,729.4 L331.9,726.2 L332.3,722.9 L332.8,719.7 L333.3,716.5 L333.9,713.2 L334.4,710.0 L335.0,706.8 L335.7,703.6 L336.4,700.4 L337.1,697.2 L337.8,694.0 L338.6,690.9 L339.4,687.7 L340.3,684.5 L341.2,681.4 L342.1,678.2 L343.0,675.1 L344.0,672.0 L345.0,668.9 L346.1,665.8 L347.2,662.7 L348.3,659.6 L349.5,656.5 L350.7,653.4 L351.9,650.4 L353.2,647.3 L354.4,644.3 L355.8,641.3 L357.1,638.3 L358.5,635.3 L359.9,632.3 L361.4,629.3 L362.8,626.3 L364.4,623.4 L365.9,620.4 L367.5,617.5 L369.1,614.6 L370.7,611.7 L372.4,608.8 L374.1,605.9 L375.8,603.1 L377.6,600.2 L379.3,597.4 L381.2,594.6 L383.0,591.8 L384.9,589.0 L386.8,586.2 L388.7,583.4 L390.7,580.7 L392.6,577.9 L394.7,575.2 L396.7,572.5 L398.8,569.8 L400.9,567.1 L403.0,564.5 L405.2,561.8 L407.3,559.2 L409.5,556.6 L411.8,554.0 L414.0,551.4 L416.3,548.8 L418.6,546.3 L421.0,543.8 L423.3,541.3 L425.7,538.8 L428.1,536.3 L430.6,533.8 L433.0,531.4 L435.5,528.9 L438.0,526.5 L440.6,524.1 L443.1,521.8 L445.7,519.4 L448.3,517.1 L450.9,514.7 L453.6,512.4 L456.3,510.1 L458.9,507.9 L461.7,505.6 L464.4,503.4 L467.2,501.2 L470.0,499.0 L472.8,496.8 L475.6,494.7 L478.4,492.5 L481.3,490.4 L484.2,488.3 L487.1,486.2 L490.0,484.2 L493.0,482.1 L496.0,480.1 L498.9,478.1 L502.0,476.1 L505.0,474.2 L508.0,472.2 L511.1,470.3 L514.2,468.4 L517.3,466.5 L520.4,464.7 L523.5,462.8 L526.7,461.0 L529.9,459.2 L533.1,457.5 L536.3,455.7 L539.5,454.0 L542.7,452.2 L546.0,450.6 L549.3,448.9 L552.6,447.2 L555.9,445.6 L559.2,444.0 L562.5,442.4 L565.9,440.8 L569.2,439.3 L572.6,437.8 L576.0,436.3 L579.4,434.8 L582.8,433.3 L586.3,431.9 L589.7,430.5 L593.2,429.1 L596.6,427.7 L600.1,426.4 L603.6,425.1 L607.1,423.8 L610.7,422.5 L614.2,421.2 L617.8,420.0 L621.3,418.8 L624.9,417.6 L628.5,416.4 L632.1,415.3 L635.7,414.1 L639.3,413.0 L642.9,411.9 L646.5,410.9 L650.2,409.9 L653.8,408.8 L657.5,407.9 L661.2,406.9 L664.8,405.9 L668.5,405.0 L672.2,404.1 L675.9,403.2 L679.6,402.4 L683.4,401.6 L687.1,400.8 L690.8,400.0 L694.6,399.2 L698.3,398.5 L702.1,397.8 L705.9,397.1 L709.6,396.4 L713.4,395.8 L717.2,395.1 L721.0,394.5 L724.8,394.0 L728.6,393.4 L732.4,392.9 L736.2,392.4 L740.0,391.9 L743.8,391.5 L747.6,391.0 L751.4,390.6 L755.3,390.2 L759.1,389.9 L762.9,389.5 L766.8,389.2 L770.6,388.9 L774.5,388.6 L778.3,388.4 L782.2,388.2 L786.0,388.0 L789.9,387.8 L793.7,387.6 L797.6,387.5 L801.4,387.4 L805.3,387.3 L809.1,387.3 L813.0,387.2 L816.8,387.2" fill="none" stroke="#a0309a" stroke-width="2" stroke-opacity="0.8"/>
<path d="M816.8,648.5 L798.0,1064.0 L793.2,1063.9 L788.3,1063.7 L783.5,1063.5 L778.7,1063.2 L773.8,1062.9 L769.0,1062.6 L764.2,1062.2 L759.4,1061.8 L754.6,1061.4 L749.8,1060.9 L745.0,1060.4 L740.2,1059.9 L735.5,1059.3 L730.7,1058.7 L725.9,1058.0 L721.2,1057.3 L716.4,1056.6 L711.7,1055.9 L707.0,1055.1 L702.3,1054.3 L697.6,1053.4 L692.9,1052.5 L688.2,1051.6 L683.6,1050.7 L678.9,1049.7 L674.3,1048.7 L669.7,1047.6 L665.1,1046.5 L660.5,1045.4 L655.9,1044.3 L651.4,1043.1 L646.8,1041.8 L642.3,1040.6 L637.8,1039.3 L633.3,1038.0 L628.9,1036.7 L624.4,1035.3 L620.0,1033.9 L615.6,1032.4 L611.2,1030.9 L606.8,1029.4 L602.5,1027.9 L598.1,1026.3 L593.8,1024.7 L589.6,1023.1 L585.3,1021.5 L581.1,1019.8 L576.8,1018.1 L572.7,1016.3 L568.5,1014.5 L564.3,1012.7 L560.2,1010.9 L556.1,1009.0 L552.1,1007.1 L548.0,1005.2 L544.0,1003.3 L540.0,1001.3 L536.1,999.3 L532.1,997.3 L528.2,995.2 L524.4,993.1 L520.5,991.0 L516.7,988.9 L512.9,986.7 L509.1,984.5 L505.4,982.3 L501.7,980.0 L498.0,977.8 L494.4,975.5 L490.8,973.2 L487.2,970.8 L483.7,968.5 L480.1,966.1 L476.7,963.7 L473.2,961.2 L469.8,958.8 L466.4,956.3 L463.1,953.8 L459.7,951.3 L456.5,948.7 Z" fill="#61ae44"/>
<path clip-path="url(#ts5)" d="M816.8,387.2 L820.7,387.2 L824.6,387.3 L828.4,387.3 L832.3,387.4 L836.1,387.5 L840.0,387.6 L843.8,387.8 L847.7,388.0 L851.5,388.2 L855.4,388.4 L859.2,388.6 L863.1,388.9 L866.9,389.2 L870.7,389.5 L874.6,389.9 L878.4,390.2 L882.2,390.6 L886.1,391.0 L889.9,391.5 L893.7,391.9 L897.5,392.4 L901.3,392.9 L905.1,393.4 L908.9,394.0 L912.7,394.5 L916.5,395.1 L920.3,395.8 L924.1,396.4 L927.8,397.1 L931.6,397.8 L935.4,398.5 L939.1,399.2 L942.8,400.0 L946.6,400.8 L950.3,401.6 L954.0,402.4 L957.7,403.2 L961.5,404.1 L965.2,405.0 L968.8,405.9 L972.5,406.9 L976.2,407.9 L979.9,408.8 L983.5,409.9 L987.2,410.9 L990.8,411.9 L994.4,413.0 L998.0,414.1 L1001.6,415.3 L1005.2,416.4 L1008.8,417.6 L1012.4,418.8 L1015.9,420.0 L1019.5,421.2 L1023.0,422.5 L1026.5,423.8 L1030.1,425.1 L1033.6,426.4 L1037.0,427.7 L1040.5,429.1 L1044.0,430.5 L1047.4,431.9 L1050.9,433.3 L1054.3,434.8 L1057.7,436.3 L1061.1,437.8 L1064.5,439.3 L1067.8,440.8 L1071.2,442.4 L1074.5,444.0 L1077.8,445.6 L1081.1,447.2 L1084.4,448.9 L1087.7,450.6 L1091.0,452.2 L1094.2,454.0 L1097.4,455.7 L1100.6,457.5 L1103.8,459.2 L1107.0,461.0 L1110.1,462.8 L1113.3,464.7 L1116.4,466.5 L1119.5,468.4 L1122.6,470.3 L1125.7,472.2 L1128.7,474.2 L1131.7,476.1 L1134.7,478.1 L1137.7,480.1 L1140.7,482.1 L1143.6,484.2 L1146.6,486.2 L1149.5,488.3 L1152.4,490.4 L1155.2,492.5 L1158.1,494.7 L1160.9,496.8 L1163.7,499.0 L1166.5,501.2 L1169.3,503.4 L1172.0,505.6 L1174.7,507.9 L1177.4,510.1 L1180.1,512.4 L1182.8,514.7 L1185.4,517.1 L1188.0,519.4 L1190.6,521.8 L1193.1,524.1 L1195.7,526.5 L1198.2,528.9 L1200.7,531.4 L1203.1,533.8 L1205.6,536.3 L1208.0,538.8 L1210.4,541.3 L1212.7,543.8 L1215.1,546.3 L1217.4,548.8 L1219.7,551.4 L1221.9,554.0 L1224.1,556.6 L1226.4,559.2 L1228.5,561.8 L1230.7,564.5 L1232.8,567.1 L1234.9,569.8 L1237.0,572.5 L1239.0,575.2 L1241.0,577.9 L1243.0,580.7 L1245.0,583.4 L1246.9,586.2 L1248.8,589.0 L1250.7,591.8 L1252.5,594.6 L1254.3,597.4 L1256.1,600.2 L1257.9,603.1 L1259.6,605.9 L1261.3,608.8 L1263.0,611.7 L1264.6,614.6 L1266.2,617.5 L1267.8,620.4 L1269.3,623.4 L1270.8,626.3 L1272.3,629.3 L1273.8,632.3 L1275.2,635.3 L1276.6,638.3 L1277.9,641.3 L1279.2,644.3 L1280.5,647.3 L1281.8,650.4 L1283.0,653.4 L1284.2,656.5 L1285.4,659.6 L1286.5,662.7 L1287.6,665.8 L1288.6,668.9 L1289.7,672.0 L1290.6,675.1 L1291.6,678.2 L1292.5,681.4 L1293.4,684.5 L1294.3,687.7 L1295.1,690.9 L1295.9,694.0 L1296.6,697.2 L1297.3,700.4 L1298.0,703.6 L1298.7,706.8 L1299.3,710.0 L1299.8,713.2 L1300.4,716.5 L1300.9,719.7 L1301.3,722.9 L1301.8,726.2 L1302.2,729.4 L1302.5,732.7 L1302.8,735.9 L1303.1,739.2 L1303.4,742.5 L1303.6,745.7 L1303.7,749.0 L1303.9,752.3 L1304.0,755.6 L1304.0,758.8 L1304.1,762.1 L1304.0,765.4 L1304.0,768.7 L1303.9,772.0 L1303.8,775.3 L1303.6,778.6 L1303.4,781.9 L1303.2,785.2 L1302.9,788.5 L1302.6,791.8 L1302.2,795.1 L1301.8,798.5 L1301.4,801.8 L1300.9,805.1 L1300.4,808.4 L1299.9,811.7 L1299.3,815.0 L1298.7,818.3 L1298.0,821.6 L1297.3,824.9 L1296.6,828.2 L1295.8,831.5 L1295.0,834.8 L1294.1,838.1 L1293.2,841.3 L1292.3,844.6 L1291.3,847.9 L1290.3,851.2 L1289.2,854.4 L1288.2,857.7 L1287.0,861.0 L1285.9,864.2 L1284.7,867.5 L1283.4,870.7 L1282.1,873.9 L1280.8,877.2 L1279.4,880.4 L1278.0,883.6 L1276.6,886.8 L1275.1,890.0 L1273.6,893.2 L1272.0,896.4 L1270.4,899.6 L1268.8,902.7 L1267.1,905.9 L1265.4,909.1 L1263.7,912.2 L1261.9,915.3 L1260.1,918.4 L1258.2,921.6 L1256.3,924.7 L1254.4,927.7 L1252.4,930.8 L1250.4,933.9 L1248.3,936.9 L1246.2,940.0 L1244.1,943.0 L1241.9,946.0 L1239.7,949.0 L1237.5,952.0 L1235.2,955.0 L1232.9,957.9 L1230.5,960.9 L1228.1,963.8 L1225.7,966.7 L1223.2,969.6 L1220.7,972.5 L1218.2,975.4 L1215.6,978.2 L1213.0,981.1 L1210.4,983.9 L1207.7,986.7 L1205.0,989.5 L1202.2,992.2 L1199.4,995.0 L1196.6,997.7 L1193.8,1000.4 L1190.9,1003.1 L1187.9,1005.8 L1185.0,1008.5 L1182.0,1011.1 L1179.0,1013.7 L1175.9,1016.3 L1172.8,1018.9 L1169.7,1021.4 L1166.5,1024.0 L1163.3,1026.5 L1160.1,1029.0 L1156.9,1031.4 L1153.6,1033.9 L1150.2,1036.3 L1146.9,1038.7 L1143.5,1041.1 L1140.1,1043.4 L1136.7,1045.8 L1133.2,1048.1 L1129.7,1050.3 L1126.1,1052.6 L1122.6,1054.8 L1119.0,1057.0 L1115.4,1059.2 L1111.7,1061.4 L1108.0,1063.5 L1104.3,1065.6 L1100.6,1067.7 L1096.8,1069.8 L1093.1,1071.8 L1089.2,1073.8 L1085.4,1075.8 L1081.5,1077.7 L1077.6,1079.6 L1073.7,1081.5 L1069.8,1083.4 L1065.8,1085.2 L1061.8,1087.0 L1057.8,1088.8 L1053.8,1090.6 L1049.7,1092.3 L1045.6,1094.0 L1041.5,1095.6 L1037.4,1097.3 L1033.3,1098.9 L1029.1,1100.5 L1024.9,1102.0 L1020.7,1103.5 L1016.4,1105.0 L1012.2,1106.4 L1007.9,1107.9 L1003.6,1109.3 L999.3,1110.6 L995.0,1111.9 L990.7,1113.2 L986.3,1114.5 L981.9,1115.7 L977.5,1116.9 L973.1,1118.1 L968.7,1119.2 L964.2,1120.3 L959.8,1121.4 L955.3,1122.5 L950.8,1123.5 L946.3,1124.4 L941.8,1125.4 L937.3,1126.3 L932.8,1127.2 L928.2,1128.0 L923.7,1128.8 L919.1,1129.6 L914.5,1130.3 L909.9,1131.0 L905.3,1131.7 L900.7,1132.3 L896.1,1132.9 L891.5,1133.5 L886.9,1134.0 L882.2,1134.5 L877.6,1135.0 L872.9,1135.4 L868.3,1135.8 L863.6,1136.2 L859.0,1136.5 L854.3,1136.8 L849.6,1137.1 L844.9,1137.3 L840.3,1137.5 L835.6,1137.7 L830.9,1137.8 L826.2,1137.9 L821.5,1137.9 L816.8,1137.9 L812.2,1137.9 L807.5,1137.9 L802.8,1137.8 L798.1,1137.7 L793.4,1137.5 L788.7,1137.3 L784.1,1137.1 L779.4,1136.8 L774.7,1136.5 L770.1,1136.2 L765.4,1135.8 L760.7,1135.4 L756.1,1135.0 L751.4,1134.5 L746.8,1134.0 L742.2,1133.5 L737.6,1132.9 L732.9,1132.3 L728.3,1131.7 L723.7,1131.0 L719.2,1130.3 L714.6,1129.6 L710.0,1128.8 L705.5,1128.0 L700.9,1127.2 L696.4,1126.3 L691.9,1125.4 L687.3,1124.4 L682.8,1123.5 L678.4,1122.5 L673.9,1121.4 L669.4,1120.3 L665.0,1119.2 L660.6,1118.1 L656.2,1116.9 L651.8,1115.7 L647.4,1114.5 L643.0,1113.2 L638.7,1111.9 L634.4,1110.6 L630.0,1109.3 L625.8,1107.9 L621.5,1106.4 L617.2,1105.0 L613.0,1103.5 L608.8,1102.0 L604.6,1100.5 L600.4,1098.9 L596.3,1097.3 L592.2,1095.6 L588.0,1094.0 L584.0,1092.3 L579.9,1090.6 L575.9,1088.8 L571.9,1087.0 L567.9,1085.2 L563.9,1083.4 L560.0,1081.5 L556.0,1079.6 L552.1,1077.7 L548.3,1075.8 L544.4,1073.8 L540.6,1071.8 L536.8,1069.8 L533.1,1067.7 L529.3,1065.6 L525.6,1063.5 L522.0,1061.4 L518.3,1059.2 L514.7,1057.0 L511.1,1054.8 L507.5,1052.6 L504.0,1050.3 L500.5,1048.1 L497.0,1045.8 L493.6,1043.4 L490.2,1041.1 L486.8,1038.7 L483.4,1036.3 L480.1,1033.9 L476.8,1031.4 L473.6,1029.0 L470.4,1026.5 L467.2,1024.0 L464.0,1021.4 L460.9,1018.9 L457.8,1016.3 L454.7,1013.7 L451.7,1011.1 L448.7,1008.5 L445.7,1005.8 L442.8,1003.1 L439.9,1000.4 L437.1,997.7 L434.3,995.0 L431.5,992.2 L428.7,989.5 L426.0,986.7 L423.3,983.9 L420.7,981.1 L418.1,978.2 L415.5,975.4 L413.0,972.5 L410.5,969.6 L408.0,966.7 L405.6,963.8 L403.2,960.9 L400.8,957.9 L398.5,955.0 L396.2,952.0 L394.0,949.0 L391.8,946.0 L389.6,943.0 L387.5,940.0 L385.4,936.9 L383.3,933.9 L381.3,930.8 L379.3,927.7 L377.4,924.7 L375.5,921.6 L373.6,918.4 L371.8,915.3 L370.0,912.2 L368.3,909.1 L366.5,905.9 L364.9,902.7 L363.2,899.6 L361.6,896.4 L360.1,893.2 L358.6,890.0 L357.1,886.8 L355.7,883.6 L354.2,880.4 L352.9,877.2 L351.6,873.9 L350.3,870.7 L349.0,867.5 L347.8,864.2 L346.7,861.0 L345.5,857.7 L344.4,854.4 L343.4,851.2 L342.4,847.9 L341.4,844.6 L340.5,841.3 L339.6,838.1 L338.7,834.8 L337.9,831.5 L337.1,828.2 L336.4,824.9 L335.7,821.6 L335.0,818.3 L334.4,815.0 L333.8,811.7 L333.3,808.4 L332.8,805.1 L332.3,801.8 L331.9,798.5 L331.5,795.1 L331.1,791.8 L330.8,788.5 L330.5,785.2 L330.3,781.9 L330.1,778.6 L329.9,775.3 L329.8,772.0 L329.7,768.7 L329.6,765.4 L329.6,762.1 L329.6,758.8 L329.7,755.6 L329.8,752.3 L329.9,749.0 L330.1,745.7 L330.3,742.5 L330.6,739.2 L330.9,735.9 L331.2,732.7 L331.5,729.4 L331.9,726.2 L332.3,722.9 L332.8,719.7 L333.3,716.5 L333.9,713.2 L334.4,710.0 L335.0,706.8 L335.7,703.6 L336.4,700.4 L337.1,697.2 L337.8,694.0 L338.6,690.9 L339.4,687.7 L340.3,684.5 L341.2,681.4 L342.1,678.2 L343.0,675.1 L344.0,672.0 L345.0,668.9 L346.1,665.8 L347.2,662.7 L348.3,659.6 L349.5,656.5 L350.7,653.4 L351.9,650.4 L353.2,647.3 L354.4,644.3 L355.8,641.3 L357.1,638.3 L358.5,635.3 L359.9,632.3 L361.4,629.3 L362.8,626.3 L364.4,623.4 L365.9,620.4 L367.5,617.5 L369.1,614.6 L370.7,611.7 L372.4,608.8 L374.1,605.9 L375.8,603.1 L377.6,600.2 L379.3,597.4 L381.2,594.6 L383.0,591.8 L384.9,589.0 L386.8,586.2 L388.7,583.4 L390.7,580.7 L392.6,577.9 L394.7,575.2 L396.7,572.5 L398.8,569.8 L400.9,567.1 L403.0,564.5 L405.2,561.8 L407.3,559.2 L409.5,556.6 L411.8,554.0 L414.0,551.4 L416.3,548.8 L418.6,546.3 L421.0,543.8 L423.3,541.3 L425.7,538.8 L428.1,536.3 L430.6,533.8 L433.0,531.4 L435.5,528.9 L438.0,526.5 L440.6,524.1 L443.1,521.8 L445.7,519.4 L448.3,517.1 L450.9,514.7 L453.6,512.4 L456.3,510.1 L458.9,507.9 L461.7,505.6 L464.4,503.4 L467.2,501.2 L470.0,499.0 L472.8,496.8 L475.6,494.7 L478.4,492.5 L481.3,490.4 L484.2,488.3 L487.1,486.2 L490.0,484.2 L493.0,482.1 L496.0,480.1 L498.9,478.1 L502.0,476.1 L505.0,474.2 L508.0,472.2 L511.1,470.3 L514.2,468.4 L517.3,466.5 L520.4,464.7 L523.5,462.8 L526.7,461.0 L529.9,459.2 L533.1,457.5 L536.3,455.7 L539.5,454.0 L542.7,452.2 L546.0,450.6 L549.3,448.9 L552.6,447.2 L555.9,445.6 L559.2,444.0 L562.5,442.4 L565.9,440.8 L569.2,439.3 L572.6,437.8 L576.0,436.3 L579.4,434.8 L582.8,433.3 L586.3,431.9 L589.7,430.5 L593.2,429.1 L596.6,427.7 L600.1,426.4 L603.6,425.1 L607.1,423.8 L610.7,422.5 L614.2,421.2 L617.8,420.0 L621.3,418.8 L624.9,417.6 L628.5,416.4 L632.1,415.3 L635.7,414.1 L639.3,413.0 L642.9,411.9 L646.5,410.9 L650.2,409.9 L653.8,408.8 L657.5,407.9 L661.2,406.9 L664.8,405.9 L668.5,405.0 L672.2,404.1 L675.9,403.2 L679.6,402.4 L683.4,401.6 L687.1,400.8 L690.8,400.0 L694.6,399.2 L698.3,398.5 L702.1,397.8 L705.9,397.1 L709.6,396.4 L713.4,395.8 L717.2,395.1 L721.0,394.5 L724.8,394.0 L728.6,393.4 L732.4,392.9 L736.2,392.4 L740.0,391.9 L743.8,391.5 L747.6,391.0 L751.4,390.6 L755.3,390.2 L759.1,389.9 L762.9,389.5 L766.8,389.2 L770.6,388.9 L774.5,388.6 L778.3,388.4 L782.2,388.2 L786.0,388.0 L789.9,387.8 L793.7,387.6 L797.6,387.5 L801.4,387.4 L805.3,387.3 L809.1,387.3 L813.0,387.2 L816.8,387.2" fill="none" stroke="#4aa42e" stroke-width="2" stroke-opacity="0.8"/>
<path d="M816.8,648.5 L456.5,948.7 L453.2,946.1 L450.0,943.6 L446.8,940.9 L443.6,938.3 L440.5,935.6 L437.4,933.0 L434.4,930.3 L431.4,927.5 L428.4,924.8 L425.4,922.0 L422.5,919.3 L419.7,916.5 L416.8,913.7 L414.0,910.8 L411.3,908.0 L408.5,905.1 L405.9,902.2 L403.2,899.3 L400.6,896.4 L398.0,893.5 L395.5,890.5 L393.0,887.6 L390.6,884.6 L388.1,881.6 L385.8,878.6 L383.4,875.6 L381.1,872.5 L378.9,869.5 L376.6,866.4 L374.4,863.4 L372.3,860.3 L370.2,857.2 L368.1,854.1 L366.1,850.9 L364.1,847.8 L362.2,844.6 L360.3,841.5 L358.4,838.3 L356.6,835.1 L354.8,832.0 L353.0,828.8 L351.3,825.6 L349.7,822.3 L348.0,819.1 L346.5,815.9 L344.9,812.6 L343.4,809.4 L341.9,806.1 L340.5,802.9 L339.1,799.6 L337.8,796.3 L336.5,793.0 L335.2,789.7 L334.0,786.4 L332.8,783.1 L331.7,779.8 L330.6,776.5 L329.5,773.2 L328.5,769.9 L327.5,766.6 L326.6,763.2 L325.7,759.9 L324.8,756.6 L324.0,753.2 L323.2,749.9 L322.5,746.6 L321.8,743.2 L321.2,739.9 L320.5,736.5 L320.0,733.2 L319.4,729.8 L318.9,726.5 L318.5,723.1 Z" fill="#234b5f"/>
<path clip-path="url(#ts6)" d="M816.8,387.2 L820.7,387.2 L824.6,387.3 L828.4,387.3 L832.3,387.4 L836.1,387.5 L840.0,387.6 L843.8,387.8 L847.7,388.0 L851.5,388.2 L855.4,388.4 L859.2,388.6 L863.1,388.9 L866.9,389.2 L870.7,389.5 L874.6,389.9 L878.4,390.2 L882.2,390.6 L886.1,391.0 L889.9,391.5 L893.7,391.9 L897.5,392.4 L901.3,392.9 L905.1,393.4 L908.9,394.0 L912.7,394.5 L916.5,395.1 L920.3,395.8 L924.1,396.4 L927.8,397.1 L931.6,397.8 L935.4,398.5 L939.1,399.2 L942.8,400.0 L946.6,400.8 L950.3,401.6 L954.0,402.4 L957.7,403.2 L961.5,404.1 L965.2,405.0 L968.8,405.9 L972.5,406.9 L976.2,407.9 L979.9,408.8 L983.5,409.9 L987.2,410.9 L990.8,411.9 L994.4,413.0 L998.0,414.1 L1001.6,415.3 L1005.2,416.4 L1008.8,417.6 L1012.4,418.8 L1015.9,420.0 L1019.5,421.2 L1023.0,422.5 L1026.5,423.8 L1030.1,425.1 L1033.6,426.4 L1037.0,427.7 L1040.5,429.1 L1044.0,430.5 L1047.4,431.9 L1050.9,433.3 L1054.3,434.8 L1057.7,436.3 L1061.1,437.8 L1064.5,439.3 L1067.8,440.8 L1071.2,442.4 L1074.5,444.0 L1077.8,445.6 L1081.1,447.2 L1084.4,448.9 L1087.7,450.6 L1091.0,452.2 L1094.2,454.0 L1097.4,455.7 L1100.6,457.5 L1103.8,459.2 L1107.0,461.0 L1110.1,462.8 L1113.3,464.7 L1116.4,466.5 L1119.5,468.4 L1122.6,470.3 L1125.7,472.2 L1128.7,474.2 L1131.7,476.1 L1134.7,478.1 L1137.7,480.1 L1140.7,482.1 L1143.6,484.2 L1146.6,486.2 L1149.5,488.3 L1152.4,490.4 L1155.2,492.5 L1158.1,494.7 L1160.9,496.8 L1163.7,499.0 L1166.5,501.2 L1169.3,503.4 L1172.0,505.6 L1174.7,507.9 L1177.4,510.1 L1180.1,512.4 L1182.8,514.7 L1185.4,517.1 L1188.0,519.4 L1190.6,521.8 L1193.1,524.1 L1195.7,526.5 L1198.2,528.9 L1200.7,531.4 L1203.1,533.8 L1205.6,536.3 L1208.0,538.8 L1210.4,541.3 L1212.7,543.8 L1215.1,546.3 L1217.4,548.8 L1219.7,551.4 L1221.9,554.0 L1224.1,556.6 L1226.4,559.2 L1228.5,561.8 L1230.7,564.5 L1232.8,567.1 L1234.9,569.8 L1237.0,572.5 L1239.0,575.2 L1241.0,577.9 L1243.0,580.7 L1245.0,583.4 L1246.9,586.2 L1248.8,589.0 L1250.7,591.8 L1252.5,594.6 L1254.3,597.4 L1256.1,600.2 L1257.9,603.1 L1259.6,605.9 L1261.3,608.8 L1263.0,611.7 L1264.6,614.6 L1266.2,617.5 L1267.8,620.4 L1269.3,623.4 L1270.8,626.3 L1272.3,629.3 L1273.8,632.3 L1275.2,635.3 L1276.6,638.3 L1277.9,641.3 L1279.2,644.3 L1280.5,647.3 L1281.8,650.4 L1283.0,653.4 L1284.2,656.5 L1285.4,659.6 L1286.5,662.7 L1287.6,665.8 L1288.6,668.9 L1289.7,672.0 L1290.6,675.1 L1291.6,678.2 L1292.5,681.4 L1293.4,684.5 L1294.3,687.7 L1295.1,690.9 L1295.9,694.0 L1296.6,697.2 L1297.3,700.4 L1298.0,703.6 L1298.7,706.8 L1299.3,710.0 L1299.8,713.2 L1300.4,716.5 L1300.9,719.7 L1301.3,722.9 L1301.8,726.2 L1302.2,729.4 L1302.5,732.7 L1302.8,735.9 L1303.1,739.2 L1303.4,742.5 L1303.6,745.7 L1303.7,749.0 L1303.9,752.3 L1304.0,755.6 L1304.0,758.8 L1304.1,762.1 L1304.0,765.4 L1304.0,768.7 L1303.9,772.0 L1303.8,775.3 L1303.6,778.6 L1303.4,781.9 L1303.2,785.2 L1302.9,788.5 L1302.6,791.8 L1302.2,795.1 L1301.8,798.5 L1301.4,801.8 L1300.9,805.1 L1300.4,808.4 L1299.9,811.7 L1299.3,815.0 L1298.7,818.3 L1298.0,821.6 L1297.3,824.9 L1296.6,828.2 L1295.8,831.5 L1295.0,834.8 L1294.1,838.1 L1293.2,841.3 L1292.3,844.6 L1291.3,847.9 L1290.3,851.2 L1289.2,854.4 L1288.2,857.7 L1287.0,861.0 L1285.9,864.2 L1284.7,867.5 L1283.4,870.7 L1282.1,873.9 L1280.8,877.2 L1279.4,880.4 L1278.0,883.6 L1276.6,886.8 L1275.1,890.0 L1273.6,893.2 L1272.0,896.4 L1270.4,899.6 L1268.8,902.7 L1267.1,905.9 L1265.4,909.1 L1263.7,912.2 L1261.9,915.3 L1260.1,918.4 L1258.2,921.6 L1256.3,924.7 L1254.4,927.7 L1252.4,930.8 L1250.4,933.9 L1248.3,936.9 L1246.2,940.0 L1244.1,943.0 L1241.9,946.0 L1239.7,949.0 L1237.5,952.0 L1235.2,955.0 L1232.9,957.9 L1230.5,960.9 L1228.1,963.8 L1225.7,966.7 L1223.2,969.6 L1220.7,972.5 L1218.2,975.4 L1215.6,978.2 L1213.0,981.1 L1210.4,983.9 L1207.7,986.7 L1205.0,989.5 L1202.2,992.2 L1199.4,995.0 L1196.6,997.7 L1193.8,1000.4 L1190.9,1003.1 L1187.9,1005.8 L1185.0,1008.5 L1182.0,1011.1 L1179.0,1013.7 L1175.9,1016.3 L1172.8,1018.9 L1169.7,1021.4 L1166.5,1024.0 L1163.3,1026.5 L1160.1,1029.0 L1156.9,1031.4 L1153.6,1033.9 L1150.2,1036.3 L1146.9,1038.7 L1143.5,1041.1 L1140.1,1043.4 L1136.7,1045.8 L1133.2,1048.1 L1129.7,1050.3 L1126.1,1052.6 L1122.6,1054.8 L1119.0,1057.0 L1115.4,1059.2 L1111.7,1061.4 L1108.0,1063.5 L1104.3,1065.6 L1100.6,1067.7 L1096.8,1069.8 L1093.1,1071.8 L1089.2,1073.8 L1085.4,1075.8 L1081.5,1077.7 L1077.6,1079.6 L1073.7,1081.5 L1069.8,1083.4 L1065.8,1085.2 L1061.8,1087.0 L1057.8,1088.8 L1053.8,1090.6 L1049.7,1092.3 L1045.6,1094.0 L1041.5,1095.6 L1037.4,1097.3 L1033.3,1098.9 L1029.1,1100.5 L1024.9,1102.0 L1020.7,1103.5 L1016.4,1105.0 L1012.2,1106.4 L1007.9,1107.9 L1003.6,1109.3 L999.3,1110.6 L995.0,1111.9 L990.7,1113.2 L986.3,1114.5 L981.9,1115.7 L977.5,1116.9 L973.1,1118.1 L968.7,1119.2 L964.2,1120.3 L959.8,1121.4 L955.3,1122.5 L950.8,1123.5 L946.3,1124.4 L941.8,1125.4 L937.3,1126.3 L932.8,1127.2 L928.2,1128.0 L923.7,1128.8 L919.1,1129.6 L914.5,1130.3 L909.9,1131.0 L905.3,1131.7 L900.7,1132.3 L896.1,1132.9 L891.5,1133.5 L886.9,1134.0 L882.2,1134.5 L877.6,1135.0 L872.9,1135.4 L868.3,1135.8 L863.6,1136.2 L859.0,1136.5 L854.3,1136.8 L849.6,1137.1 L844.9,1137.3 L840.3,1137.5 L835.6,1137.7 L830.9,1137.8 L826.2,1137.9 L821.5,1137.9 L816.8,1137.9 L812.2,1137.9 L807.5,1137.9 L802.8,1137.8 L798.1,1137.7 L793.4,1137.5 L788.7,1137.3 L784.1,1137.1 L779.4,1136.8 L774.7,1136.5 L770.1,1136.2 L765.4,1135.8 L760.7,1135.4 L756.1,1135.0 L751.4,1134.5 L746.8,1134.0 L742.2,1133.5 L737.6,1132.9 L732.9,1132.3 L728.3,1131.7 L723.7,1131.0 L719.2,1130.3 L714.6,1129.6 L710.0,1128.8 L705.5,1128.0 L700.9,1127.2 L696.4,1126.3 L691.9,1125.4 L687.3,1124.4 L682.8,1123.5 L678.4,1122.5 L673.9,1121.4 L669.4,1120.3 L665.0,1119.2 L660.6,1118.1 L656.2,1116.9 L651.8,1115.7 L647.4,1114.5 L643.0,1113.2 L638.7,1111.9 L634.4,1110.6 L630.0,1109.3 L625.8,1107.9 L621.5,1106.4 L617.2,1105.0 L613.0,1103.5 L608.8,1102.0 L604.6,1100.5 L600.4,1098.9 L596.3,1097.3 L592.2,1095.6 L588.0,1094.0 L584.0,1092.3 L579.9,1090.6 L575.9,1088.8 L571.9,1087.0 L567.9,1085.2 L563.9,1083.4 L560.0,1081.5 L556.0,1079.6 L552.1,1077.7 L548.3,1075.8 L544.4,1073.8 L540.6,1071.8 L536.8,1069.8 L533.1,1067.7 L529.3,1065.6 L525.6,1063.5 L522.0,1061.4 L518.3,1059.2 L514.7,1057.0 L511.1,1054.8 L507.5,1052.6 L504.0,1050.3 L500.5,1048.1 L497.0,1045.8 L493.6,1043.4 L490.2,1041.1 L486.8,1038.7 L483.4,1036.3 L480.1,1033.9 L476.8,1031.4 L473.6,1029.0 L470.4,1026.5 L467.2,1024.0 L464.0,1021.4 L460.9,1018.9 L457.8,1016.3 L454.7,1013.7 L451.7,1011.1 L448.7,1008.5 L445.7,1005.8 L442.8,1003.1 L439.9,1000.4 L437.1,997.7 L434.3,995.0 L431.5,992.2 L428.7,989.5 L426.0,986.7 L423.3,983.9 L420.7,981.1 L418.1,978.2 L415.5,975.4 L413.0,972.5 L410.5,969.6 L408.0,966.7 L405.6,963.8 L403.2,960.9 L400.8,957.9 L398.5,955.0 L396.2,952.0 L394.0,949.0 L391.8,946.0 L389.6,943.0 L387.5,940.0 L385.4,936.9 L383.3,933.9 L381.3,930.8 L379.3,927.7 L377.4,924.7 L375.5,921.6 L373.6,918.4 L371.8,915.3 L370.0,912.2 L368.3,909.1 L366.5,905.9 L364.9,902.7 L363.2,899.6 L361.6,896.4 L360.1,893.2 L358.6,890.0 L357.1,886.8 L355.7,883.6 L354.2,880.4 L352.9,877.2 L351.6,873.9 L350.3,870.7 L349.0,867.5 L347.8,864.2 L346.7,861.0 L345.5,857.7 L344.4,854.4 L343.4,851.2 L342.4,847.9 L341.4,844.6 L340.5,841.3 L339.6,838.1 L338.7,834.8 L337.9,831.5 L337.1,828.2 L336.4,824.9 L335.7,821.6 L335.0,818.3 L334.4,815.0 L333.8,811.7 L333.3,808.4 L332.8,805.1 L332.3,801.8 L331.9,798.5 L331.5,795.1 L331.1,791.8 L330.8,788.5 L330.5,785.2 L330.3,781.9 L330.1,778.6 L329.9,775.3 L329.8,772.0 L329.7,768.7 L329.6,765.4 L329.6,762.1 L329.6,758.8 L329.7,755.6 L329.8,752.3 L329.9,749.0 L330.1,745.7 L330.3,742.5 L330.6,739.2 L330.9,735.9 L331.2,732.7 L331.5,729.4 L331.9,726.2 L332.3,722.9 L332.8,719.7 L333.3,716.5 L333.9,713.2 L334.4,710.0 L335.0,706.8 L335.7,703.6 L336.4,700.4 L337.1,697.2 L337.8,694.0 L338.6,690.9 L339.4,687.7 L340.3,684.5 L341.2,681.4 L342.1,678.2 L343.0,675.1 L344.0,672.0 L345.0,668.9 L346.1,665.8 L347.2,662.7 L348.3,659.6 L349.5,656.5 L350.7,653.4 L351.9,650.4 L353.2,647.3 L354.4,644.3 L355.8,641.3 L357.1,638.3 L358.5,635.3 L359.9,632.3 L361.4,629.3 L362.8,626.3 L364.4,623.4 L365.9,620.4 L367.5,617.5 L369.1,614.6 L370.7,611.7 L372.4,608.8 L374.1,605.9 L375.8,603.1 L377.6,600.2 L379.3,597.4 L381.2,594.6 L383.0,591.8 L384.9,589.0 L386.8,586.2 L388.7,583.4 L390.7,580.7 L392.6,577.9 L394.7,575.2 L396.7,572.5 L398.8,569.8 L400.9,567.1 L403.0,564.5 L405.2,561.8 L407.3,559.2 L409.5,556.6 L411.8,554.0 L414.0,551.4 L416.3,548.8 L418.6,546.3 L421.0,543.8 L423.3,541.3 L425.7,538.8 L428.1,536.3 L430.6,533.8 L433.0,531.4 L435.5,528.9 L438.0,526.5 L440.6,524.1 L443.1,521.8 L445.7,519.4 L448.3,517.1 L450.9,514.7 L453.6,512.4 L456.3,510.1 L458.9,507.9 L461.7,505.6 L464.4,503.4 L467.2,501.2 L470.0,499.0 L472.8,496.8 L475.6,494.7 L478.4,492.5 L481.3,490.4 L484.2,488.3 L487.1,486.2 L490.0,484.2 L493.0,482.1 L496.0,480.1 L498.9,478.1 L502.0,476.1 L505.0,474.2 L508.0,472.2 L511.1,470.3 L514.2,468.4 L517.3,466.5 L520.4,464.7 L523.5,462.8 L526.7,461.0 L529.9,459.2 L533.1,457.5 L536.3,455.7 L539.5,454.0 L542.7,452.2 L546.0,450.6 L549.3,448.9 L552.6,447.2 L555.9,445.6 L559.2,444.0 L562.5,442.4 L565.9,440.8 L569.2,439.3 L572.6,437.8 L576.0,436.3 L579.4,434.8 L582.8,433.3 L586.3,431.9 L589.7,430.5 L593.2,429.1 L596.6,427.7 L600.1,426.4 L603.6,425.1 L607.1,423.8 L610.7,422.5 L614.2,421.2 L617.8,420.0 L621.3,418.8 L624.9,417.6 L628.5,416.4 L632.1,415.3 L635.7,414.1 L639.3,413.0 L642.9,411.9 L646.5,410.9 L650.2,409.9 L653.8,408.8 L657.5,407.9 L661.2,406.9 L664.8,405.9 L668.5,405.0 L672.2,404.1 L675.9,403.2 L679.6,402.4 L683.4,401.6 L687.1,400.8 L690.8,400.0 L694.6,399.2 L698.3,398.5 L702.1,397.8 L705.9,397.1 L709.6,396.4 L713.4,395.8 L717.2,395.1 L721.0,394.5 L724.8,394.0 L728.6,393.4 L732.4,392.9 L736.2,392.4 L740.0,391.9 L743.8,391.5 L747.6,391.0 L751.4,390.6 L755.3,390.2 L759.1,389.9 L762.9,389.5 L766.8,389.2 L770.6,388.9 L774.5,388.6 L778.3,388.4 L782.2,388.2 L786.0,388.0 L789.9,387.8 L793.7,387.6 L797.6,387.5 L801.4,387.4 L805.3,387.3 L809.1,387.3 L813.0,387.2 L816.8,387.2" fill="none" stroke="#173f55" stroke-width="2" stroke-opacity="0.8"/>
<path d="M816.8,648.5 L318.5,723.1 L318.1,719.8 L317.7,716.4 L317.3,713.1 L317.1,709.7 L316.8,706.4 L316.6,703.0 L316.4,699.6 L316.3,696.3 L316.2,693.0 L316.1,689.6 L316.1,686.3 L316.1,682.9 L316.2,679.6 L316.3,676.3 L316.4,672.9 L316.6,669.6 L316.8,666.3 L317.0,663.0 L317.3,659.6 L317.7,656.3 L318.0,653.0 L318.4,649.7 L318.9,646.4 L319.3,643.2 L319.9,639.9 L320.4,636.6 L321.0,633.3 L321.6,630.1 L322.3,626.8 L323.0,623.6 L323.7,620.4 L324.5,617.1 L325.3,613.9 L326.2,610.7 L327.1,607.5 L328.0,604.3 L328.9,601.1 L329.9,597.9 L331.0,594.8 L332.0,591.6 L333.1,588.4 L334.3,585.3 L335.4,582.2 L336.6,579.1 L337.9,576.0 L339.1,572.9 L340.4,569.8 L341.8,566.7 L343.1,563.6 L344.5,560.6 L346.0,557.5 L347.5,554.5 L349.0,551.5 L350.5,548.5 L352.1,545.5 L353.7,542.5 L355.3,539.5 L357.0,536.6 L358.7,533.6 L360.4,530.7 L362.2,527.8 L364.0,524.9 L365.8,522.0 L367.6,519.1 L369.5,516.3 L371.4,513.4 L373.4,510.6 L375.4,507.8 L377.4,505.0 L379.4,502.2 L381.5,499.4 L383.5,496.7 L385.7,494.0 Z" fill="#a0522d"/>
<path clip-path="url(#ts7)" d="M816.8,387.2 L820.7,387.2 L824.6,387.3 L828.4,387.3 L832.3,387.4 L836.1,387.5 L840.0,387.6 L843.8,387.8 L847.7,388.0 L851.5,388.2 L855.4,388.4 L859.2,388.6 L863.1,388.9 L866.9,389.2 L870.7,389.5 L874.6,389.9 L878.4,390.2 L882.2,390.6 L886.1,391.0 L889.9,391.5 L893.7,391.9 L897.5,392.4 L901.3,392.9 L905.1,393.4 L908.9,394.0 L912.7,394.5 L916.5,395.1 L920.3,395.8 L924.1,396.4 L927.8,397.1 L931.6,397.8 L935.4,398.5 L939.1,399.2 L942.8,400.0 L946.6,400.8 L950.3,401.6 L954.0,402.4 L957.7,403.2 L961.5,404.1 L965.2,405.0 L968.8,405.9 L972.5,406.9 L976.2,407.9 L979.9,408.8 L983.5,409.9 L987.2,410.9 L990.8,411.9 L994.4,413.0 L998.0,414.1 L1001.6,415.3 L1005.2,416.4 L1008.8,417.6 L1012.4,418.8 L1015.9,420.0 L1019.5,421.2 L1023.0,422.5 L1026.5,423.8 L1030.1,425.1 L1033.6,426.4 L1037.0,427.7 L1040.5,429.1 L1044.0,430.5 L1047.4,431.9 L1050.9,433.3 L1054.3,434.8 L1057.7,436.3 L1061.1,437.8 L1064.5,439.3 L1067.8,440.8 L1071.2,442.4 L1074.5,444.0 L1077.8,445.6 L1081.1,447.2 L1084.4,448.9 L1087.7,450.6 L1091.0,452.2 L1094.2,454.0 L1097.4,455.7 L1100.6,457.5 L1103.8,459.2 L1107.0,461.0 L1110.1,462.8 L1113.3,464.7 L1116.4,466.5 L1119.5,468.4 L1122.6,470.3 L1125.7,472.2 L1128.7,474.2 L1131.7,476.1 L1134.7,478.1 L1137.7,480.1 L1140.7,482.1 L1143.6,484.2 L1146.6,486.2 L1149.5,488.3 L1152.4,490.4 L1155.2,492.5 L1158.1,494.7 L1160.9,496.8 L1163.7,499.0 L1166.5,501.2 L1169.3,503.4 L1172.0,505.6 L1174.7,507.9 L1177.4,510.1 L1180.1,512.4 L1182.8,514.7 L1185.4,517.1 L1188.0,519.4 L1190.6,521.8 L1193.1,524.1 L1195.7,526.5 L1198.2,528.9 L1200.7,531.4 L1203.1,533.8 L1205.6,536.3 L1208.0,538.8 L1210.4,541.3 L1212.7,543.8 L1215.1,546.3 L1217.4,548.8 L1219.7,551.4 L1221.9,554.0 L1224.1,556.6 L1226.4,559.2 L1228.5,561.8 L1230.7,564.5 L1232.8,567.1 L1234.9,569.8 L1237.0,572.5 L1239.0,575.2 L1241.0,577.9 L1243.0,580.7 L1245.0,583.4 L1246.9,586.2 L1248.8,589.0 L1250.7,591.8 L1252.5,594.6 L1254.3,597.4 L1256.1,600.2 L1257.9,603.1 L1259.6,605.9 L1261.3,608.8 L1263.0,611.7 L1264.6,614.6 L1266.2,617.5 L1267.8,620.4 L1269.3,623.4 L1270.8,626.3 L1272.3,629.3 L1273.8,632.3 L1275.2,635.3 L1276.6,638.3 L1277.9,641.3 L1279.2,644.3 L1280.5,647.3 L1281.8,650.4 L1283.0,653.4 L1284.2,656.5 L1285.4,659.6 L1286.5,662.7 L1287.6,665.8 L1288.6,668.9 L1289.7,672.0 L1290.6,675.1 L1291.6,678.2 L1292.5,681.4 L1293.4,684.5 L1294.3,687.7 L1295.1,690.9 L1295.9,694.0 L1296.6,697.2 L1297.3,700.4 L1298.0,703.6 L1298.7,706.8 L1299.3,710.0 L1299.8,713.2 L1300.4,716.5 L1300.9,719.7 L1301.3,722.9 L1301.8,726.2 L1302.2,729.4 L1302.5,732.7 L1302.8,735.9 L1303.1,739.2 L1303.4,742.5 L1303.6,745.7 L1303.7,749.0 L1303.9,752.3 L1304.0,755.6 L1304.0,758.8 L1304.1,762.1 L1304.0,765.4 L1304.0,768.7 L1303.9,772.0 L1303.8,775.3 L1303.6,778.6 L1303.4,781.9 L1303.2,785.2 L1302.9,788.5 L1302.6,791.8 L1302.2,795.1 L1301.8,798.5 L1301.4,801.8 L1300.9,805.1 L1300.4,808.4 L1299.9,811.7 L1299.3,815.0 L1298.7,818.3 L1298.0,821.6 L1297.3,824.9 L1296.6,828.2 L1295.8,831.5 L1295.0,834.8 L1294.1,838.1 L1293.2,841.3 L1292.3,844.6 L1291.3,847.9 L1290.3,851.2 L1289.2,854.4 L1288.2,857.7 L1287.0,861.0 L1285.9,864.2 L1284.7,867.5 L1283.4,870.7 L1282.1,873.9 L1280.8,877.2 L1279.4,880.4 L1278.0,883.6 L1276.6,886.8 L1275.1,890.0 L1273.6,893.2 L1272.0,896.4 L1270.4,899.6 L1268.8,902.7 L1267.1,905.9 L1265.4,909.1 L1263.7,912.2 L1261.9,915.3 L1260.1,918.4 L1258.2,921.6 L1256.3,924.7 L1254.4,927.7 L1252.4,930.8 L1250.4,933.9 L1248.3,936.9 L1246.2,940.0 L1244.1,943.0 L1241.9,946.0 L1239.7,949.0 L1237.5,952.0 L1235.2,955.0 L1232.9,957.9 L1230.5,960.9 L1228.1,963.8 L1225.7,966.7 L1223.2,969.6 L1220.7,972.5 L1218.2,975.4 L1215.6,978.2 L1213.0,981.1 L1210.4,983.9 L1207.7,986.7 L1205.0,989.5 L1202.2,992.2 L1199.4,995.0 L1196.6,997.7 L1193.8,1000.4 L1190.9,1003.1 L1187.9,1005.8 L1185.0,1008.5 L1182.0,1011.1 L1179.0,1013.7 L1175.9,1016.3 L1172.8,1018.9 L1169.7,1021.4 L1166.5,1024.0 L1163.3,1026.5 L1160.1,1029.0 L1156.9,1031.4 L1153.6,1033.9 L1150.2,1036.3 L1146.9,1038.7 L1143.5,1041.1 L1140.1,1043.4 L1136.7,1045.8 L1133.2,1048.1 L1129.7,1050.3 L1126.1,1052.6 L1122.6,1054.8 L1119.0,1057.0 L1115.4,1059.2 L1111.7,1061.4 L1108.0,1063.5 L1104.3,1065.6 L1100.6,1067.7 L1096.8,1069.8 L1093.1,1071.8 L1089.2,1073.8 L1085.4,1075.8 L1081.5,1077.7 L1077.6,1079.6 L1073.7,1081.5 L1069.8,1083.4 L1065.8,1085.2 L1061.8,1087.0 L1057.8,1088.8 L1053.8,1090.6 L1049.7,1092.3 L1045.6,1094.0 L1041.5,1095.6 L1037.4,1097.3 L1033.3,1098.9 L1029.1,1100.5 L1024.9,1102.0 L1020.7,1103.5 L1016.4,1105.0 L1012.2,1106.4 L1007.9,1107.9 L1003.6,1109.3 L999.3,1110.6 L995.0,1111.9 L990.7,1113.2 L986.3,1114.5 L981.9,1115.7 L977.5,1116.9 L973.1,1118.1 L968.7,1119.2 L964.2,1120.3 L959.8,1121.4 L955.3,1122.5 L950.8,1123.5 L946.3,1124.4 L941.8,1125.4 L937.3,1126.3 L932.8,1127.2 L928.2,1128.0 L923.7,1128.8 L919.1,1129.6 L914.5,1130.3 L909.9,1131.0 L905.3,1131.7 L900.7,1132.3 L896.1,1132.9 L891.5,1133.5 L886.9,1134.0 L882.2,1134.5 L877.6,1135.0 L872.9,1135.4 L868.3,1135.8 L863.6,1136.2 L859.0,1136.5 L854.3,1136.8 L849.6,1137.1 L844.9,1137.3 L840.3,1137.5 L835.6,1137.7 L830.9,1137.8 L826.2,1137.9 L821.5,1137.9 L816.8,1137.9 L812.2,1137.9 L807.5,1137.9 L802.8,1137.8 L798.1,1137.7 L793.4,1137.5 L788.7,1137.3 L784.1,1137.1 L779.4,1136.8 L774.7,1136.5 L770.1,1136.2 L765.4,1135.8 L760.7,1135.4 L756.1,1135.0 L751.4,1134.5 L746.8,1134.0 L742.2,1133.5 L737.6,1132.9 L732.9,1132.3 L728.3,1131.7 L723.7,1131.0 L719.2,1130.3 L714.6,1129.6 L710.0,1128.8 L705.5,1128.0 L700.9,1127.2 L696.4,1126.3 L691.9,1125.4 L687.3,1124.4 L682.8,1123.5 L678.4,1122.5 L673.9,1121.4 L669.4,1120.3 L665.0,1119.2 L660.6,1118.1 L656.2,1116.9 L651.8,1115.7 L647.4,1114.5 L643.0,1113.2 L638.7,1111.9 L634.4,1110.6 L630.0,1109.3 L625.8,1107.9 L621.5,1106.4 L617.2,1105.0 L613.0,1103.5 L608.8,1102.0 L604.6,1100.5 L600.4,1098.9 L596.3,1097.3 L592.2,1095.6 L588.0,1094.0 L584.0,1092.3 L579.9,1090.6 L575.9,1088.8 L571.9,1087.0 L567.9,1085.2 L563.9,1083.4 L560.0,1081.5 L556.0,1079.6 L552.1,1077.7 L548.3,1075.8 L544.4,1073.8 L540.6,1071.8 L536.8,1069.8 L533.1,1067.7 L529.3,1065.6 L525.6,1063.5 L522.0,1061.4 L518.3,1059.2 L514.7,1057.0 L511.1,1054.8 L507.5,1052.6 L504.0,1050.3 L500.5,1048.1 L497.0,1045.8 L493.6,1043.4 L490.2,1041.1 L486.8,1038.7 L483.4,1036.3 L480.1,1033.9 L476.8,1031.4 L473.6,1029.0 L470.4,1026.5 L467.2,1024.0 L464.0,1021.4 L460.9,1018.9 L457.8,1016.3 L454.7,1013.7 L451.7,1011.1 L448.7,1008.5 L445.7,1005.8 L442.8,1003.1 L439.9,1000.4 L437.1,997.7 L434.3,995.0 L431.5,992.2 L428.7,989.5 L426.0,986.7 L423.3,983.9 L420.7,981.1 L418.1,978.2 L415.5,975.4 L413.0,972.5 L410.5,969.6 L408.0,966.7 L405.6,963.8 L403.2,960.9 L400.8,957.9 L398.5,955.0 L396.2,952.0 L394.0,949.0 L391.8,946.0 L389.6,943.0 L387.5,940.0 L385.4,936.9 L383.3,933.9 L381.3,930.8 L379.3,927.7 L377.4,924.7 L375.5,921.6 L373.6,918.4 L371.8,915.3 L370.0,912.2 L368.3,909.1 L366.5,905.9 L364.9,902.7 L363.2,899.6 L361.6,896.4 L360.1,893.2 L358.6,890.0 L357.1,886.8 L355.7,883.6 L354.2,880.4 L352.9,877.2 L351.6,873.9 L350.3,870.7 L349.0,867.5 L347.8,864.2 L346.7,861.0 L345.5,857.7 L344.4,854.4 L343.4,851.2 L342.4,847.9 L341.4,844.6 L340.5,841.3 L339.6,838.1 L338.7,834.8 L337.9,831.5 L337.1,828.2 L336.4,824.9 L335.7,821.6 L335.0,818.3 L334.4,815.0 L333.8,811.7 L333.3,808.4 L332.8,805.1 L332.3,801.8 L331.9,798.5 L331.5,795.1 L331.1,791.8 L330.8,788.5 L330.5,785.2 L330.3,781.9 L330.1,778.6 L329.9,775.3 L329.8,772.0 L329.7,768.7 L329.6,765.4 L329.6,762.1 L329.6,758.8 L329.7,755.6 L329.8,752.3 L329.9,749.0 L330.1,745.7 L330.3,742.5 L330.6,739.2 L330.9,735.9 L331.2,732.7 L331.5,729.4 L331.9,726.2 L332.3,722.9 L332.8,719.7 L333.3,716.5 L333.9,713.2 L334.4,710.0 L335.0,706.8 L335.7,703.6 L336.4,700.4 L337.1,697.2 L337.8,694.0 L338.6,690.9 L339.4,687.7 L340.3,684.5 L341.2,681.4 L342.1,678.2 L343.0,675.1 L344.0,672.0 L345.0,668.9 L346.1,665.8 L347.2,662.7 L348.3,659.6 L349.5,656.5 L350.7,653.4 L351.9,650.4 L353.2,647.3 L354.4,644.3 L355.8,641.3 L357.1,638.3 L358.5,635.3 L359.9,632.3 L361.4,629.3 L362.8,626.3 L364.4,623.4 L365.9,620.4 L367.5,617.5 L369.1,614.6 L370.7,611.7 L372.4,608.8 L374.1,605.9 L375.8,603.1 L377.6,600.2 L379.3,597.4 L381.2,594.6 L383.0,591.8 L384.9,589.0 L386.8,586.2 L388.7,583.4 L390.7,580.7 L392.6,577.9 L394.7,575.2 L396.7,572.5 L398.8,569.8 L400.9,567.1 L403.0,564.5 L405.2,561.8 L407.3,559.2 L409.5,556.6 L411.8,554.0 L414.0,551.4 L416.3,548.8 L418.6,546.3 L421.0,543.8 L423.3,541.3 L425.7,538.8 L428.1,536.3 L430.6,533.8 L433.0,531.4 L435.5,528.9 L438.0,526.5 L440.6,524.1 L443.1,521.8 L445.7,519.4 L448.3,517.1 L450.9,514.7 L453.6,512.4 L456.3,510.1 L458.9,507.9 L461.7,505.6 L464.4,503.4 L467.2,501.2 L470.0,499.0 L472.8,496.8 L475.6,494.7 L478.4,492.5 L481.3,490.4 L484.2,488.3 L487.1,486.2 L490.0,484.2 L493.0,482.1 L496.0,480.1 L498.9,478.1 L502.0,476.1 L505.0,474.2 L508.0,472.2 L511.1,470.3 L514.2,468.4 L517.3,466.5 L520.4,464.7 L523.5,462.8 L526.7,461.0 L529.9,459.2 L533.1,457.5 L536.3,455.7 L539.5,454.0 L542.7,452.2 L546.0,450.6 L549.3,448.9 L552.6,447.2 L555.9,445.6 L559.2,444.0 L562.5,442.4 L565.9,440.8 L569.2,439.3 L572.6,437.8 L576.0,436.3 L579.4,434.8 L582.8,433.3 L586.3,431.9 L589.7,430.5 L593.2,429.1 L596.6,427.7 L600.1,426.4 L603.6,425.1 L607.1,423.8 L610.7,422.5 L614.2,421.2 L617.8,420.0 L621.3,418.8 L624.9,417.6 L628.5,416.4 L632.1,415.3 L635.7,414.1 L639.3,413.0 L642.9,411.9 L646.5,410.9 L650.2,409.9 L653.8,408.8 L657.5,407.9 L661.2,406.9 L664.8,405.9 L668.5,405.0 L672.2,404.1 L675.9,403.2 L679.6,402.4 L683.4,401.6 L687.1,400.8 L690.8,400.0 L694.6,399.2 L698.3,398.5 L702.1,397.8 L705.9,397.1 L709.6,396.4 L713.4,395.8 L717.2,395.1 L721.0,394.5 L724.8,394.0 L728.6,393.4 L732.4,392.9 L736.2,392.4 L740.0,391.9 L743.8,391.5 L747.6,391.0 L751.4,390.6 L755.3,390.2 L759.1,389.9 L762.9,389.5 L766.8,389.2 L770.6,388.9 L774.5,388.6 L778.3,388.4 L782.2,388.2 L786.0,388.0 L789.9,387.8 L793.7,387.6 L797.6,387.5 L801.4,387.4 L805.3,387.3 L809.1,387.3 L813.0,387.2 L816.8,387.2" fill="none" stroke="#9c4412" stroke-width="2" stroke-opacity="0.8"/>
<path d="M816.8,648.5 L385.7,494.0 L387.8,491.2 L390.0,488.6 L392.2,485.9 L394.4,483.2 L396.6,480.6 L398.9,478.0 L401.2,475.4 L403.5,472.8 L405.9,470.2 L408.3,467.6 L410.7,465.1 L413.1,462.6 L415.5,460.1 L418.0,457.6 L420.5,455.1 L423.1,452.6 L425.6,450.2 L428.2,447.8 L430.8,445.4 L433.5,443.0 L436.1,440.6 L438.8,438.3 L441.5,436.0 L444.2,433.6 L447.0,431.3 L449.7,429.1 L452.5,426.8 L455.4,424.6 L458.2,422.4 L461.1,420.2 L463.9,418.0 L466.9,415.8 L469.8,413.7 L472.7,411.5 L475.7,409.4 L478.7,407.4 L481.7,405.3 L484.7,403.3 L487.8,401.2 L490.9,399.2 L493.9,397.2 L497.1,395.3 L500.2,393.3 L503.3,391.4 L506.5,389.5 L509.7,387.6 L512.9,385.7 L516.1,383.9 L519.4,382.1 L522.6,380.3 L525.9,378.5 L529.2,376.7 L532.5,375.0 L535.8,373.3 L539.2,371.6 L542.5,369.9 L545.9,368.3 L549.3,366.6 L552.7,365.0 L556.1,363.4 L559.6,361.9 L563.0,360.3 L566.5,358.8 L570.0,357.3 L573.5,355.8 L577.0,354.3 L580.5,352.9 L584.0,351.5 L587.6,350.1 L591.2,348.7 L594.7,347.4 L598.3,346.0 Z" fill="#26522d"/>
<path clip-path="url(#ts8)" d="M816.8,387.2 L820.7,387.2 L824.6,387.3 L828.4,387.3 L832.3,387.4 L836.1,387.5 L840.0,387.6 L843.8,387.8 L847.7,388.0 L851.5,388.2 L855.4,388.4 L859.2,388.6 L863.1,388.9 L866.9,389.2 L870.7,389.5 L874.6,389.9 L878.4,390.2 L882.2,390.6 L886.1,391.0 L889.9,391.5 L893.7,391.9 L897.5,392.4 L901.3,392.9 L905.1,393.4 L908.9,394.0 L912.7,394.5 L916.5,395.1 L920.3,395.8 L924.1,396.4 L927.8,397.1 L931.6,397.8 L935.4,398.5 L939.1,399.2 L942.8,400.0 L946.6,400.8 L950.3,401.6 L954.0,402.4 L957.7,403.2 L961.5,404.1 L965.2,405.0 L968.8,405.9 L972.5,406.9 L976.2,407.9 L979.9,408.8 L983.5,409.9 L987.2,410.9 L990.8,411.9 L994.4,413.0 L998.0,414.1 L1001.6,415.3 L1005.2,416.4 L1008.8,417.6 L1012.4,418.8 L1015.9,420.0 L1019.5,421.2 L1023.0,422.5 L1026.5,423.8 L1030.1,425.1 L1033.6,426.4 L1037.0,427.7 L1040.5,429.1 L1044.0,430.5 L1047.4,431.9 L1050.9,433.3 L1054.3,434.8 L1057.7,436.3 L1061.1,437.8 L1064.5,439.3 L1067.8,440.8 L1071.2,442.4 L1074.5,444.0 L1077.8,445.6 L1081.1,447.2 L1084.4,448.9 L1087.7,450.6 L1091.0,452.2 L1094.2,454.0 L1097.4,455.7 L1100.6,457.5 L1103.8,459.2 L1107.0,461.0 L1110.1,462.8 L1113.3,464.7 L1116.4,466.5 L1119.5,468.4 L1122.6,470.3 L1125.7,472.2 L1128.7,474.2 L1131.7,476.1 L1134.7,478.1 L1137.7,480.1 L1140.7,482.1 L1143.6,484.2 L1146.6,486.2 L1149.5,488.3 L1152.4,490.4 L1155.2,492.5 L1158.1,494.7 L1160.9,496.8 L1163.7,499.0 L1166.5,501.2 L1169.3,503.4 L1172.0,505.6 L1174.7,507.9 L1177.4,510.1 L1180.1,512.4 L1182.8,514.7 L1185.4,517.1 L1188.0,519.4 L1190.6,521.8 L1193.1,524.1 L1195.7,526.5 L1198.2,528.9 L1200.7,531.4 L1203.1,533.8 L1205.6,536.3 L1208.0,538.8 L1210.4,541.3 L1212.7,543.8 L1215.1,546.3 L1217.4,548.8 L1219.7,551.4 L1221.9,554.0 L1224.1,556.6 L1226.4,559.2 L1228.5,561.8 L1230.7,564.5 L1232.8,567.1 L1234.9,569.8 L1237.0,572.5 L1239.0,575.2 L1241.0,577.9 L1243.0,580.7 L1245.0,583.4 L1246.9,586.2 L1248.8,589.0 L1250.7,591.8 L1252.5,594.6 L1254.3,597.4 L1256.1,600.2 L1257.9,603.1 L1259.6,605.9 L1261.3,608.8 L1263.0,611.7 L1264.6,614.6 L1266.2,617.5 L1267.8,620.4 L1269.3,623.4 L1270.8,626.3 L1272.3,629.3 L1273.8,632.3 L1275.2,635.3 L1276.6,638.3 L1277.9,641.3 L1279.2,644.3 L1280.5,647.3 L1281.8,650.4 L1283.0,653.4 L1284.2,656.5 L1285.4,659.6 L1286.5,662.7 L1287.6,665.8 L1288.6,668.9 L1289.7,672.0 L1290.6,675.1 L1291.6,678.2 L1292.5,681.4 L1293.4,684.5 L1294.3,687.7 L1295.1,690.9 L1295.9,694.0 L1296.6,697.2 L1297.3,700.4 L1298.0,703.6 L1298.7,706.8 L1299.3,710.0 L1299.8,713.2 L1300.4,716.5 L1300.9,719.7 L1301.3,722.9 L1301.8,726.2 L1302.2,729.4 L1302.5,732.7 L1302.8,735.9 L1303.1,739.2 L1303.4,742.5 L1303.6,745.7 L1303.7,749.0 L1303.9,752.3 L1304.0,755.6 L1304.0,758.8 L1304.1,762.1 L1304.0,765.4 L1304.0,768.7 L1303.9,772.0 L1303.8,775.3 L1303.6,778.6 L1303.4,781.9 L1303.2,785.2 L1302.9,788.5 L1302.6,791.8 L1302.2,795.1 L1301.8,798.5 L1301.4,801.8 L1300.9,805.1 L1300.4,808.4 L1299.9,811.7 L1299.3,815.0 L1298.7,818.3 L1298.0,821.6 L1297.3,824.9 L1296.6,828.2 L1295.8,831.5 L1295.0,834.8 L1294.1,838.1 L1293.2,841.3 L1292.3,844.6 L1291.3,847.9 L1290.3,851.2 L1289.2,854.4 L1288.2,857.7 L1287.0,861.0 L1285.9,864.2 L1284.7,867.5 L1283.4,870.7 L1282.1,873.9 L1280.8,877.2 L1279.4,880.4 L1278.0,883.6 L1276.6,886.8 L1275.1,890.0 L1273.6,893.2 L1272.0,896.4 L1270.4,899.6 L1268.8,902.7 L1267.1,905.9 L1265.4,909.1 L1263.7,912.2 L1261.9,915.3 L1260.1,918.4 L1258.2,921.6 L1256.3,924.7 L1254.4,927.7 L1252.4,930.8 L1250.4,933.9 L1248.3,936.9 L1246.2,940.0 L1244.1,943.0 L1241.9,946.0 L1239.7,949.0 L1237.5,952.0 L1235.2,955.0 L1232.9,957.9 L1230.5,960.9 L1228.1,963.8 L1225.7,966.7 L1223.2,969.6 L1220.7,972.5 L1218.2,975.4 L1215.6,978.2 L1213.0,981.1 L1210.4,983.9 L1207.7,986.7 L1205.0,989.5 L1202.2,992.2 L1199.4,995.0 L1196.6,997.7 L1193.8,1000.4 L1190.9,1003.1 L1187.9,1005.8 L1185.0,1008.5 L1182.0,1011.1 L1179.0,1013.7 L1175.9,1016.3 L1172.8,1018.9 L1169.7,1021.4 L1166.5,1024.0 L1163.3,1026.5 L1160.1,1029.0 L1156.9,1031.4 L1153.6,1033.9 L1150.2,1036.3 L1146.9,1038.7 L1143.5,1041.1 L1140.1,1043.4 L1136.7,1045.8 L1133.2,1048.1 L1129.7,1050.3 L1126.1,1052.6 L1122.6,1054.8 L1119.0,1057.0 L1115.4,1059.2 L1111.7,1061.4 L1108.0,1063.5 L1104.3,1065.6 L1100.6,1067.7 L1096.8,1069.8 L1093.1,1071.8 L1089.2,1073.8 L1085.4,1075.8 L1081.5,1077.7 L1077.6,1079.6 L1073.7,1081.5 L1069.8,1083.4 L1065.8,1085.2 L1061.8,1087.0 L1057.8,1088.8 L1053.8,1090.6 L1049.7,1092.3 L1045.6,1094.0 L1041.5,1095.6 L1037.4,1097.3 L1033.3,1098.9 L1029.1,1100.5 L1024.9,1102.0 L1020.7,1103.5 L1016.4,1105.0 L1012.2,1106.4 L1007.9,1107.9 L1003.6,1109.3 L999.3,1110.6 L995.0,1111.9 L990.7,1113.2 L986.3,1114.5 L981.9,1115.7 L977.5,1116.9 L973.1,1118.1 L968.7,1119.2 L964.2,1120.3 L959.8,1121.4 L955.3,1122.5 L950.8,1123.5 L946.3,1124.4 L941.8,1125.4 L937.3,1126.3 L932.8,1127.2 L928.2,1128.0 L923.7,1128.8 L919.1,1129.6 L914.5,1130.3 L909.9,1131.0 L905.3,1131.7 L900.7,1132.3 L896.1,1132.9 L891.5,1133.5 L886.9,1134.0 L882.2,1134.5 L877.6,1135.0 L872.9,1135.4 L868.3,1135.8 L863.6,1136.2 L859.0,1136.5 L854.3,1136.8 L849.6,1137.1 L844.9,1137.3 L840.3,1137.5 L835.6,1137.7 L830.9,1137.8 L826.2,1137.9 L821.5,1137.9 L816.8,1137.9 L812.2,1137.9 L807.5,1137.9 L802.8,1137.8 L798.1,1137.7 L793.4,1137.5 L788.7,1137.3 L784.1,1137.1 L779.4,1136.8 L774.7,1136.5 L770.1,1136.2 L765.4,1135.8 L760.7,1135.4 L756.1,1135.0 L751.4,1134.5 L746.8,1134.0 L742.2,1133.5 L737.6,1132.9 L732.9,1132.3 L728.3,1131.7 L723.7,1131.0 L719.2,1130.3 L714.6,1129.6 L710.0,1128.8 L705.5,1128.0 L700.9,1127.2 L696.4,1126.3 L691.9,1125.4 L687.3,1124.4 L682.8,1123.5 L678.4,1122.5 L673.9,1121.4 L669.4,1120.3 L665.0,1119.2 L660.6,1118.1 L656.2,1116.9 L651.8,1115.7 L647.4,1114.5 L643.0,1113.2 L638.7,1111.9 L634.4,1110.6 L630.0,1109.3 L625.8,1107.9 L621.5,1106.4 L617.2,1105.0 L613.0,1103.5 L608.8,1102.0 L604.6,1100.5 L600.4,1098.9 L596.3,1097.3 L592.2,1095.6 L588.0,1094.0 L584.0,1092.3 L579.9,1090.6 L575.9,1088.8 L571.9,1087.0 L567.9,1085.2 L563.9,1083.4 L560.0,1081.5 L556.0,1079.6 L552.1,1077.7 L548.3,1075.8 L544.4,1073.8 L540.6,1071.8 L536.8,1069.8 L533.1,1067.7 L529.3,1065.6 L525.6,1063.5 L522.0,1061.4 L518.3,1059.2 L514.7,1057.0 L511.1,1054.8 L507.5,1052.6 L504.0,1050.3 L500.5,1048.1 L497.0,1045.8 L493.6,1043.4 L490.2,1041.1 L486.8,1038.7 L483.4,1036.3 L480.1,1033.9 L476.8,1031.4 L473.6,1029.0 L470.4,1026.5 L467.2,1024.0 L464.0,1021.4 L460.9,1018.9 L457.8,1016.3 L454.7,1013.7 L451.7,1011.1 L448.7,1008.5 L445.7,1005.8 L442.8,1003.1 L439.9,1000.4 L437.1,997.7 L434.3,995.0 L431.5,992.2 L428.7,989.5 L426.0,986.7 L423.3,983.9 L420.7,981.1 L418.1,978.2 L415.5,975.4 L413.0,972.5 L410.5,969.6 L408.0,966.7 L405.6,963.8 L403.2,960.9 L400.8,957.9 L398.5,955.0 L396.2,952.0 L394.0,949.0 L391.8,946.0 L389.6,943.0 L387.5,940.0 L385.4,936.9 L383.3,933.9 L381.3,930.8 L379.3,927.7 L377.4,924.7 L375.5,921.6 L373.6,918.4 L371.8,915.3 L370.0,912.2 L368.3,909.1 L366.5,905.9 L364.9,902.7 L363.2,899.6 L361.6,896.4 L360.1,893.2 L358.6,890.0 L357.1,886.8 L355.7,883.6 L354.2,880.4 L352.9,877.2 L351.6,873.9 L350.3,870.7 L349.0,867.5 L347.8,864.2 L346.7,861.0 L345.5,857.7 L344.4,854.4 L343.4,851.2 L342.4,847.9 L341.4,844.6 L340.5,841.3 L339.6,838.1 L338.7,834.8 L337.9,831.5 L337.1,828.2 L336.4,824.9 L335.7,821.6 L335.0,818.3 L334.4,815.0 L333.8,811.7 L333.3,808.4 L332.8,805.1 L332.3,801.8 L331.9,798.5 L331.5,795.1 L331.1,791.8 L330.8,788.5 L330.5,785.2 L330.3,781.9 L330.1,778.6 L329.9,775.3 L329.8,772.0 L329.7,768.7 L329.6,765.4 L329.6,762.1 L329.6,758.8 L329.7,755.6 L329.8,752.3 L329.9,749.0 L330.1,745.7 L330.3,742.5 L330.6,739.2 L330.9,735.9 L331.2,732.7 L331.5,729.4 L331.9,726.2 L332.3,722.9 L332.8,719.7 L333.3,716.5 L333.9,713.2 L334.4,710.0 L335.0,706.8 L335.7,703.6 L336.4,700.4 L337.1,697.2 L337.8,694.0 L338.6,690.9 L339.4,687.7 L340.3,684.5 L341.2,681.4 L342.1,678.2 L343.0,675.1 L344.0,672.0 L345.0,668.9 L346.1,665.8 L347.2,662.7 L348.3,659.6 L349.5,656.5 L350.7,653.4 L351.9,650.4 L353.2,647.3 L354.4,644.3 L355.8,641.3 L357.1,638.3 L358.5,635.3 L359.9,632.3 L361.4,629.3 L362.8,626.3 L364.4,623.4 L365.9,620.4 L367.5,617.5 L369.1,614.6 L370.7,611.7 L372.4,608.8 L374.1,605.9 L375.8,603.1 L377.6,600.2 L379.3,597.4 L381.2,594.6 L383.0,591.8 L384.9,589.0 L386.8,586.2 L388.7,583.4 L390.7,580.7 L392.6,577.9 L394.7,575.2 L396.7,572.5 L398.8,569.8 L400.9,567.1 L403.0,564.5 L405.2,561.8 L407.3,559.2 L409.5,556.6 L411.8,554.0 L414.0,551.4 L416.3,548.8 L418.6,546.3 L421.0,543.8 L423.3,541.3 L425.7,538.8 L428.1,536.3 L430.6,533.8 L433.0,531.4 L435.5,528.9 L438.0,526.5 L440.6,524.1 L443.1,521.8 L445.7,519.4 L448.3,517.1 L450.9,514.7 L453.6,512.4 L456.3,510.1 L458.9,507.9 L461.7,505.6 L464.4,503.4 L467.2,501.2 L470.0,499.0 L472.8,496.8 L475.6,494.7 L478.4,492.5 L481.3,490.4 L484.2,488.3 L487.1,486.2 L490.0,484.2 L493.0,482.1 L496.0,480.1 L498.9,478.1 L502.0,476.1 L505.0,474.2 L508.0,472.2 L511.1,470.3 L514.2,468.4 L517.3,466.5 L520.4,464.7 L523.5,462.8 L526.7,461.0 L529.9,459.2 L533.1,457.5 L536.3,455.7 L539.5,454.0 L542.7,452.2 L546.0,450.6 L549.3,448.9 L552.6,447.2 L555.9,445.6 L559.2,444.0 L562.5,442.4 L565.9,440.8 L569.2,439.3 L572.6,437.8 L576.0,436.3 L579.4,434.8 L582.8,433.3 L586.3,431.9 L589.7,430.5 L593.2,429.1 L596.6,427.7 L600.1,426.4 L603.6,425.1 L607.1,423.8 L610.7,422.5 L614.2,421.2 L617.8,420.0 L621.3,418.8 L624.9,417.6 L628.5,416.4 L632.1,415.3 L635.7,414.1 L639.3,413.0 L642.9,411.9 L646.5,410.9 L650.2,409.9 L653.8,408.8 L657.5,407.9 L661.2,406.9 L664.8,405.9 L668.5,405.0 L672.2,404.1 L675.9,403.2 L679.6,402.4 L683.4,401.6 L687.1,400.8 L690.8,400.0 L694.6,399.2 L698.3,398.5 L702.1,397.8 L705.9,397.1 L709.6,396.4 L713.4,395.8 L717.2,395.1 L721.0,394.5 L724.8,394.0 L728.6,393.4 L732.4,392.9 L736.2,392.4 L740.0,391.9 L743.8,391.5 L747.6,391.0 L751.4,390.6 L755.3,390.2 L759.1,389.9 L762.9,389.5 L766.8,389.2 L770.6,388.9 L774.5,388.6 L778.3,388.4 L782.2,388.2 L786.0,388.0 L789.9,387.8 L793.7,387.6 L797.6,387.5 L801.4,387.4 L805.3,387.3 L809.1,387.3 L813.0,387.2 L816.8,387.2" fill="none" stroke="#14461e" stroke-width="2" stroke-opacity="0.8"/>
<path d="M816.8,648.5 L598.3,346.0 L602.0,344.7 L605.7,343.4 L609.4,342.1 L613.1,340.9 L616.8,339.6 L620.5,338.4 L624.2,337.2 L628.0,336.1 L631.8,334.9 L635.5,333.8 L639.3,332.7 L643.1,331.6 L646.9,330.6 L650.7,329.5 L654.6,328.5 L658.4,327.6 L662.2,326.6 L666.1,325.7 L669.9,324.8 L673.8,323.9 L677.7,323.0 L681.6,322.2 L685.5,321.4 L689.4,320.6 L693.3,319.8 L697.2,319.1 L701.1,318.4 L705.0,317.7 L709.0,317.0 L712.9,316.4 L716.9,315.7 L720.8,315.2 L724.8,314.6 L728.7,314.0 L732.7,313.5 L736.7,313.0 L740.7,312.5 L744.7,312.1 L748.6,311.7 L752.6,311.3 L756.6,310.9 L760.6,310.5 L764.6,310.2 L768.6,309.9 L772.6,309.6 L776.7,309.4 L780.7,309.1 L784.7,308.9 L788.7,308.7 L792.7,308.6 L796.7,308.4 L800.8,308.3 L804.8,308.2 L808.8,308.2 L812.8,308.2 L816.8,308.1 Z" fill="#236b8c"/>
<path clip-path="url(#ts9)" d="M816.8,387.2 L820.7,387.2 L824.6,387.3 L828.4,387.3 L832.3,387.4 L836.1,387.5 L840.0,387.6 L843.8,387.8 L847.7,388.0 L851.5,388.2 L855.4,388.4 L859.2,388.6 L863.1,388.9 L866.9,389.2 L870.7,389.5 L874.6,389.9 L878.4,390.2 L882.2,390.6 L886.1,391.0 L889.9,391.5 L893.7,391.9 L897.5,392.4 L901.3,392.9 L905.1,393.4 L908.9,394.0 L912.7,394.5 L916.5,395.1 L920.3,395.8 L924.1,396.4 L927.8,397.1 L931.6,397.8 L935.4,398.5 L939.1,399.2 L942.8,400.0 L946.6,400.8 L950.3,401.6 L954.0,402.4 L957.7,403.2 L961.5,404.1 L965.2,405.0 L968.8,405.9 L972.5,406.9 L976.2,407.9 L979.9,408.8 L983.5,409.9 L987.2,410.9 L990.8,411.9 L994.4,413.0 L998.0,414.1 L1001.6,415.3 L1005.2,416.4 L1008.8,417.6 L1012.4,418.8 L1015.9,420.0 L1019.5,421.2 L1023.0,422.5 L1026.5,423.8 L1030.1,425.1 L1033.6,426.4 L1037.0,427.7 L1040.5,429.1 L1044.0,430.5 L1047.4,431.9 L1050.9,433.3 L1054.3,434.8 L1057.7,436.3 L1061.1,437.8 L1064.5,439.3 L1067.8,440.8 L1071.2,442.4 L1074.5,444.0 L1077.8,445.6 L1081.1,447.2 L1084.4,448.9 L1087.7,450.6 L1091.0,452.2 L1094.2,454.0 L1097.4,455.7 L1100.6,457.5 L1103.8,459.2 L1107.0,461.0 L1110.1,462.8 L1113.3,464.7 L1116.4,466.5 L1119.5,468.4 L1122.6,470.3 L1125.7,472.2 L1128.7,474.2 L1131.7,476.1 L1134.7,478.1 L1137.7,480.1 L1140.7,482.1 L1143.6,484.2 L1146.6,486.2 L1149.5,488.3 L1152.4,490.4 L1155.2,492.5 L1158.1,494.7 L1160.9,496.8 L1163.7,499.0 L1166.5,501.2 L1169.3,503.4 L1172.0,505.6 L1174.7,507.9 L1177.4,510.1 L1180.1,512.4 L1182.8,514.7 L1185.4,517.1 L1188.0,519.4 L1190.6,521.8 L1193.1,524.1 L1195.7,526.5 L1198.2,528.9 L1200.7,531.4 L1203.1,533.8 L1205.6,536.3 L1208.0,538.8 L1210.4,541.3 L1212.7,543.8 L1215.1,546.3 L1217.4,548.8 L1219.7,551.4 L1221.9,554.0 L1224.1,556.6 L1226.4,559.2 L1228.5,561.8 L1230.7,564.5 L1232.8,567.1 L1234.9,569.8 L1237.0,572.5 L1239.0,575.2 L1241.0,577.9 L1243.0,580.7 L1245.0,583.4 L1246.9,586.2 L1248.8,589.0 L1250.7,591.8 L1252.5,594.6 L1254.3,597.4 L1256.1,600.2 L1257.9,603.1 L1259.6,605.9 L1261.3,608.8 L1263.0,611.7 L1264.6,614.6 L1266.2,617.5 L1267.8,620.4 L1269.3,623.4 L1270.8,626.3 L1272.3,629.3 L1273.8,632.3 L1275.2,635.3 L1276.6,638.3 L1277.9,641.3 L1279.2,644.3 L1280.5,647.3 L1281.8,650.4 L1283.0,653.4 L1284.2,656.5 L1285.4,659.6 L1286.5,662.7 L1287.6,665.8 L1288.6,668.9 L1289.7,672.0 L1290.6,675.1 L1291.6,678.2 L1292.5,681.4 L1293.4,684.5 L1294.3,687.7 L1295.1,690.9 L1295.9,694.0 L1296.6,697.2 L1297.3,700.4 L1298.0,703.6 L1298.7,706.8 L1299.3,710.0 L1299.8,713.2 L1300.4,716.5 L1300.9,719.7 L1301.3,722.9 L1301.8,726.2 L1302.2,729.4 L1302.5,732.7 L1302.8,735.9 L1303.1,739.2 L1303.4,742.5 L1303.6,745.7 L1303.7,749.0 L1303.9,752.3 L1304.0,755.6 L1304.0,758.8 L1304.1,762.1 L1304.0,765.4 L1304.0,768.7 L1303.9,772.0 L1303.8,775.3 L1303.6,778.6 L1303.4,781.9 L1303.2,785.2 L1302.9,788.5 L1302.6,791.8 L1302.2,795.1 L1301.8,798.5 L1301.4,801.8 L1300.9,805.1 L1300.4,808.4 L1299.9,811.7 L1299.3,815.0 L1298.7,818.3 L1298.0,821.6 L1297.3,824.9 L1296.6,828.2 L1295.8,831.5 L1295.0,834.8 L1294.1,838.1 L1293.2,841.3 L1292.3,844.6 L1291.3,847.9 L1290.3,851.2 L1289.2,854.4 L1288.2,857.7 L1287.0,861.0 L1285.9,864.2 L1284.7,867.5 L1283.4,870.7 L1282.1,873.9 L1280.8,877.2 L1279.4,880.4 L1278.0,883.6 L1276.6,886.8 L1275.1,890.0 L1273.6,893.2 L1272.0,896.4 L1270.4,899.6 L1268.8,902.7 L1267.1,905.9 L1265.4,909.1 L1263.7,912.2 L1261.9,915.3 L1260.1,918.4 L1258.2,921.6 L1256.3,924.7 L1254.4,927.7 L1252.4,930.8 L1250.4,933.9 L1248.3,936.9 L1246.2,940.0 L1244.1,943.0 L1241.9,946.0 L1239.7,949.0 L1237.5,952.0 L1235.2,955.0 L1232.9,957.9 L1230.5,960.9 L1228.1,963.8 L1225.7,966.7 L1223.2,969.6 L1220.7,972.5 L1218.2,975.4 L1215.6,978.2 L1213.0,981.1 L1210.4,983.9 L1207.7,986.7 L1205.0,989.5 L1202.2,992.2 L1199.4,995.0 L1196.6,997.7 L1193.8,1000.4 L1190.9,1003.1 L1187.9,1005.8 L1185.0,1008.5 L1182.0,1011.1 L1179.0,1013.7 L1175.9,1016.3 L1172.8,1018.9 L1169.7,1021.4 L1166.5,1024.0 L1163.3,1026.5 L1160.1,1029.0 L1156.9,1031.4 L1153.6,1033.9 L1150.2,1036.3 L1146.9,1038.7 L1143.5,1041.1 L1140.1,1043.4 L1136.7,1045.8 L1133.2,1048.1 L1129.7,1050.3 L1126.1,1052.6 L1122.6,1054.8 L1119.0,1057.0 L1115.4,1059.2 L1111.7,1061.4 L1108.0,1063.5 L1104.3,1065.6 L1100.6,1067.7 L1096.8,1069.8 L1093.1,1071.8 L1089.2,1073.8 L1085.4,1075.8 L1081.5,1077.7 L1077.6,1079.6 L1073.7,1081.5 L1069.8,1083.4 L1065.8,1085.2 L1061.8,1087.0 L1057.8,1088.8 L1053.8,1090.6 L1049.7,1092.3 L1045.6,1094.0 L1041.5,1095.6 L1037.4,1097.3 L1033.3,1098.9 L1029.1,1100.5 L1024.9,1102.0 L1020.7,1103.5 L1016.4,1105.0 L1012.2,1106.4 L1007.9,1107.9 L1003.6,1109.3 L999.3,1110.6 L995.0,1111.9 L990.7,1113.2 L986.3,1114.5 L981.9,1115.7 L977.5,1116.9 L973.1,1118.1 L968.7,1119.2 L964.2,1120.3 L959.8,1121.4 L955.3,1122.5 L950.8,1123.5 L946.3,1124.4 L941.8,1125.4 L937.3,1126.3 L932.8,1127.2 L928.2,1128.0 L923.7,1128.8 L919.1,1129.6 L914.5,1130.3 L909.9,1131.0 L905.3,1131.7 L900.7,1132.3 L896.1,1132.9 L891.5,1133.5 L886.9,1134.0 L882.2,1134.5 L877.6,1135.0 L872.9,1135.4 L868.3,1135.8 L863.6,1136.2 L859.0,1136.5 L854.3,1136.8 L849.6,1137.1 L844.9,1137.3 L840.3,1137.5 L835.6,1137.7 L830.9,1137.8 L826.2,1137.9 L821.5,1137.9 L816.8,1137.9 L812.2,1137.9 L807.5,1137.9 L802.8,1137.8 L798.1,1137.7 L793.4,1137.5 L788.7,1137.3 L784.1,1137.1 L779.4,1136.8 L774.7,1136.5 L770.1,1136.2 L765.4,1135.8 L760.7,1135.4 L756.1,1135.0 L751.4,1134.5 L746.8,1134.0 L742.2,1133.5 L737.6,1132.9 L732.9,1132.3 L728.3,1131.7 L723.7,1131.0 L719.2,1130.3 L714.6,1129.6 L710.0,1128.8 L705.5,1128.0 L700.9,1127.2 L696.4,1126.3 L691.9,1125.4 L687.3,1124.4 L682.8,1123.5 L678.4,1122.5 L673.9,1121.4 L669.4,1120.3 L665.0,1119.2 L660.6,1118.1 L656.2,1116.9 L651.8,1115.7 L647.4,1114.5 L643.0,1113.2 L638.7,1111.9 L634.4,1110.6 L630.0,1109.3 L625.8,1107.9 L621.5,1106.4 L617.2,1105.0 L613.0,1103.5 L608.8,1102.0 L604.6,1100.5 L600.4,1098.9 L596.3,1097.3 L592.2,1095.6 L588.0,1094.0 L584.0,1092.3 L579.9,1090.6 L575.9,1088.8 L571.9,1087.0 L567.9,1085.2 L563.9,1083.4 L560.0,1081.5 L556.0,1079.6 L552.1,1077.7 L548.3,1075.8 L544.4,1073.8 L540.6,1071.8 L536.8,1069.8 L533.1,1067.7 L529.3,1065.6 L525.6,1063.5 L522.0,1061.4 L518.3,1059.2 L514.7,1057.0 L511.1,1054.8 L507.5,1052.6 L504.0,1050.3 L500.5,1048.1 L497.0,1045.8 L493.6,1043.4 L490.2,1041.1 L486.8,1038.7 L483.4,1036.3 L480.1,1033.9 L476.8,1031.4 L473.6,1029.0 L470.4,1026.5 L467.2,1024.0 L464.0,1021.4 L460.9,1018.9 L457.8,1016.3 L454.7,1013.7 L451.7,1011.1 L448.7,1008.5 L445.7,1005.8 L442.8,1003.1 L439.9,1000.4 L437.1,997.7 L434.3,995.0 L431.5,992.2 L428.7,989.5 L426.0,986.7 L423.3,983.9 L420.7,981.1 L418.1,978.2 L415.5,975.4 L413.0,972.5 L410.5,969.6 L408.0,966.7 L405.6,963.8 L403.2,960.9 L400.8,957.9 L398.5,955.0 L396.2,952.0 L394.0,949.0 L391.8,946.0 L389.6,943.0 L387.5,940.0 L385.4,936.9 L383.3,933.9 L381.3,930.8 L379.3,927.7 L377.4,924.7 L375.5,921.6 L373.6,918.4 L371.8,915.3 L370.0,912.2 L368.3,909.1 L366.5,905.9 L364.9,902.7 L363.2,899.6 L361.6,896.4 L360.1,893.2 L358.6,890.0 L357.1,886.8 L355.7,883.6 L354.2,880.4 L352.9,877.2 L351.6,873.9 L350.3,870.7 L349.0,867.5 L347.8,864.2 L346.7,861.0 L345.5,857.7 L344.4,854.4 L343.4,851.2 L342.4,847.9 L341.4,844.6 L340.5,841.3 L339.6,838.1 L338.7,834.8 L337.9,831.5 L337.1,828.2 L336.4,824.9 L335.7,821.6 L335.0,818.3 L334.4,815.0 L333.8,811.7 L333.3,808.4 L332.8,805.1 L332.3,801.8 L331.9,798.5 L331.5,795.1 L331.1,791.8 L330.8,788.5 L330.5,785.2 L330.3,781.9 L330.1,778.6 L329.9,775.3 L329.8,772.0 L329.7,768.7 L329.6,765.4 L329.6,762.1 L329.6,758.8 L329.7,755.6 L329.8,752.3 L329.9,749.0 L330.1,745.7 L330.3,742.5 L330.6,739.2 L330.9,735.9 L331.2,732.7 L331.5,729.4 L331.9,726.2 L332.3,722.9 L332.8,719.7 L333.3,716.5 L333.9,713.2 L334.4,710.0 L335.0,706.8 L335.7,703.6 L336.4,700.4 L337.1,697.2 L337.8,694.0 L338.6,690.9 L339.4,687.7 L340.3,684.5 L341.2,681.4 L342.1,678.2 L343.0,675.1 L344.0,672.0 L345.0,668.9 L346.1,665.8 L347.2,662.7 L348.3,659.6 L349.5,656.5 L350.7,653.4 L351.9,650.4 L353.2,647.3 L354.4,644.3 L355.8,641.3 L357.1,638.3 L358.5,635.3 L359.9,632.3 L361.4,629.3 L362.8,626.3 L364.4,623.4 L365.9,620.4 L367.5,617.5 L369.1,614.6 L370.7,611.7 L372.4,608.8 L374.1,605.9 L375.8,603.1 L377.6,600.2 L379.3,597.4 L381.2,594.6 L383.0,591.8 L384.9,589.0 L386.8,586.2 L388.7,583.4 L390.7,580.7 L392.6,577.9 L394.7,575.2 L396.7,572.5 L398.8,569.8 L400.9,567.1 L403.0,564.5 L405.2,561.8 L407.3,559.2 L409.5,556.6 L411.8,554.0 L414.0,551.4 L416.3,548.8 L418.6,546.3 L421.0,543.8 L423.3,541.3 L425.7,538.8 L428.1,536.3 L430.6,533.8 L433.0,531.4 L435.5,528.9 L438.0,526.5 L440.6,524.1 L443.1,521.8 L445.7,519.4 L448.3,517.1 L450.9,514.7 L453.6,512.4 L456.3,510.1 L458.9,507.9 L461.7,505.6 L464.4,503.4 L467.2,501.2 L470.0,499.0 L472.8,496.8 L475.6,494.7 L478.4,492.5 L481.3,490.4 L484.2,488.3 L487.1,486.2 L490.0,484.2 L493.0,482.1 L496.0,480.1 L498.9,478.1 L502.0,476.1 L505.0,474.2 L508.0,472.2 L511.1,470.3 L514.2,468.4 L517.3,466.5 L520.4,464.7 L523.5,462.8 L526.7,461.0 L529.9,459.2 L533.1,457.5 L536.3,455.7 L539.5,454.0 L542.7,452.2 L546.0,450.6 L549.3,448.9 L552.6,447.2 L555.9,445.6 L559.2,444.0 L562.5,442.4 L565.9,440.8 L569.2,439.3 L572.6,437.8 L576.0,436.3 L579.4,434.8 L582.8,433.3 L586.3,431.9 L589.7,430.5 L593.2,429.1 L596.6,427.7 L600.1,426.4 L603.6,425.1 L607.1,423.8 L610.7,422.5 L614.2,421.2 L617.8,420.0 L621.3,418.8 L624.9,417.6 L628.5,416.4 L632.1,415.3 L635.7,414.1 L639.3,413.0 L642.9,411.9 L646.5,410.9 L650.2,409.9 L653.8,408.8 L657.5,407.9 L661.2,406.9 L664.8,405.9 L668.5,405.0 L672.2,404.1 L675.9,403.2 L679.6,402.4 L683.4,401.6 L687.1,400.8 L690.8,400.0 L694.6,399.2 L698.3,398.5 L702.1,397.8 L705.9,397.1 L709.6,396.4 L713.4,395.8 L717.2,395.1 L721.0,394.5 L724.8,394.0 L728.6,393.4 L732.4,392.9 L736.2,392.4 L740.0,391.9 L743.8,391.5 L747.6,391.0 L751.4,390.6 L755.3,390.2 L759.1,389.9 L762.9,389.5 L766.8,389.2 L770.6,388.9 L774.5,388.6 L778.3,388.4 L782.2,388.2 L786.0,388.0 L789.9,387.8 L793.7,387.6 L797.6,387.5 L801.4,387.4 L805.3,387.3 L809.1,387.3 L813.0,387.2 L816.8,387.2" fill="none" stroke="#1a6a94" stroke-width="2" stroke-opacity="0.8"/>
<path clip-path="url(#ts1)" d="M816.8,648.5 L1110.6,380.0 L1103.3,458.9 L816.8,726.2 Z" fill="#d56d38"/>
<path clip-path="url(#ts1)" d="M816.8,726.2 L1103.3,458.9" stroke="#e8702e" stroke-width="1.8" stroke-opacity="0.7"/>
<path clip-path="url(#ts2)" d="M816.8,648.5 L1269.1,523.9 L1257.4,602.2 L816.8,726.2 Z" fill="#2a6f2b"/>
<path clip-path="url(#ts2)" d="M816.8,726.2 L1257.4,602.2" stroke="#1e7a2a" stroke-width="1.8" stroke-opacity="0.7"/>
<path clip-path="url(#ts3)" d="M816.8,648.5 L1307.1,763.4 L1293.5,840.1 L816.8,726.2 Z" fill="#1199c7"/>
<path clip-path="url(#ts3)" d="M816.8,726.2 L1293.5,840.1" stroke="#129fd6" stroke-width="1.8" stroke-opacity="0.7"/>
<path clip-path="url(#ts4)" d="M816.8,648.5 L798.0,1064.0 L798.6,1137.7 L816.8,726.2 Z" fill="#a8409f"/>
<path clip-path="url(#ts4)" d="M816.8,726.2 L798.6,1137.7" stroke="#a0309a" stroke-width="1.8" stroke-opacity="0.7"/>
<path clip-path="url(#ts5)" d="M816.8,648.5 L456.5,948.7 L466.9,1023.7 L816.8,726.2 Z" fill="#4a9c2f"/>
<path clip-path="url(#ts5)" d="M816.8,726.2 L466.9,1023.7" stroke="#4aa42e" stroke-width="1.8" stroke-opacity="0.7"/>
<path clip-path="url(#ts6)" d="M816.8,648.5 L318.5,723.1 L332.1,800.2 L816.8,726.2 Z" fill="#19394b"/>
<path clip-path="url(#ts6)" d="M816.8,726.2 L332.1,800.2" stroke="#173f55" stroke-width="1.8" stroke-opacity="0.7"/>
<path clip-path="url(#ts7)" d="M816.8,648.5 L385.7,494.0 L396.8,572.4 L816.8,726.2 Z" fill="#8c3f15"/>
<path clip-path="url(#ts7)" d="M816.8,726.2 L396.8,572.4" stroke="#9c4412" stroke-width="1.8" stroke-opacity="0.7"/>
<path clip-path="url(#ts8)" d="M816.8,648.5 L598.3,346.0 L603.7,425.0 L816.8,726.2 Z" fill="#0f411c"/>
<path clip-path="url(#ts8)" d="M816.8,726.2 L603.7,425.0" stroke="#14461e" stroke-width="1.8" stroke-opacity="0.7"/>
<path d="M816.8,648.5 L1137.5,976.6 L1128.2,1051.3 L816.8,726.2 Z" fill="#1a80b8"/>
<path d="M816.8,726.2 L1128.2,1051.3 L1137.5,976.6" fill="none" stroke="#1277ad" stroke-width="1.6" stroke-opacity="0.7"/>
<path clip-path="url(#ts3)" d="M816.8,726.2 L1293.5,840.1" stroke="#129fd6" stroke-width="1.8" stroke-opacity="0.5"/>
<path clip-path="url(#ts4)" d="M816.8,726.2 L1293.5,840.1" stroke="#1277ad" stroke-width="1.8" stroke-opacity="0.6"/>
<path d="M816.8,308.1 L820.8,308.1 L824.8,308.2 L828.8,308.2 L832.8,308.3 L836.8,308.4 L840.8,308.6 L844.8,308.7 L848.8,308.9 L852.8,309.1 L856.8,309.3 L860.7,309.6 L864.7,309.9 L868.7,310.2 L872.7,310.5 L876.7,310.8 L880.6,311.2 L884.6,311.6 L888.6,312.0 L892.5,312.5 L896.5,312.9 L900.4,313.4 L904.4,314.0 L908.3,314.5 L912.2,315.1 L916.2,315.6 L920.1,316.3 L924.0,316.9 L927.9,317.6 L931.8,318.2 L935.7,318.9 L939.6,319.7 L943.5,320.4 L947.4,321.2 L951.2,322.0 L955.1,322.8 L958.9,323.7 L962.8,324.6 L966.6,325.4 L970.5,326.4 L974.3,327.3 L978.1,328.3 L981.9,329.3 L985.7,330.3 L989.5,331.3 L993.2,332.4 L997.0,333.5 L1000.7,334.6 L1004.5,335.7 L1008.2,336.8 L1011.9,338.0 L1015.6,339.2 L1019.3,340.4 L1023.0,341.7 L1026.7,342.9 L1030.3,344.2 L1034.0,345.5 L1037.6,346.9 L1041.2,348.2 L1044.9,349.6 L1048.4,351.0 L1052.0,352.4 L1055.6,353.9 L1059.1,355.3 L1062.7,356.8 L1066.2,358.4 L1069.7,359.9 L1073.2,361.4 L1076.7,363.0 L1080.2,364.6 L1083.6,366.3 L1087.0,367.9 L1090.4,369.6 L1093.8,371.3 L1097.2,373.0 L1100.6,374.7 L1103.9,376.4 L1107.3,378.2 L1110.6,380.0" fill="none" stroke="#114560" stroke-width="2.6"/>
<path d="M1110.6,380.0 L1113.9,381.8 L1117.2,383.7 L1120.5,385.6 L1123.7,387.4 L1126.9,389.4 L1130.2,391.3 L1133.4,393.2 L1136.5,395.2 L1139.7,397.2 L1142.8,399.2 L1145.9,401.3 L1149.0,403.3 L1152.1,405.4 L1155.2,407.5 L1158.2,409.6 L1161.2,411.7 L1164.2,413.9 L1167.2,416.1 L1170.1,418.3 L1173.0,420.5 L1175.9,422.7 L1178.8,425.0 L1181.7,427.2 L1184.5,429.5 L1187.3,431.9 L1190.1,434.2 L1192.9,436.5 L1195.6,438.9 L1198.3,441.3 L1201.0,443.7 L1203.7,446.1 L1206.3,448.6 L1208.9,451.0 L1211.5,453.5 L1214.1,456.0 L1216.6,458.5 L1219.1,461.1 L1221.6,463.6 L1224.0,466.2 L1226.5,468.8 L1228.9,471.4 L1231.3,474.0 L1233.6,476.6 L1235.9,479.3 L1238.2,481.9 L1240.5,484.6 L1242.7,487.3 L1244.9,490.1 L1247.1,492.8 L1249.2,495.5 L1251.4,498.3 L1253.5,501.1 L1255.5,503.9 L1257.6,506.7 L1259.6,509.5 L1261.5,512.4 L1263.5,515.2 L1265.4,518.1 L1267.2,521.0 L1269.1,523.9" fill="none" stroke="#c4521a" stroke-width="2.6"/>
<path d="M1269.1,523.9 L1270.9,526.8 L1272.7,529.7 L1274.4,532.7 L1276.2,535.6 L1277.8,538.6 L1279.5,541.6 L1281.1,544.5 L1282.7,547.5 L1284.3,550.6 L1285.8,553.6 L1287.3,556.6 L1288.7,559.7 L1290.1,562.7 L1291.5,565.8 L1292.9,568.9 L1294.2,572.0 L1295.5,575.1 L1296.7,578.2 L1298.0,581.4 L1299.1,584.5 L1300.3,587.7 L1301.4,590.8 L1302.5,594.0 L1303.5,597.2 L1304.5,600.4 L1305.5,603.6 L1306.4,606.8 L1307.3,610.0 L1308.2,613.2 L1309.0,616.5 L1309.8,619.7 L1310.5,623.0 L1311.3,626.2 L1311.9,629.5 L1312.6,632.8 L1313.2,636.0 L1313.7,639.3 L1314.3,642.6 L1314.7,645.9 L1315.2,649.2 L1315.6,652.5 L1316.0,655.8 L1316.3,659.2 L1316.6,662.5 L1316.9,665.8 L1317.1,669.2 L1317.3,672.5 L1317.4,675.9 L1317.5,679.2 L1317.6,682.6 L1317.6,685.9 L1317.6,689.3 L1317.5,692.6 L1317.4,696.0 L1317.3,699.4 L1317.1,702.7 L1316.9,706.1 L1316.7,709.5 L1316.4,712.8 L1316.0,716.2 L1315.6,719.6 L1315.2,723.0 L1314.8,726.3 L1314.3,729.7 L1313.7,733.1 L1313.2,736.5 L1312.5,739.8 L1311.9,743.2 L1311.2,746.6 L1310.4,749.9 L1309.7,753.3 L1308.8,756.7 L1308.0,760.0 L1307.1,763.4" fill="none" stroke="#155a1d" stroke-width="2.6"/>
<path d="M1307.1,763.4 L1306.1,766.7 L1305.1,770.1 L1304.1,773.4 L1303.0,776.7 L1301.9,780.1 L1300.8,783.4 L1299.6,786.7 L1298.4,790.0 L1297.1,793.3 L1295.8,796.6 L1294.4,799.9 L1293.0,803.2 L1291.6,806.5 L1290.1,809.8 L1288.6,813.0 L1287.0,816.3 L1285.4,819.5 L1283.8,822.8 L1282.1,826.0 L1280.4,829.2 L1278.6,832.5 L1276.8,835.7 L1275.0,838.9 L1273.1,842.0 L1271.2,845.2 L1269.2,848.4 L1267.2,851.5 L1265.1,854.7 L1263.1,857.8 L1260.9,860.9 L1258.8,864.0 L1256.6,867.1 L1254.3,870.2 L1252.0,873.3 L1249.7,876.3 L1247.3,879.3 L1244.9,882.4 L1242.5,885.4 L1240.0,888.4 L1237.5,891.3 L1234.9,894.3 L1232.3,897.2 L1229.7,900.2 L1227.0,903.1 L1224.3,906.0 L1221.6,908.8 L1218.8,911.7 L1216.0,914.5 L1213.1,917.4 L1210.2,920.2 L1207.3,923.0 L1204.3,925.7 L1201.3,928.5 L1198.3,931.2 L1195.2,933.9 L1192.1,936.6 L1188.9,939.3 L1185.7,941.9 L1182.5,944.5 L1179.2,947.1 L1175.9,949.7 L1172.6,952.3 L1169.3,954.8 L1165.9,957.3 L1162.4,959.8 L1159.0,962.3 L1155.5,964.7 L1152.0,967.2 L1148.4,969.6 L1144.8,971.9 L1141.2,974.3 L1137.5,976.6" fill="none" stroke="#1277ad" stroke-width="2.6"/>
<path d="M1137.5,976.6 L1133.9,978.9 L1130.2,981.2 L1126.4,983.4 L1122.7,985.6 L1118.9,987.8 L1115.1,989.9 L1111.2,992.1 L1107.3,994.2 L1103.4,996.3 L1099.5,998.3 L1095.5,1000.3 L1091.5,1002.3 L1087.5,1004.3 L1083.5,1006.3 L1079.4,1008.2 L1075.3,1010.0 L1071.2,1011.9 L1067.0,1013.7 L1062.9,1015.5 L1058.7,1017.3 L1054.5,1019.0 L1050.2,1020.7 L1045.9,1022.4 L1041.6,1024.1 L1037.3,1025.7 L1033.0,1027.3 L1028.6,1028.8 L1024.3,1030.3 L1019.9,1031.8 L1015.5,1033.3 L1011.0,1034.7 L1006.6,1036.1 L1002.1,1037.5 L997.6,1038.8 L993.1,1040.1 L988.5,1041.4 L984.0,1042.6 L979.4,1043.8 L974.8,1045.0 L970.2,1046.1 L965.6,1047.2 L961.0,1048.3 L956.4,1049.3 L951.7,1050.3 L947.0,1051.3 L942.3,1052.2 L937.6,1053.1 L932.9,1054.0 L928.2,1054.8 L923.5,1055.6 L918.7,1056.4 L914.0,1057.1 L909.2,1057.8 L904.4,1058.5 L899.6,1059.1 L894.9,1059.7 L890.1,1060.2 L885.3,1060.8 L880.4,1061.2 L875.6,1061.7 L870.8,1062.1 L866.0,1062.5 L861.1,1062.8 L856.3,1063.1 L851.4,1063.4 L846.6,1063.6 L841.7,1063.8 L836.9,1064.0 L832.0,1064.1 L827.2,1064.2 L822.3,1064.3 L817.4,1064.3 L812.6,1064.3 L807.7,1064.2 L802.9,1064.2 L798.0,1064.0" fill="none" stroke="#7a2475" stroke-width="2.6"/>
<path d="M798.0,1064.0 L793.2,1063.9 L788.3,1063.7 L783.5,1063.5 L778.7,1063.2 L773.8,1062.9 L769.0,1062.6 L764.2,1062.2 L759.4,1061.8 L754.6,1061.4 L749.8,1060.9 L745.0,1060.4 L740.2,1059.9 L735.5,1059.3 L730.7,1058.7 L725.9,1058.0 L721.2,1057.3 L716.4,1056.6 L711.7,1055.9 L707.0,1055.1 L702.3,1054.3 L697.6,1053.4 L692.9,1052.5 L688.2,1051.6 L683.6,1050.7 L678.9,1049.7 L674.3,1048.7 L669.7,1047.6 L665.1,1046.5 L660.5,1045.4 L655.9,1044.3 L651.4,1043.1 L646.8,1041.8 L642.3,1040.6 L637.8,1039.3 L633.3,1038.0 L628.9,1036.7 L624.4,1035.3 L620.0,1033.9 L615.6,1032.4 L611.2,1030.9 L606.8,1029.4 L602.5,1027.9 L598.1,1026.3 L593.8,1024.7 L589.6,1023.1 L585.3,1021.5 L581.1,1019.8 L576.8,1018.1 L572.7,1016.3 L568.5,1014.5 L564.3,1012.7 L560.2,1010.9 L556.1,1009.0 L552.1,1007.1 L548.0,1005.2 L544.0,1003.3 L540.0,1001.3 L536.1,999.3 L532.1,997.3 L528.2,995.2 L524.4,993.1 L520.5,991.0 L516.7,988.9 L512.9,986.7 L509.1,984.5 L505.4,982.3 L501.7,980.0 L498.0,977.8 L494.4,975.5 L490.8,973.2 L487.2,970.8 L483.7,968.5 L480.1,966.1 L476.7,963.7 L473.2,961.2 L469.8,958.8 L466.4,956.3 L463.1,953.8 L459.7,951.3 L456.5,948.7" fill="none" stroke="#3c8a28" stroke-width="2.6"/>
<path d="M456.5,948.7 L453.2,946.1 L450.0,943.6 L446.8,940.9 L443.6,938.3 L440.5,935.6 L437.4,933.0 L434.4,930.3 L431.4,927.5 L428.4,924.8 L425.4,922.0 L422.5,919.3 L419.7,916.5 L416.8,913.7 L414.0,910.8 L411.3,908.0 L408.5,905.1 L405.9,902.2 L403.2,899.3 L400.6,896.4 L398.0,893.5 L395.5,890.5 L393.0,887.6 L390.6,884.6 L388.1,881.6 L385.8,878.6 L383.4,875.6 L381.1,872.5 L378.9,869.5 L376.6,866.4 L374.4,863.4 L372.3,860.3 L370.2,857.2 L368.1,854.1 L366.1,850.9 L364.1,847.8 L362.2,844.6 L360.3,841.5 L358.4,838.3 L356.6,835.1 L354.8,832.0 L353.0,828.8 L351.3,825.6 L349.7,822.3 L348.0,819.1 L346.5,815.9 L344.9,812.6 L343.4,809.4 L341.9,806.1 L340.5,802.9 L339.1,799.6 L337.8,796.3 L336.5,793.0 L335.2,789.7 L334.0,786.4 L332.8,783.1 L331.7,779.8 L330.6,776.5 L329.5,773.2 L328.5,769.9 L327.5,766.6 L326.6,763.2 L325.7,759.9 L324.8,756.6 L324.0,753.2 L323.2,749.9 L322.5,746.6 L321.8,743.2 L321.2,739.9 L320.5,736.5 L320.0,733.2 L319.4,729.8 L318.9,726.5 L318.5,723.1" fill="none" stroke="#0f2c3f" stroke-width="2.6"/>
<path d="M318.5,723.1 L318.1,719.8 L317.7,716.4 L317.3,713.1 L317.1,709.7 L316.8,706.4 L316.6,703.0 L316.4,699.6 L316.3,696.3 L316.2,693.0 L316.1,689.6 L316.1,686.3 L316.1,682.9 L316.2,679.6 L316.3,676.3 L316.4,672.9 L316.6,669.6 L316.8,666.3 L317.0,663.0 L317.3,659.6 L317.7,656.3 L318.0,653.0 L318.4,649.7 L318.9,646.4 L319.3,643.2 L319.9,639.9 L320.4,636.6 L321.0,633.3 L321.6,630.1 L322.3,626.8 L323.0,623.6 L323.7,620.4 L324.5,617.1 L325.3,613.9 L326.2,610.7 L327.1,607.5 L328.0,604.3 L328.9,601.1 L329.9,597.9 L331.0,594.8 L332.0,591.6 L333.1,588.4 L334.3,585.3 L335.4,582.2 L336.6,579.1 L337.9,576.0 L339.1,572.9 L340.4,569.8 L341.8,566.7 L343.1,563.6 L344.5,560.6 L346.0,557.5 L347.5,554.5 L349.0,551.5 L350.5,548.5 L352.1,545.5 L353.7,542.5 L355.3,539.5 L357.0,536.6 L358.7,533.6 L360.4,530.7 L362.2,527.8 L364.0,524.9 L365.8,522.0 L367.6,519.1 L369.5,516.3 L371.4,513.4 L373.4,510.6 L375.4,507.8 L377.4,505.0 L379.4,502.2 L381.5,499.4 L383.5,496.7 L385.7,494.0" fill="none" stroke="#7a3510" stroke-width="2.6"/>
<path d="M385.7,494.0 L387.8,491.2 L390.0,488.6 L392.2,485.9 L394.4,483.2 L396.6,480.6 L398.9,478.0 L401.2,475.4 L403.5,472.8 L405.9,470.2 L408.3,467.6 L410.7,465.1 L413.1,462.6 L415.5,460.1 L418.0,457.6 L420.5,455.1 L423.1,452.6 L425.6,450.2 L428.2,447.8 L430.8,445.4 L433.5,443.0 L436.1,440.6 L438.8,438.3 L441.5,436.0 L444.2,433.6 L447.0,431.3 L449.7,429.1 L452.5,426.8 L455.4,424.6 L458.2,422.4 L461.1,420.2 L463.9,418.0 L466.9,415.8 L469.8,413.7 L472.7,411.5 L475.7,409.4 L478.7,407.4 L481.7,405.3 L484.7,403.3 L487.8,401.2 L490.9,399.2 L493.9,397.2 L497.1,395.3 L500.2,393.3 L503.3,391.4 L506.5,389.5 L509.7,387.6 L512.9,385.7 L516.1,383.9 L519.4,382.1 L522.6,380.3 L525.9,378.5 L529.2,376.7 L532.5,375.0 L535.8,373.3 L539.2,371.6 L542.5,369.9 L545.9,368.3 L549.3,366.6 L552.7,365.0 L556.1,363.4 L559.6,361.9 L563.0,360.3 L566.5,358.8 L570.0,357.3 L573.5,355.8 L577.0,354.3 L580.5,352.9 L584.0,351.5 L587.6,350.1 L591.2,348.7 L594.7,347.4 L598.3,346.0" fill="none" stroke="#0c3216" stroke-width="2.6"/>
<path d="M598.3,346.0 L602.0,344.7 L605.7,343.4 L609.4,342.1 L613.1,340.9 L616.8,339.6 L620.5,338.4 L624.2,337.2 L628.0,336.1 L631.8,334.9 L635.5,333.8 L639.3,332.7 L643.1,331.6 L646.9,330.6 L650.7,329.5 L654.6,328.5 L658.4,327.6 L662.2,326.6 L666.1,325.7 L669.9,324.8 L673.8,323.9 L677.7,323.0 L681.6,322.2 L685.5,321.4 L689.4,320.6 L693.3,319.8 L697.2,319.1 L701.1,318.4 L705.0,317.7 L709.0,317.0 L712.9,316.4 L716.9,315.7 L720.8,315.2 L724.8,314.6 L728.7,314.0 L732.7,313.5 L736.7,313.0 L740.7,312.5 L744.7,312.1 L748.6,311.7 L752.6,311.3 L756.6,310.9 L760.6,310.5 L764.6,310.2 L768.6,309.9 L772.6,309.6 L776.7,309.4 L780.7,309.1 L784.7,308.9 L788.7,308.7 L792.7,308.6 L796.7,308.4 L800.8,308.3 L804.8,308.2 L808.8,308.2 L812.8,308.2 L816.8,308.1" fill="none" stroke="#0e4a6c" stroke-width="2.6"/>
<path d="M1110.6,380.0 L1103.3,458.9" stroke="#c4521a" stroke-width="1.6" stroke-opacity="0.6"/>
<path d="M1269.1,523.9 L1257.4,602.2" stroke="#155a1d" stroke-width="1.6" stroke-opacity="0.6"/>
<path d="M1307.1,763.4 L1293.5,840.1" stroke="#1277ad" stroke-width="1.6" stroke-opacity="0.6"/>
<path d="M1137.5,976.6 L1128.2,1051.3" stroke="#1277ad" stroke-width="1.6" stroke-opacity="0.6"/>
<path d="M798.0,1064.0 L798.6,1137.7" stroke="#7a2475" stroke-width="1.6" stroke-opacity="0.6"/>
<path d="M456.5,948.7 L466.9,1023.7" stroke="#3c8a28" stroke-width="1.6" stroke-opacity="0.6"/>
<path d="M318.5,723.1 L332.1,800.2" stroke="#0f2c3f" stroke-width="1.6" stroke-opacity="0.6"/>
<path d="M385.7,494.0 L396.8,572.4" stroke="#7a3510" stroke-width="1.6" stroke-opacity="0.6"/>
<path d="M598.3,346.0 L603.7,425.0" stroke="#0c3216" stroke-width="1.6" stroke-opacity="0.6"/>
<path d="M816.8,648.5 L816.8,308.1" stroke="#0e4a6c" stroke-width="2.2"/>
<path d="M816.8,648.5 L1110.6,380.0" stroke="#c4521a" stroke-width="2.2"/>
<path d="M816.8,648.5 L1269.1,523.9" stroke="#155a1d" stroke-width="2.2"/>
<path d="M816.8,648.5 L1307.1,763.4" stroke="#1277ad" stroke-width="2.2"/>
<path d="M816.8,648.5 L1137.5,976.6" stroke="#1277ad" stroke-width="2.2"/>
<path d="M816.8,648.5 L798.0,1064.0" stroke="#7a2475" stroke-width="2.2"/>
<path d="M816.8,648.5 L456.5,948.7" stroke="#3c8a28" stroke-width="2.2"/>
<path d="M816.8,648.5 L318.5,723.1" stroke="#0f2c3f" stroke-width="2.2"/>
<path d="M816.8,648.5 L385.7,494.0" stroke="#7a3510" stroke-width="2.2"/>
<path d="M816.8,648.5 L598.3,346.0" stroke="#0c3216" stroke-width="2.2"/>
<polyline points="1065,257 1047,257 970,327" fill="none" stroke="#a3a3a3" stroke-width="2.6"/><polyline points="1289,412 1270,412 1202,443" fill="none" stroke="#a3a3a3" stroke-width="2.6"/><polyline points="1309,874 1292,874 1232,953" fill="none" stroke="#a3a3a3" stroke-width="2.6"/><polyline points="1072,1159 1053,1159 973,1117" fill="none" stroke="#a3a3a3" stroke-width="2.6"/><polyline points="566,1176.5 587,1176.5 618,1103" fill="none" stroke="#a3a3a3" stroke-width="2.6"/><polyline points="331,927 351,927 375,918.5" fill="none" stroke="#a3a3a3" stroke-width="2.6"/><polyline points="380,307.4 398,307.4 477.6,407.8" fill="none" stroke="#a3a3a3" stroke-width="2.6"/>
</svg>
<div class="lb" style="left:1065px;top:181px;width:336.5px;height:150.5px;border-color:#1b6185;color:#1b6185;background:#f7f9f9;box-shadow:7px 8px 13px #1b618560"><div class="ln" style="top:19.1px"><span class="j">北海道</span>(50.1<span class="j">歳</span>),</div><div class="ln" style="top:85.1px">¥404,000</div></div><div class="lb" style="left:1289px;top:357.5px;width:290px;height:151.0px;border-color:#e8702e;color:#e8702e;background:#fcf9f7;box-shadow:7px 8px 13px #e8702e60"><div class="ln" style="top:19.3px"><span class="j">東北</span>(50.5<span class="j">歳</span>),</div><div class="ln" style="top:85.3px">¥312,000</div></div><div class="lb" style="left:1326px;top:569px;width:291.5px;height:151.29999999999995px;border-color:#1e7a2a;color:#1e7a2a;background:#f7f9f7;box-shadow:7px 8px 13px #1e7a2a60"><div class="ln" style="top:19.4px"><span class="j">関東</span>(48.3<span class="j">歳</span>),</div><div class="ln" style="top:85.4px">¥384,000</div></div><div class="lb" style="left:1309px;top:780.2px;width:301px;height:228.0999999999999px;border-color:#129fd6;color:#129fd6;background:#f7fafc;box-shadow:7px 8px 13px #129fd660"><div class="ln" style="top:18.6px"><span class="j">北陸信越</span></div><div class="ln" style="top:95.5px">(48.8<span class="j">歳</span>),</div><div class="ln" style="top:160.6px">¥373,000</div></div><div class="lb" style="left:1072px;top:1072.2px;width:319px;height:183.39999999999986px;border-color:#a0309a;color:#a0309a;background:#faf7fa;box-shadow:7px 8px 13px #a0309a60"><div class="ln" style="top:35.5px"><span class="j">中部</span>(49.5<span class="j">歳</span>),</div><div class="ln" style="top:101.5px">¥392,000</div></div><div class="lb" style="left:274.3px;top:1102.1px;width:291.7px;height:151.20000000000005px;border-color:#4aa42e;color:#4aa42e;background:#f8faf7;box-shadow:7px 8px 13px #4aa42e60"><div class="ln" style="top:19.4px"><span class="j">近畿</span>(49.9<span class="j">歳</span>),</div><div class="ln" style="top:85.4px">¥411,000</div></div><div class="lb" style="left:41.4px;top:852px;width:290.0px;height:150.5px;border-color:#173f55;color:#173f55;background:#f7f8f8;box-shadow:7px 8px 13px #173f5560"><div class="ln" style="top:19.0px"><span class="j">中国</span>(49.4<span class="j">歳</span>),</div><div class="ln" style="top:85.0px">¥376,000</div></div><div class="lb" style="left:25.6px;top:528.8px;width:294.79999999999995px;height:193.9000000000001px;border-color:#9c4412;color:#9c4412;background:#faf8f7;box-shadow:7px 8px 13px #9c441260"><div class="ln" style="top:40.8px"><span class="j">四国</span>(48.6<span class="j">歳</span>),</div><div class="ln" style="top:106.8px">¥377,000</div></div><div class="lb" style="left:89px;top:252.1px;width:290.6px;height:150.29999999999998px;border-color:#14461e;color:#14461e;background:#f7f8f7;box-shadow:7px 8px 13px #14461e60"><div class="ln" style="top:19.0px"><span class="j">九州</span>(48.4<span class="j">歳</span>),</div><div class="ln" style="top:85.0px">¥369,000</div></div><div class="lb" style="left:409px;top:162.8px;width:327px;height:154.7px;border-color:#11607f;color:#11607f;background:#f7f9f9;box-shadow:7px 8px 13px #11607f60"><div class="ln" style="top:21.1px"><span class="j">沖縄</span>(49.5<span class="j">歳</span>),</div><div class="ln" style="top:87.1px">¥292,000</div></div>
<div class="lg" style="top:366.0px"><span class="mk" style="background:#2c6e8c;border-color:#114560"></span><span class="lt"><span class="j">北海道</span>(50.1<span class="j">歳</span>)</span></div><div class="lg" style="top:443.5px"><span class="mk" style="background:#e97b43;border-color:#c4521a"></span><span class="lt"><span class="j">東北</span>(50.5<span class="j">歳</span>)</span></div><div class="lg" style="top:521.0px"><span class="mk" style="background:#2f7a37;border-color:#155a1d"></span><span class="lt"><span class="j">関東</span>(48.3<span class="j">歳</span>)</span></div><div class="lg" style="top:598.5px"><span class="mk" style="background:#24a4d8;border-color:#1277ad"></span><span class="lt"><span class="j">北陸信越</span>(48.8<span class="j">歳</span>)</span></div><div class="lg" style="top:676.0px"><span class="mk" style="background:#a8409f;border-color:#7a2475"></span><span class="lt"><span class="j">中部</span>(49.5<span class="j">歳</span>)</span></div><div class="lg" style="top:753.5px"><span class="mk" style="background:#61ae44;border-color:#3c8a28"></span><span class="lt"><span class="j">近畿</span>(49.9<span class="j">歳</span>)</span></div><div class="lg" style="top:831.0px"><span class="mk" style="background:#234b5f;border-color:#0f2c3f"></span><span class="lt"><span class="j">中国</span>(49.4<span class="j">歳</span>)</span></div><div class="lg" style="top:908.5px"><span class="mk" style="background:#a0522d;border-color:#7a3510"></span><span class="lt"><span class="j">四国</span>(48.6<span class="j">歳</span>)</span></div><div class="lg" style="top:986.0px"><span class="mk" style="background:#26522d;border-color:#0c3216"></span><span class="lt"><span class="j">九州</span>(48.4<span class="j">歳</span>)</span></div><div class="lg" style="top:1063.5px"><span class="mk" style="background:#236b8c;border-color:#0e4a6c"></span><span class="lt"><span class="j">沖縄</span>(49.5<span class="j">歳</span>)</span></div>
</body></html>
